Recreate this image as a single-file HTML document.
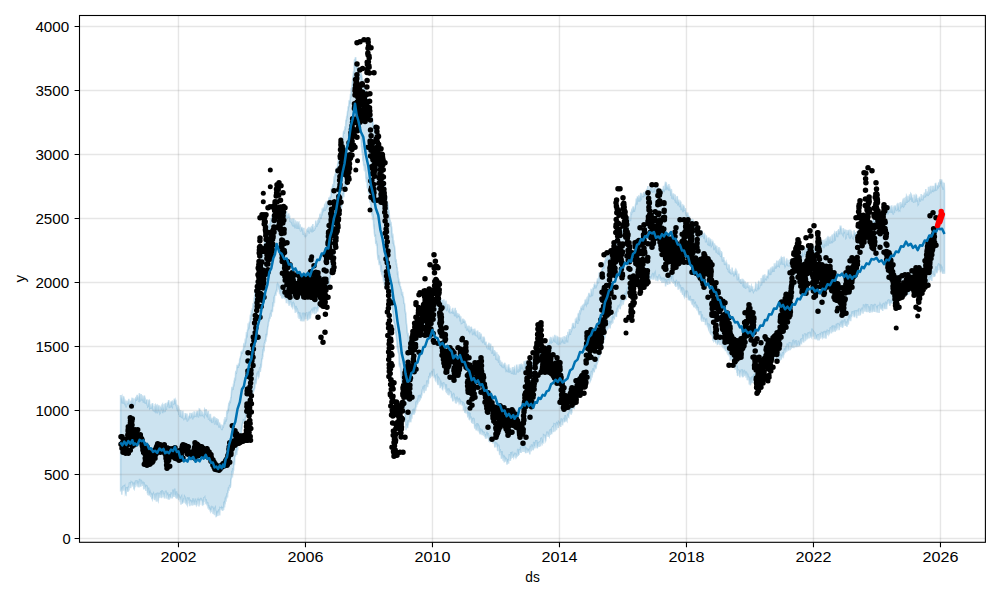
<!DOCTYPE html><html><head><meta charset="utf-8"><style>html,body{margin:0;padding:0;background:#fff;}svg{display:block}text{font-family:"Liberation Sans",sans-serif;fill:#000}</style></head><body>
<svg width="1000" height="600" viewBox="0 0 1000 600">
<rect x="0" y="0" width="1000" height="600" fill="#fff"/>
<polygon points="120.6,395.1 120.9,398.4 121.2,398.7 121.5,396.7 121.8,396.2 122.1,403.5 122.3,400.2 122.6,397.7 122.9,401.5 123.2,403.7 123.5,396.9 123.8,397.1 124.1,398.6 124.4,404.0 124.7,399.2 125.0,404.4 125.3,404.3 125.5,403.3 125.8,400.5 126.1,407.4 126.4,405.8 126.7,403.3 127.0,400.6 127.3,404.4 127.6,402.0 127.9,403.6 128.2,401.3 128.5,404.0 128.8,398.8 129.1,400.9 129.4,406.8 129.7,405.9 130.0,400.7 130.3,405.6 130.6,400.6 130.9,406.2 131.2,404.4 131.5,401.4 131.8,399.9 132.1,397.7 132.4,405.5 132.7,397.9 133.0,404.8 133.3,406.0 133.6,402.3 133.9,398.5 134.2,404.5 134.5,405.3 134.8,402.6 135.1,400.5 135.4,399.0 135.7,398.5 136.0,396.9 136.3,400.8 136.6,398.4 136.9,396.0 137.2,394.9 137.5,399.8 137.8,396.3 138.1,398.0 138.4,396.3 138.7,401.1 139.0,401.3 139.3,393.2 139.6,394.7 139.9,395.7 140.2,401.5 140.5,399.5 140.8,395.4 141.1,394.1 141.4,398.2 141.7,399.5 142.0,400.3 142.3,395.4 142.6,400.6 142.9,399.2 143.1,397.8 143.4,402.6 143.7,396.2 144.0,401.0 144.3,395.5 144.6,396.6 144.9,403.5 145.1,397.5 145.4,402.7 145.7,401.6 146.0,404.0 146.3,400.1 146.6,400.1 146.9,400.0 147.2,405.4 147.5,403.4 147.8,406.8 148.1,406.5 148.4,400.0 148.6,404.1 148.9,400.4 149.2,400.1 149.5,400.7 149.8,408.1 150.1,407.7 150.4,408.4 150.7,404.3 151.0,407.1 151.3,408.8 151.6,405.3 151.9,407.1 152.2,404.2 152.5,403.1 152.8,404.9 153.1,410.7 153.4,407.9 153.7,411.4 154.0,407.3 154.3,405.9 154.6,410.7 154.9,411.2 155.2,404.0 155.5,410.1 155.8,405.0 156.1,405.4 156.4,412.4 156.7,404.9 157.0,406.8 157.3,413.5 157.6,408.3 157.9,405.6 158.2,406.0 158.5,406.7 158.8,411.2 159.1,405.4 159.4,412.7 159.7,407.9 160.0,413.2 160.3,412.7 160.6,407.2 160.9,406.8 161.2,408.8 161.5,405.4 161.8,410.3 162.1,404.8 162.4,404.4 162.7,413.1 163.0,406.8 163.3,409.4 163.6,407.9 163.9,406.5 164.2,404.0 164.5,411.4 164.8,411.5 165.1,411.2 165.4,403.1 165.7,403.7 166.0,407.0 166.3,409.9 166.6,405.6 166.9,406.6 167.2,406.1 167.5,402.3 167.8,404.6 168.1,402.4 168.4,401.8 168.7,400.2 169.0,402.0 169.3,408.3 169.6,403.4 169.9,405.2 170.2,405.1 170.5,407.7 170.8,402.7 171.1,401.9 171.4,402.0 171.7,401.8 172.0,406.5 172.3,406.9 172.6,401.5 172.9,401.8 173.2,403.6 173.5,403.9 173.8,404.0 174.1,400.8 174.4,398.7 174.7,400.7 175.0,399.2 175.3,403.9 175.6,400.0 175.9,400.6 176.2,406.2 176.5,403.7 176.8,408.8 177.1,406.8 177.4,410.8 177.7,405.1 178.0,408.9 178.3,412.2 178.6,406.4 178.9,414.9 179.2,408.5 179.5,414.4 179.8,416.8 180.1,415.7 180.4,411.6 180.7,410.0 181.0,413.9 181.3,417.8 181.6,412.4 181.9,418.0 182.2,411.4 182.5,418.5 182.8,410.7 183.1,413.4 183.4,418.8 183.7,418.0 184.0,419.0 184.3,418.5 184.6,417.8 184.9,417.5 185.2,413.0 185.5,415.5 185.8,413.2 186.1,418.5 186.4,418.3 186.7,414.9 187.0,413.5 187.3,421.5 187.6,420.0 187.9,417.6 188.2,417.5 188.5,420.3 188.8,416.7 189.1,416.1 189.4,415.6 189.7,414.9 190.0,412.8 190.3,418.4 190.6,416.3 190.9,417.7 191.2,413.1 191.5,415.7 191.8,413.6 192.1,413.4 192.4,414.5 192.7,419.5 193.0,415.4 193.3,415.4 193.6,417.2 193.9,413.6 194.2,411.4 194.5,415.9 194.8,415.4 195.1,416.4 195.4,414.3 195.7,416.2 196.0,416.3 196.3,411.6 196.6,413.6 196.9,413.2 197.2,410.8 197.5,412.3 197.8,413.5 198.1,416.6 198.4,416.7 198.7,410.9 199.0,414.4 199.3,408.9 199.6,409.0 199.9,412.9 200.2,416.1 200.5,409.7 200.8,415.1 201.1,416.2 201.4,411.1 201.7,414.5 202.0,416.0 202.3,411.7 202.6,414.7 202.9,415.0 203.2,413.7 203.5,416.0 203.8,416.2 204.1,416.7 204.4,413.1 204.7,409.3 205.0,409.8 205.3,409.8 205.6,413.2 205.9,415.1 206.2,409.0 206.5,415.0 206.8,415.6 207.1,412.6 207.4,414.4 207.7,411.5 208.0,416.9 208.3,411.0 208.6,419.8 208.9,418.5 209.2,417.2 209.5,414.2 209.8,420.3 210.1,420.9 210.4,413.7 210.7,419.6 211.0,420.4 211.3,419.1 211.6,419.8 211.9,417.8 212.2,422.3 212.5,423.0 212.8,417.9 213.1,421.9 213.4,418.8 213.7,416.5 214.0,418.2 214.3,416.6 214.6,423.8 214.9,424.5 215.2,417.2 215.5,421.8 215.8,420.4 216.1,418.1 216.4,420.1 216.7,420.1 217.0,425.1 217.3,418.5 217.6,420.4 217.9,422.9 218.2,419.4 218.5,425.1 218.8,425.3 219.1,427.7 219.4,422.5 219.7,423.5 220.0,426.3 220.3,424.2 220.6,427.4 220.9,424.3 221.2,428.1 221.5,428.9 221.8,428.9 222.1,430.1 222.4,426.0 222.7,425.1 223.0,428.1 223.3,426.9 223.6,424.8 223.9,422.7 224.2,421.5 224.5,418.9 224.8,424.2 225.1,417.0 225.3,421.6 225.6,418.8 225.9,421.6 226.2,418.7 226.5,419.6 226.8,411.1 227.0,413.4 227.3,413.0 227.6,409.7 227.9,410.4 228.2,408.1 228.5,408.7 228.8,402.9 229.0,405.6 229.3,404.4 229.6,401.7 229.9,401.1 230.2,403.1 230.5,400.7 230.8,397.4 231.1,397.2 231.4,393.2 231.7,390.1 232.0,386.7 232.3,387.5 232.6,388.9 232.9,389.9 233.2,387.9 233.5,383.6 233.8,386.5 234.1,380.5 234.4,382.6 234.7,377.6 235.0,379.4 235.3,380.5 235.6,373.2 235.9,370.9 236.2,373.8 236.5,371.9 236.8,369.2 237.1,364.9 237.4,367.3 237.7,366.5 238.0,365.1 238.3,367.9 238.6,364.2 238.9,364.3 239.2,364.5 239.5,361.9 239.8,358.3 240.1,359.4 240.4,357.2 240.7,356.0 241.0,354.6 241.2,351.4 241.5,352.6 241.8,351.9 242.1,353.8 242.4,351.7 242.7,351.6 243.0,350.2 243.3,350.0 243.6,347.4 243.8,344.4 244.1,343.0 244.4,346.3 244.7,347.1 245.0,343.4 245.3,338.6 245.6,343.4 245.9,338.9 246.2,337.3 246.5,332.1 246.8,334.8 247.1,335.4 247.4,331.1 247.7,329.1 247.9,330.5 248.2,323.4 248.5,326.4 248.8,329.1 249.1,325.5 249.4,321.6 249.7,322.9 250.0,320.8 250.3,315.9 250.6,314.8 250.9,319.7 251.2,312.9 251.4,310.0 251.7,315.5 252.0,311.5 252.3,308.8 252.6,308.8 252.8,309.5 253.1,303.0 253.4,305.9 253.7,305.0 254.0,304.0 254.3,297.2 254.6,298.3 254.9,293.0 255.2,293.9 255.5,288.5 255.8,292.0 256.1,290.7 256.4,283.9 256.6,281.0 256.9,285.7 257.2,281.5 257.5,280.9 257.8,271.7 258.1,277.7 258.4,273.5 258.7,269.0 259.0,268.3 259.3,269.8 259.6,268.6 259.9,261.8 260.2,264.3 260.5,258.7 260.8,264.5 261.1,258.3 261.4,261.0 261.7,257.9 262.0,255.3 262.3,250.8 262.6,251.7 262.9,246.7 263.1,245.3 263.4,249.0 263.7,244.4 264.0,246.5 264.3,240.5 264.6,243.4 264.9,242.0 265.2,236.9 265.5,233.8 265.8,235.1 266.1,234.6 266.4,229.7 266.7,229.2 267.0,226.7 267.3,230.9 267.6,232.9 267.9,226.2 268.2,223.9 268.5,229.3 268.8,229.6 269.1,230.3 269.4,226.4 269.7,223.3 270.0,227.0 270.3,219.8 270.6,224.3 270.9,218.1 271.1,220.1 271.4,220.1 271.7,218.2 272.0,215.5 272.3,215.2 272.6,219.6 272.9,215.4 273.2,215.6 273.5,211.3 273.8,214.9 274.1,210.5 274.4,212.0 274.7,213.9 275.0,213.8 275.3,204.4 275.6,211.1 275.9,211.6 276.2,206.8 276.5,207.5 276.8,209.3 277.0,212.4 277.3,207.9 277.6,212.3 277.9,211.4 278.2,206.0 278.5,213.1 278.8,205.1 279.1,206.5 279.4,211.3 279.7,206.0 280.0,209.1 280.2,207.0 280.5,210.2 280.8,213.7 281.1,214.4 281.4,206.7 281.7,207.1 282.0,214.2 282.3,207.2 282.6,209.3 282.9,208.0 283.1,207.9 283.4,207.4 283.7,213.0 284.0,214.1 284.3,213.8 284.6,215.4 284.9,214.1 285.2,212.0 285.5,214.6 285.8,218.0 286.1,215.5 286.4,212.3 286.6,211.0 286.9,219.2 287.2,216.5 287.5,214.7 287.8,217.3 288.1,217.2 288.4,217.2 288.7,213.4 289.0,216.3 289.3,217.1 289.6,215.5 289.9,221.9 290.1,218.1 290.4,220.6 290.7,221.4 291.0,222.0 291.3,222.1 291.6,222.7 291.9,218.5 292.2,225.3 292.5,218.2 292.8,225.4 293.1,225.2 293.4,225.5 293.6,218.6 293.9,219.2 294.2,226.0 294.5,223.2 294.8,222.6 295.1,228.4 295.4,220.2 295.7,224.8 296.0,224.2 296.3,221.6 296.6,224.2 296.9,227.2 297.1,229.0 297.4,221.4 297.7,226.1 298.0,222.3 298.3,228.9 298.6,222.7 298.9,222.4 299.2,225.7 299.5,229.1 299.8,225.6 300.1,224.2 300.4,230.4 300.6,230.8 300.9,231.5 301.2,226.9 301.5,228.2 301.8,226.9 302.1,230.0 302.4,228.3 302.7,228.6 303.0,232.9 303.3,234.8 303.6,231.7 303.9,227.7 304.1,232.9 304.4,231.4 304.7,236.5 305.0,234.4 305.3,235.7 305.6,234.8 305.9,233.1 306.2,236.2 306.5,235.4 306.8,230.3 307.1,228.9 307.4,230.7 307.6,231.8 307.9,227.8 308.2,229.9 308.5,231.7 308.8,226.7 309.1,233.5 309.4,231.8 309.7,228.6 310.0,228.3 310.3,228.5 310.6,228.1 310.9,231.7 311.1,229.3 311.4,229.3 311.7,225.7 312.0,232.4 312.3,226.9 312.6,226.8 312.9,224.0 313.2,231.7 313.5,226.7 313.8,230.2 314.1,229.9 314.4,229.9 314.6,228.1 314.9,228.7 315.2,228.3 315.5,226.8 315.8,220.5 316.1,223.6 316.4,223.7 316.7,227.0 317.0,224.8 317.3,223.6 317.6,223.6 317.9,219.7 318.1,224.5 318.4,221.3 318.7,218.6 319.0,218.7 319.3,222.8 319.6,218.3 319.9,214.5 320.2,213.8 320.5,218.1 320.8,216.4 321.1,218.9 321.4,211.9 321.6,213.4 321.9,215.6 322.2,209.0 322.5,208.9 322.8,212.3 323.1,209.3 323.4,207.3 323.7,208.2 324.0,211.0 324.3,209.6 324.6,205.0 324.9,204.5 325.1,211.0 325.4,208.6 325.7,203.8 326.0,209.5 326.3,201.3 326.6,203.8 326.9,207.3 327.2,205.2 327.5,200.6 327.8,205.2 328.0,201.7 328.3,203.2 328.6,202.6 328.9,197.6 329.2,199.0 329.5,197.1 329.8,199.9 330.1,197.8 330.3,196.4 330.6,196.4 330.9,197.4 331.2,190.1 331.5,188.2 331.8,191.8 332.1,190.8 332.4,187.3 332.7,185.9 333.0,184.0 333.2,187.2 333.5,185.3 333.8,182.3 334.1,176.2 334.4,182.4 334.7,177.7 335.0,174.1 335.3,173.9 335.6,176.1 335.9,168.6 336.2,168.3 336.5,168.5 336.7,172.3 337.0,169.5 337.3,170.0 337.6,164.6 337.9,163.3 338.2,161.5 338.5,159.7 338.8,158.3 339.1,159.1 339.4,158.7 339.7,152.2 340.0,152.6 340.2,148.1 340.5,146.4 340.8,146.7 341.1,145.8 341.4,143.9 341.7,146.2 342.0,137.3 342.3,140.1 342.6,141.8 342.9,138.0 343.2,135.0 343.5,131.8 343.8,130.6 344.1,134.0 344.4,132.1 344.7,128.7 345.0,129.3 345.3,128.1 345.6,125.9 345.9,120.3 346.1,119.6 346.4,121.1 346.7,115.9 347.0,117.8 347.3,114.0 347.6,111.2 347.9,110.8 348.2,106.3 348.5,107.0 348.8,106.0 349.1,100.9 349.4,100.7 349.7,100.0 350.0,103.7 350.3,98.9 350.6,93.8 350.9,97.8 351.2,88.7 351.5,88.5 351.8,88.1 352.1,85.2 352.4,80.5 352.6,81.1 352.9,76.1 353.2,75.8 353.5,71.4 353.8,73.4 354.1,68.8 354.4,60.9 354.7,59.0 355.0,64.4 355.3,58.4 355.6,57.2 355.9,60.0 356.2,62.9 356.5,68.0 356.8,63.8 357.0,67.6 357.3,69.5 357.6,63.7 357.9,69.4 358.2,73.7 358.5,70.6 358.8,71.3 359.1,70.4 359.4,76.6 359.7,77.6 360.0,70.5 360.2,75.1 360.5,74.5 360.8,77.3 361.1,72.9 361.4,74.7 361.7,75.4 362.0,77.7 362.3,81.7 362.6,83.5 362.9,84.0 363.2,84.2 363.5,80.1 363.8,84.0 364.1,87.7 364.4,85.5 364.7,88.7 365.0,93.4 365.3,87.5 365.6,95.4 365.9,89.9 366.2,93.6 366.5,99.6 366.8,94.5 367.1,98.5 367.4,98.7 367.7,104.0 368.0,106.0 368.3,100.9 368.6,104.0 368.9,108.8 369.2,106.8 369.5,105.0 369.8,111.0 370.1,108.4 370.4,110.9 370.7,107.8 371.0,117.9 371.3,116.1 371.6,119.9 371.9,121.6 372.2,116.7 372.5,120.6 372.8,121.2 373.1,125.6 373.4,127.9 373.7,123.9 374.0,125.9 374.3,131.3 374.6,130.2 374.9,129.3 375.2,131.5 375.5,136.4 375.8,138.3 376.1,143.2 376.4,140.9 376.7,143.2 377.0,140.6 377.3,144.6 377.6,144.9 377.9,150.2 378.2,147.9 378.5,148.9 378.8,151.8 379.1,154.3 379.4,154.6 379.7,158.6 380.0,156.4 380.3,164.6 380.6,164.8 380.9,165.3 381.2,163.0 381.5,167.3 381.8,172.5 382.1,174.0 382.4,177.5 382.7,180.1 383.0,176.8 383.3,180.3 383.6,180.7 383.9,180.7 384.2,182.6 384.5,185.5 384.8,185.7 385.1,191.5 385.4,194.7 385.6,195.2 385.9,198.1 386.2,195.7 386.5,197.2 386.8,202.3 387.1,206.9 387.4,204.5 387.7,202.5 388.0,204.4 388.3,208.7 388.6,213.2 388.9,210.2 389.2,213.2 389.5,219.1 389.8,223.6 390.1,219.5 390.4,223.6 390.7,224.6 391.0,221.9 391.3,226.5 391.6,226.7 391.9,229.7 392.2,236.3 392.4,237.5 392.7,233.7 393.0,236.0 393.3,243.9 393.6,240.3 393.9,244.2 394.2,245.8 394.4,245.8 394.7,247.6 395.0,250.6 395.3,254.9 395.6,261.6 395.9,260.9 396.2,259.3 396.4,265.2 396.7,263.4 397.0,267.5 397.3,267.6 397.6,275.0 397.9,271.4 398.2,277.2 398.4,277.5 398.7,281.0 399.0,280.6 399.3,284.7 399.6,281.7 399.9,285.4 400.2,286.1 400.5,286.6 400.8,288.2 401.1,289.2 401.4,289.3 401.7,295.2 402.0,294.2 402.3,294.8 402.6,291.8 402.9,297.4 403.2,296.0 403.5,297.9 403.8,301.4 404.1,304.0 404.4,303.0 404.7,304.8 405.0,309.7 405.3,311.7 405.6,313.6 405.8,313.5 406.1,318.4 406.4,323.5 406.7,325.0 407.0,327.5 407.3,332.7 407.6,334.0 407.9,336.1 408.1,332.7 408.4,337.5 408.7,343.3 409.0,340.9 409.3,346.9 409.6,339.2 409.9,345.1 410.2,338.3 410.5,343.1 410.8,342.4 411.1,337.0 411.4,341.1 411.7,333.7 412.0,339.1 412.3,334.1 412.6,333.8 412.9,330.1 413.1,333.7 413.4,329.9 413.7,332.7 414.0,333.1 414.3,330.6 414.6,324.5 414.9,332.2 415.2,331.2 415.5,327.9 415.8,324.7 416.1,325.4 416.4,327.5 416.7,322.8 417.0,325.0 417.3,322.8 417.6,320.6 417.9,324.5 418.2,319.2 418.5,320.4 418.8,314.8 419.1,318.0 419.4,313.5 419.7,319.0 420.0,312.1 420.3,312.0 420.6,312.1 420.9,311.9 421.1,314.8 421.4,313.1 421.7,311.9 422.0,317.9 422.3,316.9 422.6,314.3 422.9,315.3 423.2,315.1 423.5,309.6 423.8,314.4 424.1,308.9 424.4,311.5 424.7,309.3 425.0,307.2 425.3,312.5 425.6,313.6 425.9,307.9 426.2,312.8 426.5,307.7 426.8,310.2 427.1,313.0 427.4,310.7 427.7,304.1 428.0,307.3 428.3,306.6 428.6,305.6 428.9,310.2 429.2,306.6 429.5,308.8 429.8,308.1 430.1,306.9 430.4,302.6 430.7,307.9 431.0,309.7 431.3,303.1 431.6,307.1 431.9,305.5 432.2,303.9 432.5,306.9 432.8,309.0 433.1,300.2 433.4,307.7 433.7,302.8 434.0,306.6 434.3,300.3 434.6,304.9 434.9,299.1 435.2,300.9 435.5,306.3 435.8,303.2 436.1,304.0 436.4,300.8 436.7,300.6 437.0,300.9 437.3,303.7 437.6,303.4 437.9,298.8 438.2,301.2 438.5,302.4 438.8,302.8 439.1,306.2 439.4,305.5 439.7,299.5 440.0,301.6 440.3,299.3 440.6,298.6 440.9,299.1 441.2,300.1 441.5,305.4 441.8,304.6 442.1,305.8 442.4,301.2 442.7,300.1 443.0,307.5 443.3,306.3 443.6,307.5 443.9,299.3 444.2,302.8 444.5,305.1 444.8,306.3 445.1,308.1 445.4,304.9 445.7,303.8 446.0,300.5 446.3,308.0 446.6,309.8 446.9,309.4 447.2,307.4 447.5,304.8 447.8,304.1 448.1,309.1 448.4,310.8 448.7,311.3 449.0,304.6 449.3,308.7 449.6,308.4 449.9,308.0 450.2,311.7 450.5,313.3 450.8,311.7 451.1,311.8 451.4,312.0 451.7,311.9 452.0,311.1 452.2,308.7 452.5,313.6 452.8,307.8 453.1,312.6 453.4,310.4 453.7,312.0 454.0,312.9 454.3,311.5 454.6,316.1 454.9,309.6 455.2,307.8 455.5,316.5 455.8,310.9 456.1,310.9 456.4,312.4 456.7,314.4 457.0,318.2 457.3,316.1 457.6,313.0 457.9,315.4 458.2,315.0 458.5,315.9 458.7,315.6 459.0,313.8 459.3,316.3 459.6,316.7 459.9,315.5 460.2,321.5 460.5,317.8 460.8,316.3 461.1,320.5 461.4,323.4 461.7,323.3 462.0,322.2 462.3,323.5 462.6,320.1 462.9,318.6 463.2,319.9 463.5,321.1 463.8,320.8 464.1,322.9 464.4,320.4 464.7,320.7 465.0,322.3 465.3,322.2 465.6,328.2 465.9,326.3 466.2,323.7 466.5,326.2 466.8,330.7 467.1,328.4 467.4,328.6 467.6,327.5 467.9,326.1 468.2,330.3 468.5,325.6 468.8,332.2 469.1,325.8 469.4,332.2 469.7,329.0 470.0,331.8 470.3,331.1 470.6,327.0 470.9,330.8 471.2,326.6 471.5,328.2 471.8,329.5 472.1,328.7 472.4,332.1 472.7,335.1 473.0,329.6 473.3,334.1 473.6,328.8 473.9,333.3 474.2,330.3 474.5,332.3 474.8,328.5 475.1,335.5 475.4,330.2 475.6,332.7 475.9,331.4 476.2,336.3 476.5,334.5 476.8,334.9 477.1,336.4 477.4,332.0 477.7,330.5 478.0,337.6 478.3,333.1 478.6,337.8 478.9,339.3 479.2,336.6 479.5,332.1 479.8,339.1 480.1,337.3 480.4,334.1 480.6,334.1 480.9,337.1 481.2,333.9 481.5,341.4 481.8,340.0 482.1,341.4 482.4,337.9 482.7,343.2 483.0,336.5 483.3,342.2 483.6,338.5 483.9,336.6 484.2,338.1 484.5,339.2 484.8,344.7 485.1,341.6 485.4,342.8 485.7,344.3 486.0,341.5 486.3,345.1 486.6,345.7 486.9,348.2 487.2,344.6 487.5,348.1 487.8,349.4 488.1,347.8 488.4,345.0 488.7,344.0 489.0,342.7 489.3,349.6 489.6,343.6 489.9,347.7 490.2,347.1 490.5,343.7 490.8,345.5 491.1,351.3 491.4,349.0 491.7,352.8 492.0,352.9 492.3,346.0 492.6,351.7 492.9,346.5 493.2,350.3 493.5,350.9 493.8,356.0 494.1,353.2 494.4,350.0 494.7,353.3 495.0,353.9 495.3,351.4 495.6,353.3 495.9,358.4 496.2,359.7 496.5,358.3 496.8,352.4 497.1,360.4 497.4,356.8 497.7,360.6 498.0,355.1 498.3,355.3 498.6,362.6 498.9,357.5 499.2,355.7 499.5,360.2 499.8,365.0 500.1,364.0 500.4,360.3 500.7,366.0 501.0,364.6 501.3,365.3 501.6,363.9 501.9,361.9 502.2,366.8 502.5,363.2 502.8,367.7 503.1,364.6 503.4,368.2 503.7,364.7 504.0,364.6 504.3,366.3 504.6,364.0 504.9,362.7 505.2,366.9 505.5,369.4 505.8,364.5 506.1,370.0 506.4,369.5 506.7,369.6 507.0,366.6 507.3,372.1 507.6,370.5 507.9,368.8 508.2,364.8 508.5,369.2 508.8,364.4 509.1,372.6 509.4,367.7 509.7,368.2 510.0,370.1 510.3,371.1 510.6,370.8 510.9,370.1 511.2,371.7 511.5,373.8 511.8,370.4 512.1,371.1 512.4,374.1 512.7,367.1 513.0,368.7 513.3,370.0 513.6,368.8 513.9,374.8 514.2,367.8 514.5,367.3 514.8,369.0 515.1,370.5 515.4,373.1 515.7,374.5 516.0,373.0 516.3,370.6 516.6,365.2 516.9,365.2 517.2,370.1 517.5,371.6 517.8,366.5 518.1,372.7 518.4,368.8 518.7,368.9 519.0,369.2 519.3,364.2 519.6,364.9 519.9,371.7 520.2,365.6 520.5,363.9 520.8,365.5 521.1,369.4 521.4,365.1 521.7,364.5 522.0,364.9 522.3,366.5 522.6,368.6 522.9,364.4 523.2,369.3 523.5,370.0 523.8,368.3 524.1,361.3 524.4,363.1 524.7,368.3 525.0,367.4 525.3,360.9 525.6,363.7 525.9,363.1 526.2,366.6 526.5,360.2 526.8,362.9 527.1,366.8 527.4,368.2 527.6,360.7 527.9,365.7 528.2,366.6 528.5,368.6 528.8,364.7 529.1,369.8 529.4,363.0 529.7,362.4 530.0,362.7 530.3,366.4 530.6,361.9 530.9,362.8 531.2,361.8 531.5,360.1 531.8,367.9 532.1,361.9 532.4,367.2 532.6,364.6 532.9,359.7 533.2,365.8 533.5,357.1 533.8,365.5 534.1,356.6 534.4,358.3 534.7,360.7 535.0,355.4 535.3,361.9 535.6,355.5 535.9,361.8 536.2,354.5 536.5,358.6 536.8,355.5 537.1,355.9 537.4,357.4 537.6,356.1 537.9,356.0 538.2,358.1 538.5,353.7 538.8,353.2 539.1,357.5 539.4,353.7 539.7,359.1 540.0,354.3 540.3,354.4 540.6,350.0 540.9,349.6 541.2,350.0 541.5,354.3 541.8,354.2 542.1,356.3 542.4,351.2 542.7,353.1 543.0,349.3 543.3,346.4 543.6,348.9 543.9,350.9 544.2,351.3 544.5,352.1 544.8,350.5 545.1,347.6 545.4,347.0 545.7,346.2 546.0,345.5 546.3,347.0 546.6,345.7 546.9,347.9 547.2,343.9 547.5,343.8 547.8,346.7 548.1,345.0 548.4,343.3 548.7,343.3 549.0,345.2 549.3,343.1 549.6,339.7 549.9,339.8 550.2,342.1 550.5,336.8 550.8,340.2 551.1,343.8 551.4,337.5 551.7,339.1 552.0,341.1 552.3,343.0 552.6,340.8 552.9,340.1 553.2,337.8 553.5,338.3 553.8,340.2 554.1,337.7 554.4,341.7 554.7,334.8 555.0,341.7 555.3,341.8 555.6,338.1 555.9,335.6 556.2,338.7 556.5,341.1 556.8,343.1 557.1,343.9 557.4,338.1 557.7,337.0 558.0,337.3 558.3,345.1 558.6,341.9 558.9,337.1 559.2,342.1 559.5,344.4 559.8,341.2 560.1,337.8 560.4,344.4 560.7,342.0 561.0,337.3 561.3,342.6 561.6,340.3 561.9,340.9 562.2,339.0 562.5,338.4 562.8,339.5 563.1,340.5 563.4,339.8 563.7,343.4 564.0,336.2 564.3,337.3 564.6,343.8 564.9,340.7 565.2,340.6 565.5,340.5 565.8,336.8 566.1,338.0 566.4,336.0 566.7,335.2 567.0,342.5 567.3,339.7 567.6,340.2 567.9,331.7 568.2,337.4 568.5,333.2 568.8,334.3 569.1,335.3 569.4,329.0 569.7,331.5 570.0,332.6 570.3,335.0 570.6,331.3 570.9,329.1 571.2,331.2 571.5,330.5 571.8,327.4 572.1,329.2 572.4,326.2 572.7,323.3 573.0,325.4 573.3,322.9 573.6,326.0 573.9,325.5 574.2,328.3 574.5,326.7 574.8,326.2 575.1,327.8 575.4,320.8 575.7,321.2 576.0,319.5 576.3,317.8 576.6,321.1 576.9,320.6 577.2,316.7 577.5,323.3 577.8,323.3 578.1,314.6 578.4,313.5 578.7,313.5 579.0,319.0 579.3,319.4 579.6,311.6 579.9,310.3 580.2,314.4 580.5,311.8 580.8,308.3 581.1,307.5 581.4,308.6 581.6,307.8 581.9,308.0 582.2,309.7 582.5,306.4 582.8,305.6 583.1,304.8 583.4,310.3 583.7,303.9 584.0,306.3 584.3,304.8 584.6,303.3 584.9,303.5 585.2,299.5 585.5,300.5 585.8,304.2 586.1,304.8 586.4,299.4 586.6,298.6 586.9,304.6 587.2,296.9 587.5,302.6 587.8,302.8 588.1,295.7 588.4,301.2 588.7,294.5 589.0,292.9 589.3,294.5 589.6,294.5 589.9,296.2 590.2,294.4 590.5,297.1 590.8,295.5 591.1,290.2 591.4,290.5 591.7,295.0 592.0,288.9 592.3,296.0 592.6,294.3 592.9,288.5 593.2,288.6 593.5,287.8 593.8,288.8 594.0,286.7 594.3,284.1 594.6,285.5 594.9,284.3 595.2,285.1 595.5,285.3 595.8,288.4 596.1,285.8 596.4,284.6 596.7,286.2 597.0,281.1 597.3,280.8 597.6,278.4 597.9,282.9 598.2,282.6 598.5,282.2 598.8,278.7 599.1,273.6 599.4,272.5 599.7,278.3 600.0,278.4 600.3,274.6 600.6,277.4 600.9,276.9 601.2,274.6 601.5,270.5 601.8,270.6 602.1,268.9 602.4,268.6 602.7,268.5 603.0,263.7 603.2,264.0 603.5,263.6 603.8,266.4 604.1,268.4 604.4,266.2 604.7,260.4 605.0,262.5 605.3,263.3 605.6,258.2 605.9,257.0 606.2,261.1 606.5,257.1 606.8,260.1 607.1,255.2 607.4,260.8 607.7,255.3 608.0,255.8 608.3,256.5 608.6,259.1 608.9,259.0 609.2,257.9 609.5,256.1 609.8,250.1 610.1,250.8 610.4,253.5 610.7,257.1 611.0,254.4 611.3,249.1 611.6,250.1 611.9,255.1 612.2,250.5 612.5,253.2 612.8,252.6 613.1,251.3 613.4,249.2 613.7,248.9 614.0,245.3 614.3,242.5 614.6,249.2 614.9,240.1 615.2,241.4 615.5,243.7 615.8,246.0 616.1,238.3 616.4,237.8 616.7,242.4 617.0,237.0 617.3,236.9 617.6,235.8 617.9,232.3 618.2,239.7 618.5,236.9 618.8,230.2 619.1,230.4 619.4,230.3 619.7,231.9 620.0,236.1 620.3,228.9 620.6,229.3 620.9,229.6 621.2,231.0 621.5,234.1 621.8,230.4 622.1,233.2 622.4,229.6 622.7,228.1 623.0,231.6 623.3,228.6 623.6,227.1 623.9,227.0 624.2,225.1 624.5,225.2 624.8,221.5 625.1,222.1 625.4,226.7 625.7,220.5 626.0,220.8 626.3,219.9 626.6,221.3 626.9,218.1 627.2,220.5 627.5,222.3 627.8,222.5 628.1,223.8 628.4,216.4 628.7,221.0 629.0,216.5 629.3,217.4 629.6,219.0 629.9,220.9 630.2,218.8 630.5,221.1 630.8,211.8 631.1,213.8 631.4,214.6 631.7,210.0 632.0,209.4 632.3,211.5 632.6,212.5 632.9,207.9 633.2,206.5 633.5,208.0 633.8,211.0 634.1,208.7 634.4,211.8 634.7,207.5 635.0,209.4 635.3,205.8 635.6,204.2 635.9,203.0 636.2,199.2 636.5,198.5 636.8,203.3 637.1,204.5 637.4,196.3 637.7,197.1 638.0,197.8 638.3,197.4 638.6,201.8 638.9,196.3 639.2,196.5 639.5,197.9 639.8,201.8 640.1,195.6 640.4,198.4 640.7,192.8 641.0,196.0 641.3,200.2 641.6,193.6 641.9,194.6 642.2,197.0 642.5,196.0 642.8,195.8 643.1,195.9 643.4,196.2 643.7,192.8 644.0,192.8 644.3,192.9 644.6,193.7 644.9,193.8 645.2,196.3 645.5,191.7 645.8,191.8 646.1,195.0 646.4,195.9 646.7,189.0 647.0,193.1 647.3,188.5 647.6,192.7 647.9,186.1 648.2,190.0 648.5,190.4 648.8,191.3 649.1,193.1 649.4,191.8 649.7,189.5 650.0,188.8 650.3,184.5 650.6,189.5 650.9,189.6 651.2,191.4 651.5,186.3 651.8,190.2 652.1,185.5 652.4,191.6 652.7,192.6 653.0,189.2 653.3,191.5 653.6,191.3 653.9,188.1 654.2,186.2 654.5,192.2 654.8,188.6 655.1,186.9 655.4,189.4 655.7,193.0 656.0,194.2 656.3,190.8 656.6,194.6 656.9,187.6 657.2,190.6 657.5,186.4 657.8,188.6 658.1,194.5 658.4,187.3 658.7,192.8 659.0,191.7 659.3,196.1 659.6,196.2 659.9,188.4 660.2,189.7 660.5,196.3 660.8,190.3 661.1,188.8 661.4,195.3 661.7,192.4 662.0,189.3 662.3,191.1 662.6,189.6 662.9,189.5 663.2,189.9 663.5,185.9 663.8,189.5 664.1,192.1 664.4,188.4 664.7,189.7 665.0,184.8 665.3,183.3 665.6,181.7 665.9,190.2 666.2,182.3 666.5,184.6 666.8,187.0 667.1,187.8 667.4,186.8 667.7,185.4 668.0,189.0 668.3,186.2 668.6,190.4 668.9,184.0 669.2,190.7 669.5,185.8 669.8,189.1 670.1,190.3 670.4,188.7 670.7,191.7 671.0,196.0 671.3,189.2 671.6,191.2 671.9,198.7 672.2,194.4 672.5,194.3 672.8,199.3 673.1,198.4 673.4,193.3 673.7,197.5 674.0,194.1 674.3,199.8 674.6,198.2 674.9,200.7 675.2,194.5 675.5,202.6 675.8,196.7 676.1,202.6 676.4,199.3 676.7,203.7 677.0,196.9 677.3,196.8 677.6,200.9 677.9,205.4 678.2,201.6 678.5,202.3 678.8,199.6 679.1,203.3 679.4,202.6 679.7,207.1 680.0,206.1 680.3,204.2 680.6,201.8 680.9,202.2 681.2,210.1 681.5,207.4 681.8,204.4 682.1,210.1 682.4,205.2 682.7,207.9 683.0,212.1 683.3,205.7 683.6,206.1 683.9,206.1 684.2,207.5 684.5,209.9 684.8,209.9 685.1,210.0 685.4,208.0 685.7,212.7 686.0,212.7 686.3,215.8 686.6,212.2 686.9,215.1 687.2,213.1 687.5,217.4 687.8,212.6 688.1,215.8 688.4,215.8 688.7,216.3 689.0,217.4 689.3,217.8 689.6,216.2 689.9,221.2 690.2,222.8 690.5,219.7 690.8,220.9 691.1,222.1 691.4,218.9 691.7,221.9 692.0,221.2 692.3,221.8 692.6,221.5 692.9,223.2 693.2,220.8 693.5,221.5 693.8,221.6 694.1,225.7 694.4,223.0 694.7,228.3 695.0,229.9 695.3,229.0 695.6,225.6 695.9,231.6 696.1,226.7 696.4,227.3 696.7,229.8 697.0,230.8 697.3,229.0 697.6,232.8 697.9,233.7 698.2,229.0 698.5,228.8 698.8,230.6 699.1,233.7 699.4,233.7 699.7,229.6 700.0,231.8 700.3,236.6 700.6,237.3 700.9,234.3 701.2,236.1 701.5,236.8 701.8,231.5 702.1,230.3 702.4,235.5 702.7,233.8 703.0,237.0 703.3,233.6 703.6,235.1 703.9,238.8 704.2,232.7 704.5,235.8 704.8,233.9 705.1,237.6 705.4,239.7 705.7,242.3 706.0,240.5 706.3,235.4 706.6,238.3 706.9,239.6 707.2,240.8 707.5,241.7 707.8,244.4 708.1,244.4 708.4,238.1 708.7,238.0 709.0,245.6 709.3,238.6 709.6,246.1 709.9,238.8 710.2,243.2 710.5,239.4 710.8,239.6 711.1,241.7 711.4,246.0 711.7,245.5 712.0,242.2 712.3,241.0 712.6,243.3 712.9,242.0 713.2,243.0 713.5,245.7 713.8,246.0 714.1,250.3 714.4,243.2 714.7,247.6 715.0,248.3 715.3,244.9 715.6,247.2 715.9,245.5 716.2,252.6 716.5,248.0 716.8,245.7 717.1,249.7 717.4,250.4 717.7,253.9 718.0,252.6 718.3,248.2 718.6,254.8 718.9,247.0 719.2,253.5 719.5,247.9 719.8,255.2 720.1,249.9 720.4,255.8 720.7,256.3 721.0,256.4 721.3,251.0 721.6,254.2 721.9,252.2 722.2,258.4 722.5,261.6 722.8,258.1 723.1,260.1 723.4,261.0 723.7,257.1 724.0,259.9 724.3,260.5 724.6,264.9 724.9,262.6 725.2,262.9 725.5,265.2 725.8,262.7 726.1,262.0 726.4,264.0 726.7,262.5 727.0,268.7 727.3,267.1 727.6,268.9 727.9,268.7 728.2,264.3 728.5,271.4 728.8,271.7 729.1,264.6 729.4,268.7 729.7,272.1 730.0,269.0 730.3,273.2 730.6,271.9 730.9,271.9 731.2,274.3 731.5,273.5 731.8,272.0 732.1,267.5 732.4,271.5 732.7,274.0 733.0,272.8 733.3,273.7 733.6,271.8 733.9,276.5 734.2,271.4 734.5,275.2 734.8,273.6 735.1,271.2 735.4,270.2 735.7,271.4 736.0,273.0 736.3,274.8 736.6,271.0 736.9,271.6 737.2,278.4 737.5,280.3 737.8,275.6 738.1,276.3 738.4,277.8 738.7,273.6 739.0,278.0 739.3,279.6 739.6,282.4 739.9,280.2 740.2,279.7 740.5,279.0 740.8,284.0 741.1,281.0 741.4,281.1 741.7,283.9 742.0,281.7 742.3,278.7 742.6,283.8 742.9,286.5 743.2,282.4 743.5,280.2 743.8,280.5 744.1,288.0 744.4,281.0 744.7,286.1 745.0,281.2 745.3,285.2 745.6,289.0 745.9,283.1 746.2,283.9 746.5,286.8 746.8,286.7 747.1,286.7 747.4,285.4 747.7,282.4 748.0,287.6 748.3,284.9 748.6,288.1 748.9,286.7 749.2,285.3 749.5,292.1 749.8,286.2 750.1,292.2 750.4,288.0 750.7,288.7 751.0,286.4 751.3,285.8 751.6,290.7 751.9,288.6 752.2,289.9 752.5,286.4 752.8,289.5 753.1,291.0 753.4,292.0 753.7,291.3 754.0,289.2 754.3,291.2 754.6,290.0 754.9,288.6 755.2,289.6 755.5,286.3 755.8,283.7 756.1,284.1 756.4,291.2 756.7,290.1 757.0,289.2 757.3,283.8 757.6,288.6 757.9,287.9 758.2,285.3 758.5,282.8 758.8,280.7 759.1,288.4 759.4,288.0 759.7,286.4 760.0,282.4 760.3,284.6 760.6,285.9 760.9,282.2 761.2,278.1 761.5,285.4 761.8,281.1 762.1,282.9 762.4,281.2 762.7,275.9 763.0,279.1 763.3,274.8 763.6,276.7 763.9,282.7 764.2,280.0 764.5,278.6 764.8,274.3 765.1,279.2 765.4,278.2 765.7,278.3 766.0,278.5 766.3,280.4 766.6,275.7 766.9,276.9 767.2,275.9 767.5,276.1 767.8,276.6 768.1,271.9 768.4,270.3 768.7,270.5 769.0,269.5 769.3,273.8 769.6,271.2 769.9,275.2 770.2,269.2 770.5,268.8 770.8,274.9 771.1,267.6 771.4,269.7 771.7,272.4 772.0,270.9 772.3,267.9 772.6,266.4 772.9,270.1 773.2,266.8 773.5,271.9 773.8,266.2 774.1,271.9 774.4,263.4 774.7,268.3 775.0,265.0 775.3,266.4 775.6,265.6 775.9,268.6 776.2,262.7 776.5,267.5 776.8,260.6 777.1,265.6 777.4,266.9 777.7,263.0 778.0,266.4 778.3,261.6 778.6,261.3 778.9,265.9 779.2,266.3 779.5,264.1 779.8,258.7 780.1,264.7 780.4,259.2 780.7,263.3 781.0,258.1 781.3,257.3 781.6,257.8 781.9,261.9 782.2,264.6 782.5,260.7 782.8,257.1 783.1,262.4 783.4,264.4 783.7,263.5 784.0,256.6 784.3,259.6 784.6,263.9 784.9,263.3 785.2,266.1 785.5,265.4 785.8,264.7 786.1,263.9 786.4,261.3 786.7,258.4 787.0,265.1 787.3,262.5 787.6,266.3 787.9,259.7 788.2,266.3 788.5,264.5 788.8,266.7 789.1,265.0 789.4,262.6 789.7,263.3 790.0,259.6 790.3,260.4 790.6,263.0 790.9,259.0 791.2,260.2 791.5,262.4 791.8,261.6 792.1,263.9 792.4,259.5 792.6,260.3 792.9,258.8 793.2,261.6 793.5,260.2 793.8,262.9 794.1,255.4 794.4,255.1 794.7,256.4 795.0,259.1 795.3,259.2 795.6,255.1 795.9,255.5 796.2,258.3 796.5,255.1 796.8,260.0 797.1,253.3 797.4,259.2 797.6,253.3 797.9,258.1 798.2,258.5 798.5,259.7 798.8,259.1 799.1,250.9 799.4,256.3 799.7,258.3 800.0,256.8 800.3,253.8 800.6,256.3 800.9,251.9 801.2,256.4 801.5,252.6 801.8,257.5 802.1,248.9 802.4,253.7 802.7,249.5 803.0,255.0 803.3,256.7 803.6,252.2 803.9,255.2 804.2,249.6 804.5,247.6 804.8,254.4 805.1,250.7 805.4,247.7 805.7,253.0 806.0,255.0 806.3,247.6 806.6,252.4 806.9,250.0 807.2,247.3 807.5,247.6 807.8,247.4 808.1,249.8 808.4,249.9 808.7,251.9 809.0,252.7 809.3,254.7 809.6,254.7 809.9,248.5 810.2,252.5 810.5,254.6 810.8,248.9 811.1,251.9 811.4,255.3 811.7,252.0 812.0,252.5 812.3,248.9 812.6,255.0 812.9,253.4 813.2,248.8 813.5,248.5 813.8,245.8 814.1,250.0 814.4,253.5 814.7,252.6 815.0,246.8 815.3,247.5 815.6,246.7 815.9,247.5 816.2,246.8 816.5,246.3 816.8,249.6 817.1,252.6 817.4,251.9 817.7,249.6 818.0,246.6 818.3,251.8 818.6,245.3 818.9,243.5 819.1,244.9 819.4,249.8 819.7,248.8 820.0,245.1 820.3,244.0 820.6,247.6 820.9,246.2 821.2,248.5 821.5,245.2 821.8,241.7 822.1,241.4 822.4,242.7 822.7,245.1 823.0,246.6 823.3,245.0 823.6,239.9 823.9,248.2 824.2,243.6 824.5,244.1 824.8,240.8 825.1,241.1 825.4,240.6 825.7,243.9 826.0,246.5 826.3,240.5 826.6,241.0 826.9,240.3 827.2,237.8 827.5,237.4 827.8,244.2 828.1,245.7 828.4,237.1 828.7,237.3 829.0,240.4 829.3,238.9 829.6,238.2 829.9,243.6 830.2,237.4 830.5,237.2 830.8,243.4 831.1,240.7 831.4,241.1 831.7,240.7 832.0,234.8 832.3,243.1 832.6,234.4 832.9,236.0 833.1,238.1 833.4,241.1 833.7,242.0 834.0,233.3 834.3,234.3 834.6,233.0 834.9,233.9 835.2,240.6 835.5,232.8 835.8,236.6 836.1,233.1 836.4,231.1 836.7,233.1 837.0,232.5 837.3,234.6 837.6,237.1 837.9,233.6 838.2,233.1 838.5,230.4 838.8,229.1 839.1,231.4 839.4,230.3 839.7,234.5 840.0,228.0 840.3,226.3 840.6,226.5 840.9,228.9 841.2,228.1 841.5,229.8 841.8,234.3 842.1,233.1 842.4,232.1 842.7,234.5 843.0,235.1 843.3,228.1 843.6,234.0 843.9,229.2 844.1,232.0 844.4,232.1 844.7,231.2 845.0,229.4 845.3,230.9 845.6,235.7 845.9,238.1 846.2,237.7 846.5,229.8 846.8,234.7 847.1,231.2 847.4,234.2 847.7,234.3 848.0,230.9 848.3,230.2 848.6,233.8 848.9,229.9 849.2,237.0 849.5,237.4 849.8,229.6 850.1,236.6 850.4,237.0 850.7,229.8 851.0,234.7 851.3,233.8 851.6,231.1 851.9,236.9 852.2,234.7 852.5,237.0 852.8,238.1 853.1,238.5 853.4,235.7 853.7,237.5 854.0,230.2 854.3,232.5 854.6,233.6 854.9,233.7 855.2,232.2 855.5,236.1 855.8,233.8 856.1,236.0 856.4,232.1 856.7,236.5 857.0,231.0 857.3,236.7 857.6,232.7 857.9,231.0 858.2,233.2 858.5,228.6 858.8,233.9 859.1,233.2 859.4,235.1 859.7,228.6 860.0,231.7 860.3,232.9 860.6,227.8 860.9,233.8 861.2,234.7 861.5,231.9 861.8,232.9 862.1,234.1 862.4,229.4 862.7,229.6 863.0,232.7 863.3,230.4 863.6,226.5 863.9,229.0 864.2,230.3 864.5,230.7 864.8,224.0 865.1,224.0 865.4,228.4 865.7,228.3 866.0,228.2 866.3,225.7 866.6,224.5 866.9,229.3 867.2,222.7 867.5,222.7 867.8,220.0 868.1,220.3 868.4,224.8 868.7,224.9 869.0,220.6 869.3,224.9 869.6,219.5 869.9,221.0 870.2,223.1 870.5,224.1 870.8,220.9 871.1,223.8 871.4,220.6 871.7,222.2 872.0,223.7 872.3,221.2 872.6,221.2 872.9,224.5 873.2,216.5 873.5,216.4 873.8,216.6 874.1,219.1 874.4,221.2 874.7,221.9 875.0,222.4 875.3,216.5 875.6,224.2 875.9,218.5 876.2,225.0 876.5,219.2 876.8,223.5 877.1,222.1 877.4,215.7 877.7,219.8 878.0,218.4 878.3,223.4 878.6,216.2 878.9,217.3 879.2,214.9 879.5,212.9 879.8,217.3 880.1,217.6 880.4,213.1 880.7,218.8 881.0,212.9 881.3,219.0 881.6,216.3 881.9,218.7 882.2,213.7 882.5,217.0 882.8,214.8 883.1,215.6 883.4,212.6 883.7,213.3 884.0,210.9 884.3,211.3 884.6,216.4 884.9,208.5 885.2,215.0 885.5,214.0 885.8,208.5 886.1,210.7 886.4,214.1 886.7,210.9 887.0,210.7 887.3,210.4 887.6,207.2 887.9,214.4 888.2,212.0 888.5,207.6 888.8,208.0 889.1,211.1 889.4,212.5 889.7,209.5 890.0,207.1 890.3,207.8 890.6,209.6 890.9,212.8 891.2,211.2 891.5,207.0 891.8,205.3 892.1,211.2 892.4,207.7 892.6,213.3 892.9,207.0 893.2,214.5 893.5,212.8 893.8,207.9 894.1,205.7 894.4,212.9 894.7,206.4 895.0,206.6 895.3,208.5 895.6,206.5 895.9,205.6 896.2,209.5 896.5,210.2 896.8,211.1 897.1,204.3 897.4,204.0 897.6,207.6 897.9,209.8 898.2,204.7 898.5,208.0 898.8,203.4 899.1,210.2 899.4,209.8 899.7,210.2 900.0,205.1 900.3,202.1 900.6,208.5 900.9,204.8 901.2,203.7 901.5,204.2 901.8,206.4 902.1,206.2 902.4,203.3 902.7,201.4 903.0,200.0 903.3,198.8 903.6,206.6 903.9,206.3 904.2,197.8 904.5,202.2 904.8,205.3 905.1,201.4 905.4,204.6 905.7,196.9 906.0,201.8 906.3,202.6 906.6,195.8 906.9,196.4 907.2,202.9 907.5,196.2 907.8,199.5 908.1,201.9 908.4,199.9 908.7,200.3 909.0,195.8 909.3,200.8 909.6,194.4 909.9,196.8 910.2,197.7 910.5,199.6 910.8,193.7 911.1,194.1 911.4,196.7 911.7,194.8 912.0,201.6 912.3,197.4 912.6,198.8 912.9,197.3 913.2,201.2 913.5,201.9 913.8,201.8 914.1,194.5 914.4,199.4 914.6,201.0 914.9,202.4 915.2,199.4 915.5,198.8 915.8,196.3 916.1,194.9 916.4,195.2 916.7,197.7 917.0,201.8 917.3,199.0 917.6,200.4 917.9,198.0 918.2,204.4 918.5,203.9 918.8,198.0 919.1,199.1 919.4,196.5 919.7,199.0 920.0,197.6 920.3,201.6 920.6,197.4 920.9,200.4 921.2,194.1 921.5,199.8 921.8,198.7 922.0,195.2 922.3,199.1 922.6,199.6 922.9,199.6 923.2,197.3 923.5,194.6 923.8,195.6 924.1,196.9 924.4,192.6 924.7,197.5 925.0,196.3 925.2,195.3 925.5,195.6 925.8,189.0 926.1,195.7 926.4,192.2 926.7,194.1 927.0,193.6 927.3,191.3 927.6,194.0 927.9,194.9 928.2,195.9 928.5,186.9 928.8,194.8 929.1,193.4 929.4,191.6 929.6,192.8 929.9,188.9 930.2,189.2 930.5,185.7 930.8,193.4 931.1,192.2 931.4,189.4 931.7,190.1 932.0,191.9 932.3,185.8 932.6,189.2 932.9,190.4 933.1,189.0 933.4,192.3 933.7,185.7 934.0,189.3 934.3,190.1 934.6,186.4 934.9,191.1 935.1,186.2 935.4,183.6 935.7,183.5 936.0,185.2 936.3,190.4 936.6,189.6 936.9,189.2 937.1,186.9 937.4,185.2 937.7,186.1 938.0,185.5 938.3,188.4 938.6,183.0 938.9,182.7 939.1,185.4 939.4,185.7 939.7,184.8 940.0,179.3 940.3,183.8 940.6,180.8 940.9,181.2 941.2,181.3 941.5,179.4 941.8,180.8 942.1,186.1 942.4,187.6 942.7,181.8 943.0,189.7 943.3,185.8 943.6,189.0 943.9,182.7 944.2,183.4 944.5,190.4 944.5,273.8 944.2,271.7 943.9,269.8 943.6,273.8 943.3,269.8 943.0,272.6 942.7,273.7 942.4,271.4 942.1,266.6 941.8,270.1 941.5,271.3 941.2,270.0 940.9,264.6 940.6,272.3 940.3,270.6 940.0,264.8 939.7,269.5 939.4,263.7 939.1,270.0 938.9,264.4 938.6,264.2 938.3,266.2 938.0,266.0 937.7,271.1 937.4,269.6 937.1,272.7 936.9,271.6 936.6,273.5 936.3,271.5 936.0,266.3 935.7,272.2 935.4,268.8 935.1,275.1 934.8,276.3 934.5,274.4 934.2,276.9 933.9,275.3 933.6,274.1 933.3,277.3 933.0,273.1 932.7,270.9 932.4,275.6 932.1,274.6 931.8,281.0 931.5,275.9 931.2,276.3 930.9,277.7 930.6,277.1 930.3,278.2 930.0,279.8 929.7,276.0 929.4,280.5 929.1,280.0 928.8,277.4 928.5,279.9 928.2,283.2 927.9,281.8 927.6,283.3 927.4,281.6 927.1,286.0 926.8,283.7 926.5,281.3 926.2,279.6 925.9,286.0 925.6,279.3 925.3,279.5 925.0,283.4 924.7,285.6 924.4,282.7 924.1,282.0 923.8,284.2 923.5,282.1 923.2,280.2 922.9,282.0 922.6,283.3 922.4,288.4 922.1,281.6 921.8,287.4 921.5,283.7 921.2,279.5 920.9,282.0 920.6,287.9 920.3,287.8 920.0,281.7 919.7,280.6 919.4,280.9 919.1,282.7 918.8,283.5 918.5,280.6 918.2,280.6 917.9,283.8 917.6,280.2 917.3,284.2 917.0,282.1 916.7,285.6 916.4,287.3 916.1,283.6 915.8,289.8 915.5,285.8 915.2,282.2 914.9,286.1 914.6,283.1 914.3,283.0 914.0,283.6 913.7,285.8 913.4,291.9 913.1,286.0 912.8,287.7 912.5,287.1 912.2,284.6 911.9,288.2 911.6,289.2 911.3,285.3 911.0,288.7 910.7,285.5 910.4,288.5 910.1,289.9 909.8,291.8 909.5,291.1 909.2,288.1 908.9,294.8 908.6,287.8 908.3,290.9 908.0,294.2 907.7,292.2 907.4,294.8 907.1,292.3 906.8,292.5 906.5,295.1 906.2,295.6 905.9,292.7 905.6,290.4 905.3,288.9 905.0,295.9 904.7,290.8 904.4,290.4 904.1,293.5 903.8,289.9 903.5,294.8 903.2,294.6 902.9,290.9 902.6,291.5 902.3,298.5 902.0,294.6 901.7,295.2 901.4,293.9 901.1,296.3 900.8,297.0 900.5,294.2 900.2,295.4 899.9,297.0 899.6,300.6 899.3,296.5 899.0,299.7 898.7,300.2 898.4,297.8 898.1,298.9 897.8,299.0 897.5,301.5 897.2,299.4 896.9,299.1 896.6,293.5 896.3,301.7 896.0,294.3 895.7,296.0 895.4,293.1 895.1,296.4 894.8,298.3 894.5,296.3 894.2,295.6 893.9,298.2 893.6,298.2 893.3,302.4 893.0,294.3 892.7,302.6 892.4,300.8 892.1,303.0 891.8,302.9 891.5,301.3 891.2,303.4 891.0,299.9 890.7,303.8 890.4,302.5 890.1,304.7 889.8,305.9 889.5,302.7 889.2,303.6 888.9,299.4 888.6,303.0 888.3,299.7 888.0,302.4 887.8,300.0 887.5,303.6 887.2,304.3 886.9,303.5 886.6,309.1 886.3,302.6 886.0,308.8 885.7,301.5 885.4,304.2 885.1,309.3 884.8,308.4 884.5,303.8 884.2,308.5 883.9,307.8 883.6,303.6 883.3,303.7 883.0,305.7 882.7,310.9 882.4,307.6 882.1,307.9 881.8,304.5 881.5,309.4 881.2,308.4 880.9,307.9 880.6,308.9 880.3,305.2 880.0,304.3 879.7,305.6 879.4,306.7 879.1,313.0 878.8,305.2 878.5,306.5 878.2,304.9 877.9,307.8 877.6,310.2 877.4,312.7 877.1,307.9 876.8,308.5 876.5,306.1 876.2,312.3 875.9,307.5 875.6,306.0 875.3,304.5 875.0,306.0 874.7,303.9 874.4,311.9 874.1,310.8 873.8,308.7 873.5,311.3 873.2,306.1 872.9,304.7 872.6,311.2 872.3,311.5 872.0,309.3 871.7,311.0 871.4,304.1 871.1,305.5 870.8,311.8 870.5,310.9 870.2,309.7 869.9,313.0 869.6,310.8 869.3,310.9 869.0,306.4 868.7,308.0 868.4,312.2 868.1,308.3 867.8,306.4 867.5,304.1 867.2,309.5 866.9,312.2 866.6,310.0 866.3,304.4 866.0,310.1 865.7,303.7 865.4,311.6 865.1,308.7 864.8,307.7 864.5,305.5 864.2,311.8 863.9,308.6 863.6,304.4 863.3,308.8 863.0,313.7 862.7,308.1 862.4,311.8 862.1,308.7 861.8,307.8 861.5,312.3 861.2,309.8 860.9,311.7 860.6,311.1 860.3,314.7 860.0,314.8 859.7,308.5 859.4,309.2 859.1,309.1 858.8,312.0 858.5,311.5 858.2,315.7 857.9,312.5 857.6,309.8 857.3,311.8 857.0,312.3 856.7,318.1 856.4,311.6 856.1,311.2 855.8,310.3 855.5,315.5 855.2,310.0 854.9,315.3 854.6,316.5 854.3,317.2 854.0,312.5 853.7,310.8 853.4,315.1 853.1,314.6 852.8,313.7 852.5,314.3 852.2,312.1 851.9,312.2 851.6,317.5 851.3,316.4 851.0,317.3 850.7,321.1 850.4,316.2 850.1,314.6 849.8,319.8 849.5,317.9 849.2,320.7 848.9,315.4 848.6,321.9 848.3,324.6 848.0,318.9 847.7,324.3 847.4,321.3 847.1,325.8 846.8,326.6 846.5,321.6 846.2,324.3 845.9,321.5 845.6,323.6 845.3,325.8 845.0,325.0 844.7,319.0 844.4,324.0 844.1,321.2 843.8,323.7 843.5,320.6 843.2,324.1 842.9,327.2 842.6,324.7 842.4,327.9 842.1,320.2 841.8,327.0 841.5,322.2 841.2,324.9 840.9,326.8 840.6,321.5 840.3,324.7 840.0,324.9 839.7,326.4 839.4,325.8 839.1,330.1 838.8,325.3 838.5,325.0 838.2,323.5 837.9,324.8 837.6,323.0 837.3,328.8 837.0,328.0 836.7,330.5 836.4,323.9 836.1,328.9 835.8,327.4 835.5,327.4 835.2,331.8 834.9,329.5 834.6,331.2 834.3,325.5 834.0,330.6 833.7,325.5 833.4,327.3 833.1,330.9 832.9,332.0 832.6,330.4 832.3,328.6 832.0,326.5 831.7,326.8 831.4,333.5 831.1,329.1 830.8,330.8 830.5,327.2 830.2,328.5 829.9,330.7 829.6,332.0 829.3,333.4 829.0,334.0 828.7,330.0 828.4,334.3 828.1,330.6 827.8,335.1 827.5,331.5 827.2,329.6 826.9,334.0 826.6,331.6 826.3,333.4 826.0,338.7 825.7,331.0 825.4,338.5 825.1,334.6 824.8,330.8 824.5,334.1 824.2,332.8 823.9,332.5 823.6,338.2 823.3,331.7 823.0,337.0 822.7,337.7 822.4,336.8 822.1,333.6 821.8,332.6 821.5,332.5 821.2,334.8 820.9,335.3 820.6,338.6 820.3,334.7 820.0,334.0 819.7,334.1 819.4,334.8 819.1,340.4 818.8,337.3 818.5,334.7 818.2,334.7 817.9,340.4 817.6,334.2 817.3,335.1 817.0,337.6 816.7,339.5 816.4,337.3 816.1,338.1 815.8,335.0 815.5,339.4 815.2,333.7 814.9,333.9 814.6,339.2 814.3,333.6 814.0,332.0 813.7,331.6 813.4,336.7 813.1,330.6 812.8,336.6 812.5,329.6 812.2,331.2 811.9,328.6 811.6,337.3 811.3,336.8 811.0,335.8 810.7,336.4 810.4,336.7 810.1,332.7 809.8,331.8 809.5,334.3 809.2,333.6 808.9,338.4 808.6,332.2 808.3,334.7 808.0,332.7 807.7,335.5 807.4,338.1 807.1,337.8 806.8,333.8 806.5,339.3 806.2,334.0 805.9,340.3 805.6,333.6 805.3,341.1 805.0,334.7 804.7,333.5 804.4,335.1 804.1,337.5 803.8,340.9 803.5,342.5 803.2,335.6 802.9,335.4 802.6,341.6 802.3,339.1 802.0,338.9 801.7,338.0 801.4,343.6 801.1,343.5 800.8,338.9 800.5,343.0 800.2,343.6 799.9,344.4 799.6,346.3 799.3,345.0 799.0,345.9 798.7,342.4 798.4,340.7 798.1,346.7 797.8,344.3 797.5,344.5 797.2,346.7 796.9,345.0 796.6,347.1 796.3,345.5 796.0,340.0 795.7,344.6 795.4,342.6 795.1,347.1 794.8,341.4 794.5,344.9 794.2,344.5 793.9,348.3 793.6,339.5 793.3,347.0 793.0,340.0 792.7,345.2 792.4,348.0 792.1,345.0 791.8,346.8 791.5,347.6 791.2,347.2 790.9,342.4 790.6,343.1 790.3,350.2 790.0,342.6 789.7,344.0 789.4,342.1 789.1,348.8 788.8,349.2 788.5,350.6 788.2,346.9 787.9,344.5 787.6,350.3 787.3,343.6 787.0,348.1 786.7,351.6 786.4,347.5 786.1,346.0 785.8,351.6 785.5,351.9 785.2,348.0 784.9,351.7 784.6,350.1 784.3,349.8 784.0,354.7 783.7,352.3 783.4,356.1 783.1,355.5 782.8,352.0 782.5,355.2 782.2,356.7 781.9,356.5 781.6,355.8 781.3,358.8 781.0,359.1 780.7,353.5 780.4,359.4 780.1,354.4 779.8,360.3 779.5,353.9 779.2,359.9 779.0,360.9 778.7,354.0 778.4,359.4 778.1,357.4 777.8,356.5 777.5,355.3 777.2,357.7 776.9,355.0 776.6,357.0 776.3,358.5 776.0,352.4 775.7,357.2 775.4,353.8 775.1,357.0 774.8,359.8 774.5,357.4 774.2,355.4 773.9,354.9 773.6,359.3 773.3,355.3 773.0,361.7 772.7,358.2 772.4,354.9 772.1,359.0 771.8,361.1 771.5,359.7 771.2,357.2 770.9,356.6 770.6,354.6 770.3,356.4 770.0,357.0 769.8,360.8 769.5,355.1 769.2,362.7 768.9,357.5 768.6,355.3 768.3,363.9 768.0,361.1 767.7,360.4 767.4,363.6 767.1,365.5 766.8,359.5 766.5,364.8 766.2,364.1 765.9,363.6 765.6,367.1 765.3,367.4 765.0,368.6 764.7,366.0 764.4,363.8 764.1,369.8 763.8,366.9 763.5,368.7 763.2,372.3 762.9,367.1 762.6,372.7 762.3,370.7 762.0,369.8 761.8,368.5 761.5,369.6 761.2,369.1 760.9,373.2 760.6,372.4 760.3,367.0 760.0,369.4 759.7,374.0 759.4,372.1 759.1,366.4 758.8,367.8 758.5,368.6 758.2,373.7 757.9,369.1 757.6,368.2 757.3,368.9 757.0,370.0 756.7,375.1 756.4,373.3 756.1,376.1 755.8,375.6 755.5,374.4 755.2,374.3 755.0,377.8 754.7,374.4 754.4,378.7 754.1,374.0 753.8,378.6 753.5,379.0 753.2,379.9 752.9,382.9 752.6,377.8 752.3,376.0 752.0,378.9 751.7,382.4 751.4,383.2 751.1,377.4 750.8,379.5 750.5,384.5 750.2,385.3 749.9,379.5 749.6,382.9 749.3,384.4 749.0,376.7 748.8,378.1 748.5,376.3 748.2,380.5 747.9,375.6 747.6,373.6 747.3,380.2 747.0,376.8 746.7,373.9 746.4,371.8 746.1,377.8 745.8,371.2 745.5,376.2 745.2,373.8 744.9,376.2 744.6,373.3 744.3,369.8 744.0,375.3 743.7,371.1 743.4,373.7 743.1,377.3 742.8,376.0 742.5,377.3 742.2,369.4 742.0,376.3 741.7,372.4 741.4,369.4 741.1,370.6 740.8,373.2 740.5,371.0 740.2,373.9 739.9,377.5 739.6,374.3 739.3,373.8 739.0,369.7 738.7,370.6 738.4,371.1 738.1,369.7 737.8,376.0 737.5,375.1 737.2,366.1 736.9,372.9 736.6,365.1 736.3,367.1 736.0,364.4 735.7,368.2 735.4,366.0 735.1,369.7 734.8,360.4 734.5,360.4 734.2,362.3 733.9,358.9 733.6,364.5 733.3,358.5 733.0,359.6 732.7,364.4 732.4,356.5 732.1,357.0 731.8,358.4 731.5,357.1 731.2,360.2 730.9,354.2 730.6,359.1 730.3,360.6 730.0,355.1 729.7,352.9 729.4,356.7 729.1,350.4 728.8,355.1 728.5,351.5 728.2,355.1 727.9,351.8 727.6,349.7 727.3,353.5 727.0,350.9 726.7,347.1 726.4,351.0 726.1,345.7 725.8,349.7 725.5,351.2 725.2,344.4 724.9,344.6 724.6,348.8 724.3,348.8 724.0,347.9 723.7,342.1 723.4,343.8 723.1,348.1 722.8,340.5 722.5,344.6 722.2,345.1 721.9,342.2 721.6,339.6 721.3,342.1 721.0,345.2 720.7,340.4 720.4,340.8 720.1,338.0 719.8,345.1 719.5,341.7 719.2,337.8 718.9,343.4 718.6,342.6 718.3,341.5 718.0,343.0 717.7,344.2 717.4,344.3 717.1,339.1 716.8,338.7 716.5,338.2 716.2,335.7 715.9,343.4 715.6,341.2 715.3,342.0 715.0,339.1 714.7,336.3 714.4,340.2 714.1,340.0 713.8,340.5 713.5,334.1 713.2,340.4 712.9,340.1 712.6,332.9 712.3,333.0 712.0,332.9 711.7,333.6 711.4,331.3 711.1,332.9 710.8,334.6 710.5,332.9 710.2,327.5 709.9,325.7 709.6,329.6 709.4,323.8 709.1,330.7 708.8,330.1 708.5,328.4 708.2,323.2 707.9,324.6 707.6,327.3 707.3,324.4 707.0,324.3 706.7,322.1 706.4,318.3 706.1,322.0 705.8,321.4 705.5,325.1 705.2,320.2 704.9,320.0 704.6,319.8 704.3,318.5 704.0,317.5 703.7,321.9 703.4,318.4 703.1,320.6 702.8,318.1 702.5,319.4 702.2,314.2 701.9,321.6 701.6,317.0 701.3,320.3 701.0,318.2 700.7,311.1 700.4,313.8 700.1,315.2 699.8,313.9 699.5,311.4 699.2,315.0 698.9,314.0 698.6,312.4 698.3,311.1 698.0,306.7 697.7,308.1 697.4,308.0 697.1,310.4 696.8,304.8 696.5,308.6 696.2,308.1 695.9,305.8 695.6,306.3 695.3,302.9 695.0,303.2 694.7,304.2 694.4,303.8 694.1,307.4 693.8,306.2 693.5,299.2 693.2,303.0 692.9,305.5 692.6,299.1 692.3,304.1 692.0,304.0 691.7,300.0 691.4,300.0 691.1,300.9 690.8,299.9 690.5,301.0 690.2,295.8 689.9,300.3 689.6,299.4 689.3,299.6 689.0,300.5 688.7,298.6 688.4,300.3 688.1,295.3 687.8,294.8 687.5,292.0 687.2,291.6 686.9,293.9 686.6,297.8 686.3,295.9 686.0,291.6 685.7,290.9 685.4,295.8 685.1,293.2 684.8,296.2 684.5,297.1 684.2,296.2 683.9,295.8 683.6,288.8 683.3,292.1 683.0,287.6 682.7,294.9 682.4,293.5 682.1,287.1 681.8,291.3 681.5,290.0 681.2,292.6 680.9,287.7 680.6,291.5 680.3,284.7 680.0,289.3 679.7,284.5 679.4,287.9 679.1,286.5 678.8,281.6 678.5,284.9 678.2,289.7 677.9,284.9 677.6,286.6 677.3,285.1 677.0,283.8 676.7,281.2 676.4,280.8 676.1,282.3 675.8,286.9 675.5,284.5 675.2,285.9 674.9,282.6 674.6,283.0 674.3,281.5 674.0,283.8 673.7,280.8 673.4,283.0 673.1,279.6 672.8,283.2 672.5,275.2 672.2,276.5 671.9,281.9 671.6,280.2 671.3,279.1 671.0,278.8 670.7,275.3 670.4,278.7 670.1,281.0 669.8,284.2 669.5,281.1 669.2,276.5 668.9,281.3 668.6,280.3 668.3,279.6 668.0,283.3 667.7,284.9 667.4,279.1 667.1,280.2 666.8,282.7 666.5,281.5 666.2,284.1 665.9,282.2 665.6,286.5 665.3,279.8 665.0,279.9 664.7,281.9 664.4,281.5 664.1,277.7 663.8,278.9 663.5,282.9 663.2,278.1 662.9,282.0 662.6,278.8 662.3,277.6 662.0,282.9 661.7,279.2 661.4,280.2 661.1,278.0 660.8,280.8 660.5,277.9 660.2,278.4 659.9,279.4 659.6,277.5 659.3,274.4 659.0,276.2 658.7,276.9 658.4,279.7 658.1,276.6 657.8,281.2 657.5,279.7 657.2,277.6 656.9,276.4 656.6,277.6 656.3,277.8 656.0,280.6 655.7,277.8 655.4,274.6 655.1,272.6 654.8,273.4 654.5,278.5 654.2,276.1 653.9,279.7 653.6,273.6 653.3,279.8 653.0,276.3 652.7,272.9 652.4,278.8 652.1,274.2 651.8,278.6 651.5,278.5 651.2,276.3 650.9,277.4 650.6,278.4 650.3,278.5 650.0,280.3 649.7,278.2 649.4,276.4 649.1,278.8 648.8,271.5 648.5,275.6 648.2,275.0 647.9,270.8 647.6,271.7 647.3,270.5 647.0,276.5 646.7,275.4 646.4,277.0 646.1,277.2 645.8,274.1 645.5,271.7 645.2,274.2 644.9,277.5 644.6,274.9 644.3,270.5 644.0,273.1 643.7,276.3 643.4,274.7 643.1,275.9 642.8,269.6 642.5,271.6 642.2,272.0 641.9,274.0 641.6,272.1 641.3,278.8 641.0,274.2 640.7,278.2 640.4,276.0 640.1,272.9 639.8,280.2 639.5,276.4 639.2,277.0 638.9,273.9 638.6,280.1 638.3,276.9 638.0,277.2 637.7,276.7 637.4,280.5 637.1,279.0 636.8,281.3 636.5,277.5 636.2,281.0 635.9,283.2 635.6,279.7 635.3,282.2 635.0,282.5 634.7,281.6 634.4,281.6 634.1,277.8 633.8,279.3 633.5,285.7 633.2,280.6 632.9,286.4 632.6,279.0 632.3,282.7 632.0,287.4 631.7,280.9 631.4,286.5 631.1,286.2 630.8,286.9 630.5,283.0 630.2,288.2 629.9,287.2 629.6,290.5 629.3,284.8 629.0,288.1 628.7,289.2 628.4,286.3 628.1,289.4 627.8,287.4 627.5,289.4 627.2,291.3 626.9,297.4 626.6,290.4 626.3,300.0 626.0,296.9 625.7,293.0 625.4,294.2 625.1,296.1 624.8,295.5 624.5,300.6 624.2,298.3 623.9,301.3 623.6,299.3 623.3,304.8 623.0,298.8 622.7,304.4 622.4,298.2 622.1,299.3 621.8,302.4 621.5,306.3 621.2,299.6 620.9,300.4 620.6,302.9 620.3,308.1 620.0,309.3 619.7,304.2 619.4,307.6 619.1,305.5 618.8,307.3 618.5,307.8 618.2,307.3 617.9,312.1 617.6,310.0 617.3,307.7 617.0,311.8 616.7,313.4 616.4,316.9 616.1,316.0 615.8,311.7 615.5,314.4 615.2,316.4 614.9,314.9 614.6,313.1 614.3,319.5 614.0,318.7 613.7,318.3 613.4,317.8 613.1,317.4 612.8,323.2 612.5,316.7 612.2,321.7 611.9,323.8 611.6,321.6 611.3,323.1 611.0,322.6 610.7,325.2 610.4,321.5 610.1,328.5 609.8,324.8 609.5,322.3 609.2,326.8 608.9,320.9 608.6,323.9 608.3,326.0 608.0,328.4 607.7,328.8 607.4,323.3 607.1,325.9 606.8,324.9 606.5,326.4 606.2,332.6 605.9,329.2 605.6,329.3 605.3,330.6 605.0,333.1 604.7,338.4 604.4,333.9 604.1,337.4 603.9,335.0 603.6,342.9 603.3,340.5 603.0,339.8 602.7,346.7 602.4,344.1 602.1,345.3 601.8,343.0 601.5,345.5 601.2,346.5 600.9,353.7 600.6,347.8 600.3,352.1 600.0,356.5 599.7,355.8 599.4,353.7 599.1,357.9 598.8,355.8 598.5,359.0 598.2,360.3 597.9,359.7 597.6,360.7 597.3,361.7 597.0,364.6 596.7,361.6 596.4,365.6 596.1,368.6 595.8,366.6 595.5,368.6 595.2,368.6 594.9,367.3 594.6,364.7 594.3,371.4 594.0,372.2 593.7,369.5 593.4,371.2 593.1,371.0 592.8,368.3 592.5,373.9 592.2,375.3 591.9,374.5 591.6,371.6 591.3,371.8 591.0,380.1 590.7,374.8 590.4,380.7 590.1,381.4 589.8,378.5 589.5,377.7 589.2,373.7 588.9,376.9 588.6,375.8 588.3,379.0 588.0,379.2 587.7,378.2 587.4,383.9 587.1,379.0 586.8,380.2 586.5,382.5 586.2,378.2 585.9,385.8 585.6,383.6 585.3,383.6 585.0,386.2 584.7,381.4 584.4,382.6 584.1,383.7 583.8,387.1 583.5,383.3 583.2,388.3 582.9,385.6 582.6,387.8 582.3,384.5 582.0,385.7 581.7,390.1 581.4,392.4 581.1,392.0 580.8,390.1 580.5,390.3 580.2,389.4 579.9,394.5 579.6,389.7 579.3,391.9 579.0,390.6 578.7,391.5 578.4,394.5 578.1,396.2 577.8,398.8 577.5,395.0 577.2,395.5 576.9,401.6 576.6,395.4 576.3,403.1 576.0,400.6 575.7,402.3 575.4,403.9 575.1,404.1 574.8,404.4 574.5,402.7 574.2,408.3 573.9,408.1 573.6,407.4 573.3,406.3 573.0,406.5 572.7,409.0 572.4,404.6 572.1,406.8 571.8,413.3 571.5,410.3 571.2,414.6 570.9,413.4 570.6,412.0 570.3,407.8 570.0,413.2 569.7,410.6 569.4,414.3 569.1,412.1 568.8,416.7 568.5,416.2 568.2,417.8 567.9,415.9 567.6,415.3 567.3,417.1 567.0,420.9 566.7,420.4 566.4,417.8 566.1,419.7 565.8,420.2 565.5,421.4 565.2,415.1 564.9,421.4 564.6,421.8 564.3,421.8 564.0,418.9 563.7,417.8 563.4,419.4 563.1,421.7 562.8,422.6 562.5,425.3 562.2,419.2 561.9,422.5 561.6,421.7 561.3,418.4 561.0,422.4 560.7,426.9 560.4,421.7 560.1,425.8 559.8,424.7 559.5,423.6 559.2,423.8 558.9,422.4 558.6,422.0 558.3,427.9 558.0,427.2 557.7,423.7 557.4,425.6 557.1,425.6 556.8,422.0 556.5,430.1 556.2,423.6 555.9,424.1 555.6,429.5 555.3,425.6 555.0,431.5 554.7,424.7 554.4,424.1 554.1,423.9 553.8,429.4 553.5,432.2 553.2,426.1 552.9,427.1 552.6,426.9 552.3,427.3 552.0,428.5 551.7,434.3 551.4,433.5 551.1,432.2 550.8,428.8 550.5,431.1 550.2,435.0 549.9,429.5 549.6,431.5 549.3,436.2 549.0,435.6 548.7,435.1 548.4,432.7 548.1,436.8 547.8,434.6 547.5,431.5 547.2,434.6 546.9,431.5 546.6,434.9 546.3,435.2 546.0,437.8 545.7,440.8 545.4,441.3 545.1,435.3 544.8,436.0 544.5,434.7 544.2,437.8 543.9,435.4 543.6,435.1 543.3,440.6 543.0,443.7 542.7,442.4 542.4,443.3 542.1,442.1 541.8,444.4 541.5,439.3 541.2,438.2 540.9,438.4 540.6,446.4 540.3,441.3 540.0,441.6 539.7,442.7 539.4,441.9 539.1,446.9 538.8,445.6 538.5,441.9 538.2,443.3 537.9,446.7 537.6,445.6 537.3,448.4 537.0,447.0 536.7,440.0 536.4,442.1 536.1,447.3 535.8,440.0 535.5,447.5 535.2,442.1 534.9,448.5 534.6,446.4 534.3,445.9 534.0,445.9 533.7,441.8 533.4,449.1 533.1,450.3 532.8,444.7 532.5,450.3 532.2,447.0 531.9,447.0 531.6,444.4 531.3,450.1 531.0,451.2 530.7,448.2 530.4,445.9 530.1,449.9 529.8,454.4 529.5,449.2 529.2,449.3 528.9,449.9 528.6,451.0 528.3,451.4 528.0,450.7 527.7,451.1 527.4,448.3 527.1,452.7 526.8,450.6 526.5,449.8 526.2,447.5 525.9,452.4 525.6,453.2 525.3,447.2 525.0,450.3 524.7,445.0 524.4,446.9 524.1,451.9 523.8,446.7 523.5,451.5 523.2,444.2 522.9,451.9 522.6,445.3 522.3,449.3 522.0,445.1 521.7,443.9 521.4,446.3 521.1,452.9 520.8,451.4 520.5,447.4 520.2,453.0 519.9,451.1 519.6,449.7 519.3,449.9 519.0,454.9 518.7,453.8 518.4,454.5 518.1,455.9 517.8,448.8 517.5,452.2 517.2,456.7 516.9,454.2 516.6,456.5 516.3,457.1 516.0,453.9 515.7,458.3 515.4,453.5 515.1,453.4 514.8,456.0 514.5,454.1 514.2,455.0 513.9,456.5 513.6,457.5 513.3,456.5 513.0,455.4 512.7,458.0 512.4,451.6 512.1,452.8 511.8,456.5 511.5,453.1 511.2,458.7 510.9,452.1 510.6,458.2 510.3,460.8 510.0,457.8 509.7,455.2 509.4,454.0 509.1,459.5 508.8,459.7 508.5,463.7 508.2,459.0 507.9,461.6 507.6,462.0 507.3,462.5 507.0,464.6 506.7,460.4 506.4,458.9 506.1,458.1 505.8,461.6 505.5,457.7 505.2,461.6 504.9,457.3 504.6,456.9 504.3,462.4 504.0,458.6 503.7,454.8 503.4,460.8 503.1,457.7 502.8,458.2 502.5,456.5 502.2,454.9 501.9,451.0 501.6,458.6 501.3,458.0 501.0,453.2 500.7,453.0 500.4,452.0 500.1,449.1 499.8,455.0 499.5,453.5 499.2,448.0 498.9,447.0 498.6,444.7 498.3,446.9 498.0,444.8 497.7,451.1 497.4,447.9 497.1,446.4 496.8,442.8 496.5,444.7 496.2,445.6 495.9,442.3 495.6,447.1 495.3,442.0 495.0,447.5 494.7,446.2 494.4,440.2 494.1,438.4 493.8,443.2 493.5,438.2 493.2,442.6 492.9,442.7 492.6,439.6 492.3,438.8 492.0,441.2 491.7,437.1 491.4,441.1 491.1,442.0 490.8,440.1 490.5,435.2 490.2,441.0 489.9,441.3 489.6,439.9 489.3,441.8 489.0,440.7 488.7,439.3 488.4,435.0 488.1,433.2 487.8,435.6 487.5,436.5 487.2,437.4 486.9,431.7 486.6,438.7 486.4,436.4 486.1,434.0 485.8,437.3 485.5,437.6 485.2,435.9 484.9,435.3 484.6,435.6 484.3,432.7 484.0,432.8 483.7,435.8 483.4,431.2 483.1,434.0 482.8,432.3 482.5,431.7 482.2,435.2 481.9,429.2 481.6,432.3 481.3,430.1 481.0,434.3 480.7,431.7 480.4,428.2 480.1,434.4 479.8,432.8 479.5,432.4 479.2,428.2 478.9,425.9 478.6,425.4 478.3,431.3 478.0,430.1 477.7,425.5 477.4,430.8 477.1,423.1 476.8,425.1 476.5,429.2 476.2,430.3 475.9,428.8 475.6,426.2 475.4,426.4 475.1,424.5 474.8,428.8 474.5,425.4 474.2,420.1 473.9,418.8 473.6,418.6 473.3,424.0 473.0,418.1 472.7,423.5 472.4,419.1 472.1,422.7 471.8,422.5 471.5,421.7 471.2,416.6 470.9,418.5 470.6,417.8 470.3,419.1 470.0,412.9 469.7,419.1 469.4,419.4 469.1,418.9 468.8,411.8 468.5,416.5 468.2,416.2 467.9,417.5 467.6,414.2 467.3,413.4 467.0,412.7 466.7,408.2 466.5,407.7 466.2,406.6 465.9,413.4 465.6,407.2 465.3,411.7 465.0,412.8 464.7,411.1 464.4,406.1 464.1,404.1 463.8,403.0 463.5,410.4 463.2,401.7 462.9,404.2 462.6,405.1 462.3,405.8 462.0,401.3 461.7,402.5 461.4,402.5 461.1,401.0 460.8,402.8 460.5,404.5 460.2,401.8 460.0,399.9 459.7,399.4 459.4,402.1 459.1,403.0 458.8,401.5 458.5,398.3 458.2,402.5 457.9,398.7 457.6,402.1 457.3,400.8 457.0,396.5 456.7,401.0 456.4,398.8 456.1,403.7 455.8,400.1 455.5,402.9 455.2,397.2 454.9,399.2 454.6,399.4 454.3,397.6 454.0,393.8 453.7,395.6 453.4,392.9 453.1,401.3 452.8,400.7 452.5,398.8 452.2,394.2 451.9,397.2 451.6,396.2 451.3,398.2 451.0,391.4 450.7,392.9 450.4,392.1 450.1,391.6 449.9,394.0 449.6,390.2 449.3,391.1 449.0,395.5 448.7,389.2 448.4,389.4 448.1,394.9 447.8,392.8 447.5,388.6 447.2,391.4 446.9,390.4 446.6,393.3 446.3,384.3 446.0,392.0 445.7,385.0 445.4,389.2 445.1,388.8 444.8,384.5 444.5,384.5 444.2,384.2 443.9,384.4 443.6,382.0 443.3,386.5 443.0,387.8 442.7,389.3 442.4,388.9 442.1,382.8 441.8,384.2 441.5,386.2 441.2,386.1 440.9,385.9 440.7,380.6 440.4,387.5 440.1,387.5 439.8,384.2 439.5,378.7 439.2,380.5 438.9,378.1 438.6,377.7 438.3,385.0 438.0,383.5 437.7,383.7 437.4,382.1 437.1,376.9 436.8,374.6 436.5,374.9 436.2,378.7 435.9,378.4 435.6,380.5 435.4,380.2 435.1,375.4 434.8,377.4 434.5,375.9 434.2,378.3 433.9,372.3 433.6,368.7 433.3,373.2 433.0,376.2 432.7,375.4 432.4,372.1 432.1,375.9 431.8,370.8 431.5,375.6 431.2,372.9 430.9,377.0 430.6,372.6 430.3,378.1 430.0,376.0 429.7,375.3 429.4,377.8 429.1,377.7 428.8,376.1 428.5,384.3 428.2,383.2 427.9,381.9 427.6,387.3 427.4,382.6 427.1,380.3 426.8,382.2 426.5,385.3 426.2,387.5 425.9,390.8 425.6,385.3 425.3,386.1 425.0,385.4 424.7,391.1 424.4,384.9 424.1,393.1 423.8,388.9 423.5,391.2 423.2,386.3 422.9,388.8 422.6,389.3 422.4,389.5 422.1,392.2 421.8,395.6 421.5,393.8 421.2,397.6 420.9,397.8 420.6,397.4 420.3,397.4 420.0,400.4 419.7,394.9 419.4,397.8 419.1,401.7 418.8,399.4 418.5,395.4 418.2,402.8 417.9,398.5 417.6,403.3 417.4,404.6 417.1,403.3 416.8,400.6 416.5,407.4 416.2,401.5 415.9,403.0 415.6,410.3 415.3,407.5 415.0,411.7 414.7,413.1 414.4,409.0 414.1,414.6 413.8,413.1 413.5,414.5 413.2,409.8 412.9,410.0 412.6,415.0 412.4,414.1 412.1,415.1 411.8,418.8 411.5,412.7 411.2,416.7 410.9,421.3 410.6,422.3 410.3,414.7 410.0,416.0 409.7,418.7 409.4,421.5 409.1,421.5 408.9,422.5 408.6,420.4 408.3,425.5 408.0,420.4 407.7,428.2 407.4,426.8 407.1,428.1 406.9,425.4 406.6,425.4 406.3,425.0 406.0,430.2 405.7,424.5 405.4,419.0 405.1,416.2 404.8,413.3 404.5,410.4 404.2,406.3 403.9,404.7 403.6,402.3 403.3,403.0 403.0,392.8 402.7,391.4 402.4,394.1 402.1,389.7 401.8,384.2 401.5,377.4 401.2,378.1 400.9,373.8 400.6,369.0 400.3,366.3 400.0,363.4 399.7,367.2 399.4,366.0 399.1,364.1 398.9,354.6 398.6,353.3 398.3,352.2 398.0,352.0 397.7,347.2 397.4,349.4 397.1,345.7 396.9,342.0 396.6,339.4 396.3,336.2 396.0,332.9 395.7,333.4 395.4,331.7 395.1,327.5 394.9,327.6 394.6,323.6 394.3,323.3 394.0,322.5 393.7,319.4 393.4,317.4 393.1,310.7 392.9,313.3 392.6,312.0 392.3,303.0 392.0,308.1 391.7,303.6 391.4,300.0 391.1,298.4 390.8,302.2 390.5,298.1 390.2,296.7 390.0,298.5 389.7,291.8 389.4,296.5 389.1,298.4 388.8,290.7 388.5,291.4 388.2,293.5 387.9,295.2 387.6,289.3 387.3,293.1 387.0,290.8 386.7,287.9 386.5,287.4 386.2,284.4 385.9,282.7 385.6,284.1 385.3,282.3 385.0,286.3 384.7,283.4 384.4,285.5 384.1,276.8 383.8,279.6 383.5,281.6 383.2,277.6 383.0,274.0 382.7,271.6 382.4,276.6 382.1,271.0 381.8,274.8 381.5,272.9 381.2,265.4 380.9,271.9 380.6,267.7 380.3,261.5 380.0,262.5 379.7,263.0 379.5,263.6 379.2,265.2 378.9,261.8 378.6,255.2 378.3,259.6 378.0,259.3 377.7,256.1 377.4,253.3 377.1,245.6 376.9,243.5 376.6,246.2 376.3,240.8 376.0,243.5 375.7,243.3 375.4,235.7 375.1,235.9 374.9,236.8 374.6,234.8 374.3,232.2 374.0,226.3 373.7,226.7 373.4,218.6 373.1,216.7 372.9,214.0 372.6,220.1 372.3,211.3 372.0,215.7 371.7,212.0 371.4,211.6 371.1,208.3 370.9,206.4 370.6,201.2 370.3,198.8 370.0,202.7 369.7,197.0 369.4,192.7 369.1,192.5 368.8,193.2 368.5,192.7 368.2,186.8 367.9,187.7 367.6,184.1 367.3,188.5 367.0,178.9 366.7,179.4 366.4,182.2 366.1,177.9 365.9,178.6 365.6,170.1 365.3,171.9 365.0,167.1 364.7,164.4 364.4,170.6 364.1,164.2 363.8,166.2 363.5,163.7 363.2,156.1 362.9,161.3 362.6,151.9 362.3,153.2 362.0,152.2 361.7,146.0 361.4,147.4 361.1,135.8 360.8,139.4 360.5,131.6 360.2,126.0 359.9,122.3 359.6,123.7 359.3,113.7 359.0,109.2 358.7,115.5 358.4,110.9 358.1,110.2 357.9,116.0 357.6,114.3 357.3,116.3 357.0,117.0 356.7,114.9 356.4,110.3 356.1,110.0 355.9,111.5 355.6,112.4 355.3,111.7 355.0,109.4 354.7,115.2 354.4,118.6 354.1,123.8 353.8,120.9 353.5,126.7 353.2,126.1 353.0,133.2 352.7,136.7 352.4,134.2 352.1,136.3 351.8,146.1 351.5,147.5 351.2,144.7 350.9,150.3 350.6,152.3 350.3,153.0 350.0,157.3 349.8,162.3 349.5,163.5 349.2,168.6 348.9,166.5 348.6,168.0 348.3,174.7 348.0,173.9 347.7,178.2 347.4,179.9 347.1,183.2 346.9,185.2 346.6,185.6 346.3,183.0 346.0,182.8 345.7,181.4 345.4,188.5 345.2,187.7 344.9,184.7 344.6,185.7 344.3,187.5 344.0,191.8 343.8,197.2 343.5,193.7 343.2,196.6 342.9,193.0 342.6,197.2 342.3,203.7 342.0,199.7 341.7,206.7 341.4,207.5 341.1,207.3 340.9,214.5 340.6,209.0 340.3,214.0 340.0,212.3 339.7,217.5 339.4,221.9 339.1,223.9 338.8,227.9 338.5,228.9 338.2,229.6 337.9,229.4 337.6,232.9 337.4,237.9 337.1,235.3 336.8,240.9 336.5,244.5 336.2,242.0 335.9,243.0 335.6,246.8 335.3,248.5 335.0,245.3 334.7,248.7 334.4,254.2 334.1,251.7 333.9,256.1 333.6,258.2 333.3,258.3 333.0,257.7 332.7,264.3 332.4,265.7 332.1,262.7 331.8,265.7 331.5,267.1 331.2,264.4 330.9,273.6 330.6,272.6 330.4,275.2 330.1,278.3 329.8,276.6 329.5,277.7 329.2,282.6 328.9,286.3 328.6,282.7 328.3,284.2 328.0,285.2 327.7,287.0 327.4,286.0 327.1,290.3 326.8,286.8 326.5,290.8 326.2,287.4 325.9,292.1 325.6,291.8 325.3,292.3 325.0,296.8 324.7,296.2 324.4,292.0 324.1,290.2 323.8,296.2 323.5,298.7 323.2,300.5 322.9,299.4 322.6,295.4 322.3,296.6 322.0,298.7 321.7,299.7 321.4,300.2 321.1,299.1 320.8,302.6 320.5,303.8 320.2,307.4 320.0,305.6 319.7,300.0 319.4,303.5 319.1,302.0 318.8,306.8 318.5,303.4 318.2,308.2 317.9,310.0 317.6,311.7 317.3,307.5 317.0,307.8 316.8,308.8 316.5,309.6 316.2,313.5 315.9,308.3 315.6,309.4 315.3,309.3 315.0,306.9 314.7,314.2 314.4,309.8 314.1,311.1 313.8,311.3 313.5,307.3 313.2,313.0 313.0,310.0 312.7,312.4 312.4,311.9 312.1,308.7 311.8,310.6 311.5,311.3 311.2,310.1 310.9,315.2 310.6,311.0 310.3,318.4 310.0,314.1 309.8,318.8 309.5,318.0 309.2,313.4 308.9,311.7 308.6,319.7 308.3,314.5 308.0,318.2 307.7,319.4 307.4,320.6 307.1,317.2 306.8,312.2 306.5,313.3 306.2,318.9 306.0,315.6 305.7,315.8 305.4,317.4 305.1,316.9 304.8,312.7 304.5,319.9 304.2,318.6 303.9,321.3 303.6,318.4 303.3,312.5 303.0,320.1 302.8,315.7 302.5,312.9 302.2,321.5 301.9,317.4 301.6,320.9 301.3,320.2 301.0,318.7 300.7,321.1 300.4,315.5 300.1,318.9 299.8,312.4 299.5,316.5 299.2,318.9 298.9,313.2 298.6,312.8 298.4,317.6 298.1,312.9 297.8,314.1 297.5,310.4 297.2,308.4 296.9,310.6 296.6,312.2 296.3,306.5 296.0,310.2 295.7,305.7 295.4,312.8 295.1,309.7 294.8,309.1 294.5,308.0 294.2,305.7 294.0,303.8 293.7,303.3 293.4,306.2 293.1,301.8 292.8,303.3 292.5,307.6 292.2,307.1 291.9,305.7 291.6,307.2 291.3,304.6 291.0,304.2 290.7,300.2 290.4,303.6 290.1,302.3 289.9,304.7 289.6,298.5 289.3,303.7 289.0,305.8 288.7,297.8 288.4,303.9 288.1,301.0 287.8,297.9 287.5,297.5 287.2,298.7 286.9,299.2 286.6,298.2 286.4,303.2 286.1,298.1 285.8,297.5 285.5,299.3 285.2,294.7 284.9,299.2 284.6,293.5 284.3,294.6 284.0,294.4 283.7,296.7 283.4,297.9 283.1,296.5 282.9,298.7 282.6,296.7 282.3,291.8 282.0,297.8 281.7,297.7 281.4,291.3 281.1,289.5 280.8,295.9 280.5,294.4 280.2,291.2 279.9,292.1 279.6,294.1 279.4,290.7 279.1,285.5 278.8,287.9 278.5,289.5 278.2,284.9 277.9,284.3 277.6,287.9 277.3,283.9 277.0,292.3 276.7,289.7 276.4,290.9 276.2,291.2 275.9,295.7 275.6,292.7 275.3,294.4 275.0,295.5 274.7,295.7 274.4,303.1 274.1,296.6 273.8,300.5 273.5,306.6 273.2,302.2 272.9,304.4 272.6,309.0 272.4,312.1 272.1,311.3 271.8,312.1 271.5,309.8 271.2,316.7 270.9,315.5 270.6,312.8 270.3,315.1 270.0,318.5 269.7,318.6 269.4,317.7 269.1,321.7 268.8,320.6 268.5,322.7 268.2,326.1 267.9,326.4 267.6,328.8 267.4,330.1 267.1,334.6 266.8,335.2 266.5,337.4 266.2,333.7 265.9,341.7 265.6,339.7 265.3,340.0 265.0,343.0 264.7,342.8 264.4,343.3 264.1,351.3 263.8,347.2 263.5,352.7 263.2,349.1 262.9,355.6 262.6,355.4 262.4,359.5 262.1,358.4 261.8,360.0 261.5,363.0 261.2,367.7 260.9,363.7 260.6,369.1 260.3,371.9 260.0,367.1 259.7,368.5 259.4,370.7 259.1,375.4 258.9,376.8 258.6,377.3 258.3,371.1 258.0,375.0 257.7,376.6 257.4,372.6 257.1,374.2 256.8,373.5 256.5,379.3 256.2,382.2 256.0,383.4 255.7,384.2 255.4,378.9 255.1,384.0 254.8,387.3 254.5,388.9 254.2,389.1 253.9,390.5 253.6,391.2 253.3,388.9 253.0,390.2 252.7,394.5 252.4,391.0 252.1,397.8 251.8,399.3 251.5,400.4 251.2,397.2 250.9,405.1 250.6,404.1 250.3,400.8 250.0,403.5 249.7,405.1 249.4,408.1 249.1,408.8 248.8,406.0 248.5,407.1 248.2,408.0 247.9,407.6 247.6,409.2 247.3,408.6 247.0,413.3 246.7,416.0 246.4,410.6 246.1,412.1 245.8,419.9 245.5,417.2 245.2,420.1 244.9,422.8 244.6,423.4 244.3,422.3 244.0,421.1 243.7,420.6 243.4,420.2 243.1,422.6 242.8,422.7 242.5,423.8 242.2,425.1 241.9,429.5 241.6,427.5 241.3,435.4 241.0,434.8 240.7,434.6 240.4,438.5 240.1,440.5 239.8,435.3 239.5,435.3 239.2,440.5 238.9,438.5 238.6,443.6 238.3,444.2 238.0,443.3 237.7,450.5 237.4,444.2 237.1,450.9 236.8,455.0 236.5,448.4 236.2,454.9 236.0,451.7 235.7,453.5 235.4,456.6 235.1,455.9 234.8,456.5 234.5,465.1 234.2,462.2 233.9,461.6 233.6,470.7 233.3,470.0 233.0,473.9 232.7,468.1 232.4,477.5 232.1,471.1 231.8,472.0 231.5,477.9 231.2,478.4 231.0,479.9 230.7,484.5 230.4,486.9 230.1,488.0 229.8,485.0 229.5,486.6 229.2,487.7 228.9,490.9 228.6,487.2 228.3,491.0 228.1,490.7 227.8,491.0 227.5,497.5 227.2,493.1 226.9,496.1 226.6,498.6 226.3,495.9 226.0,501.6 225.7,499.9 225.4,497.5 225.1,504.5 224.8,502.5 224.5,507.4 224.2,502.2 223.9,502.6 223.6,510.0 223.3,507.6 223.0,508.4 222.7,510.9 222.4,507.7 222.1,507.8 221.8,508.8 221.5,508.1 221.2,509.8 220.9,508.5 220.6,508.3 220.3,508.0 220.0,507.8 219.7,515.5 219.4,510.3 219.1,509.0 218.8,513.7 218.5,510.7 218.2,511.9 217.9,516.0 217.6,510.8 217.3,513.7 217.0,512.9 216.7,515.5 216.4,516.3 216.1,516.4 215.8,511.0 215.5,510.7 215.2,507.5 214.9,508.1 214.6,515.3 214.3,508.1 214.0,514.1 213.7,510.1 213.4,508.7 213.1,513.9 212.8,506.6 212.5,508.3 212.2,507.7 211.9,510.2 211.6,509.5 211.3,506.2 211.0,512.1 210.7,509.8 210.4,511.1 210.1,510.2 209.8,508.8 209.5,508.3 209.2,509.8 208.9,507.1 208.6,505.0 208.3,508.4 208.0,507.5 207.7,502.3 207.4,506.2 207.1,501.9 206.8,503.6 206.5,504.8 206.2,499.2 205.9,503.9 205.6,499.6 205.3,499.4 205.0,501.8 204.7,497.6 204.4,498.2 204.1,497.1 203.8,499.3 203.5,504.9 203.2,502.4 202.9,500.7 202.6,505.1 202.3,504.9 202.0,499.6 201.7,501.0 201.4,498.6 201.1,501.2 200.8,497.9 200.5,500.1 200.2,500.6 199.9,500.9 199.6,504.9 199.3,498.7 199.0,506.5 198.7,500.3 198.4,499.9 198.1,501.9 197.8,499.8 197.5,500.5 197.2,503.4 196.9,504.9 196.6,505.3 196.3,502.4 196.0,501.2 195.7,503.3 195.4,498.5 195.1,505.2 194.8,501.1 194.5,503.5 194.2,504.7 193.9,503.4 193.6,500.3 193.3,504.9 193.0,498.2 192.7,505.8 192.4,502.4 192.1,502.0 191.8,503.5 191.5,500.4 191.2,505.5 190.9,501.6 190.6,501.0 190.3,502.3 190.0,500.7 189.7,506.1 189.4,502.3 189.1,497.3 188.8,499.8 188.5,501.3 188.2,500.5 187.9,498.5 187.6,498.3 187.3,504.8 187.0,504.2 186.7,502.9 186.4,500.3 186.1,503.6 185.8,503.2 185.5,497.9 185.2,503.1 184.9,497.0 184.6,496.5 184.3,500.8 184.0,498.7 183.7,499.3 183.4,502.4 183.1,500.7 182.8,503.1 182.5,502.2 182.2,503.8 181.9,500.6 181.6,496.2 181.3,496.7 181.0,504.7 180.7,497.4 180.4,499.4 180.1,499.9 179.8,496.7 179.5,498.0 179.2,499.2 178.9,494.5 178.6,500.1 178.3,494.2 178.0,497.4 177.7,498.5 177.4,493.2 177.1,497.9 176.8,498.0 176.5,491.2 176.2,497.8 175.9,497.6 175.6,494.6 175.3,495.3 175.0,496.8 174.7,488.6 174.4,496.0 174.1,494.6 173.8,496.9 173.5,495.5 173.2,493.4 172.9,489.5 172.6,495.3 172.3,498.5 172.0,495.8 171.7,493.6 171.4,495.7 171.1,492.3 170.8,498.1 170.5,497.4 170.2,496.7 169.9,497.6 169.6,494.0 169.3,499.8 169.0,495.6 168.7,497.7 168.4,499.7 168.1,497.6 167.8,494.8 167.5,495.4 167.2,495.5 166.9,492.4 166.6,498.6 166.3,495.8 166.0,490.6 165.7,494.1 165.4,491.3 165.1,495.0 164.8,496.7 164.5,498.5 164.2,493.0 163.9,495.6 163.6,493.3 163.3,497.1 163.0,491.3 162.7,495.5 162.4,493.8 162.1,490.1 161.8,496.2 161.5,498.1 161.2,494.6 160.9,491.0 160.6,494.9 160.3,494.4 160.0,496.8 159.7,497.0 159.4,493.3 159.1,494.2 158.8,492.9 158.5,497.8 158.2,501.1 157.9,500.5 157.6,493.4 157.3,493.4 157.0,496.6 156.7,494.1 156.4,501.6 156.1,495.7 155.8,493.2 155.5,499.6 155.2,497.3 154.9,500.2 154.6,497.9 154.3,495.5 154.0,493.9 153.7,495.9 153.4,493.4 153.1,493.9 152.8,498.6 152.5,499.4 152.2,498.1 151.9,499.3 151.6,494.9 151.3,495.2 151.0,492.7 150.7,497.1 150.4,493.6 150.1,492.3 149.8,493.2 149.5,494.9 149.2,495.0 148.9,493.6 148.6,487.5 148.3,493.1 148.0,495.2 147.7,492.0 147.4,493.5 147.1,486.2 146.8,486.2 146.5,485.9 146.2,488.0 145.9,490.8 145.6,487.8 145.3,486.8 145.0,488.1 144.7,484.2 144.4,488.9 144.1,482.3 143.8,489.5 143.5,484.4 143.2,483.5 143.0,481.5 142.7,486.0 142.4,482.4 142.1,484.7 141.8,483.8 141.5,483.9 141.3,479.8 141.0,485.5 140.7,486.8 140.4,481.8 140.1,479.8 139.8,484.9 139.6,478.9 139.3,482.0 139.0,487.5 138.7,481.3 138.4,484.3 138.1,487.3 137.8,483.8 137.5,482.5 137.2,486.5 136.9,480.3 136.6,481.2 136.3,484.4 136.0,483.5 135.7,480.3 135.4,485.2 135.1,484.7 134.8,484.1 134.5,486.8 134.2,489.1 133.9,488.7 133.6,482.5 133.3,486.5 133.0,483.6 132.7,485.0 132.4,485.4 132.1,482.7 131.8,482.9 131.5,482.6 131.2,482.1 130.9,483.6 130.6,488.2 130.3,483.0 130.0,486.0 129.7,483.0 129.4,483.1 129.1,488.2 128.8,487.6 128.5,486.4 128.2,490.7 127.9,491.8 127.6,490.4 127.3,490.2 127.0,487.2 126.7,489.0 126.4,487.2 126.1,494.1 125.8,493.6 125.5,494.1 125.3,489.9 125.0,491.1 124.7,486.3 124.4,486.9 124.1,485.9 123.8,486.1 123.5,486.9 123.2,490.7 122.9,485.9 122.6,489.6 122.3,491.4 122.1,488.3 121.8,494.7 121.5,487.4 121.2,490.8 120.9,489.7 120.6,491.5" fill="rgb(0,114,178)" fill-opacity="0.2" stroke="rgb(0,114,178)" stroke-opacity="0.2" stroke-width="1.6" stroke-linejoin="miter"/>
<path d="M178.47 15.5V542.3" stroke="rgb(128,128,128)" stroke-opacity="0.2" stroke-width="1.39" fill="none"/>
<path d="M305.47 15.5V542.3" stroke="rgb(128,128,128)" stroke-opacity="0.2" stroke-width="1.39" fill="none"/>
<path d="M432.47 15.5V542.3" stroke="rgb(128,128,128)" stroke-opacity="0.2" stroke-width="1.39" fill="none"/>
<path d="M559.47 15.5V542.3" stroke="rgb(128,128,128)" stroke-opacity="0.2" stroke-width="1.39" fill="none"/>
<path d="M686.47 15.5V542.3" stroke="rgb(128,128,128)" stroke-opacity="0.2" stroke-width="1.39" fill="none"/>
<path d="M813.47 15.5V542.3" stroke="rgb(128,128,128)" stroke-opacity="0.2" stroke-width="1.39" fill="none"/>
<path d="M940.47 15.5V542.3" stroke="rgb(128,128,128)" stroke-opacity="0.2" stroke-width="1.39" fill="none"/>
<path d="M79.5 538.45H985.4" stroke="rgb(128,128,128)" stroke-opacity="0.2" stroke-width="1.39" fill="none"/>
<path d="M79.5 474.45H985.4" stroke="rgb(128,128,128)" stroke-opacity="0.2" stroke-width="1.39" fill="none"/>
<path d="M79.5 410.45H985.4" stroke="rgb(128,128,128)" stroke-opacity="0.2" stroke-width="1.39" fill="none"/>
<path d="M79.5 346.45H985.4" stroke="rgb(128,128,128)" stroke-opacity="0.2" stroke-width="1.39" fill="none"/>
<path d="M79.5 282.45H985.4" stroke="rgb(128,128,128)" stroke-opacity="0.2" stroke-width="1.39" fill="none"/>
<path d="M79.5 218.45H985.4" stroke="rgb(128,128,128)" stroke-opacity="0.2" stroke-width="1.39" fill="none"/>
<path d="M79.5 154.45H985.4" stroke="rgb(128,128,128)" stroke-opacity="0.2" stroke-width="1.39" fill="none"/>
<path d="M79.5 90.45H985.4" stroke="rgb(128,128,128)" stroke-opacity="0.2" stroke-width="1.39" fill="none"/>
<path d="M79.5 26.45H985.4" stroke="rgb(128,128,128)" stroke-opacity="0.2" stroke-width="1.39" fill="none"/>
<path d="M122.4 443.1h0M122.5 444.5h0M122.6 444.4h0M122.8 444.2h0M122.9 442.7h0M123.0 442.6h0M123.1 445.0h0M123.2 445.9h0M123.4 448.1h0M123.5 448.7h0M123.6 449.7h0M123.8 450.1h0M123.9 446.9h0M124.0 448.7h0M124.1 449.9h0M124.2 451.0h0M124.4 447.7h0M124.5 444.4h0M124.6 442.7h0M124.8 441.9h0M124.9 442.6h0M125.0 442.6h0M125.1 443.8h0M125.2 442.6h0M125.4 443.3h0M125.5 444.2h0M125.6 443.0h0M125.8 446.4h0M125.9 447.1h0M126.0 449.1h0M126.1 447.5h0M126.2 445.6h0M126.4 444.4h0M126.5 443.8h0M126.6 445.0h0M126.8 445.2h0M126.9 443.6h0M127.0 440.6h0M127.1 438.7h0M127.2 442.0h0M127.4 439.1h0M127.5 439.5h0M127.6 440.5h0M127.8 435.0h0M127.9 434.8h0M128.0 439.2h0M128.1 431.1h0M128.2 429.5h0M128.4 428.7h0M128.5 426.7h0M128.6 428.4h0M128.8 427.7h0M128.9 427.2h0M129.0 430.3h0M129.1 432.9h0M129.2 436.7h0M129.4 442.7h0M129.5 444.0h0M129.6 444.1h0M129.8 437.8h0M129.9 440.3h0M130.0 437.0h0M130.1 434.4h0M130.2 427.9h0M130.4 423.0h0M130.5 420.4h0M130.6 426.4h0M130.8 419.2h0M130.9 423.8h0M131.0 424.8h0M131.1 431.3h0M131.2 433.8h0M131.4 425.2h0M131.5 422.7h0M131.6 424.2h0M131.8 420.9h0M131.9 421.1h0M132.0 425.1h0M132.1 429.6h0M132.2 430.2h0M132.4 431.3h0M132.5 433.2h0M132.6 439.6h0M132.8 442.2h0M132.9 444.3h0M133.0 445.0h0M133.1 439.6h0M133.2 444.3h0M133.4 443.2h0M133.5 445.2h0M133.6 439.1h0M133.8 437.4h0M133.9 440.1h0M134.0 435.1h0M134.1 434.8h0M134.2 437.8h0M134.4 434.5h0M134.5 438.8h0M134.6 440.4h0M134.8 440.2h0M134.9 441.2h0M135.0 442.8h0M135.1 443.0h0M135.2 442.6h0M135.4 441.1h0M135.5 440.2h0M135.6 442.3h0M135.8 442.3h0M135.9 440.4h0M136.0 442.2h0M136.1 440.9h0M136.2 439.9h0M136.4 437.1h0M136.5 436.8h0M136.6 436.4h0M136.8 435.7h0M136.9 438.5h0M137.0 436.4h0M137.1 438.8h0M137.2 436.2h0M137.4 434.6h0M137.5 435.8h0M137.6 437.9h0M137.8 439.6h0M137.9 440.4h0M138.0 440.7h0M138.1 440.5h0M138.2 439.6h0M138.4 439.3h0M138.5 439.9h0M138.6 439.3h0M138.8 439.3h0M138.9 438.9h0M139.0 439.5h0M139.1 435.7h0M139.2 436.4h0M139.4 435.6h0M139.5 434.9h0M139.6 434.9h0M139.8 436.8h0M139.9 436.2h0M140.0 437.0h0M140.1 436.2h0M140.2 438.2h0M140.4 436.2h0M140.5 437.1h0M140.6 438.3h0M140.8 439.2h0M140.9 438.7h0M141.0 440.5h0M141.1 440.8h0M141.2 440.2h0M141.4 438.5h0M141.5 439.7h0M141.6 439.0h0M141.8 439.2h0M141.9 439.8h0M142.0 440.1h0M142.1 443.9h0M142.2 443.3h0M142.4 445.9h0M142.5 444.3h0M142.6 444.9h0M142.8 447.5h0M142.9 449.9h0M143.0 450.1h0M143.1 447.5h0M143.2 447.5h0M143.4 447.5h0M143.5 449.5h0M143.6 452.6h0M143.8 447.1h0M143.9 450.5h0M144.0 447.5h0M144.1 450.0h0M144.2 446.5h0M144.4 447.3h0M144.5 450.9h0M144.6 450.5h0M144.8 451.1h0M144.9 453.5h0M145.0 454.0h0M145.1 453.8h0M145.2 458.3h0M145.4 461.4h0M145.5 460.6h0M145.6 461.0h0M145.8 457.8h0M145.9 460.5h0M146.0 459.8h0M146.1 460.2h0M146.2 462.3h0M146.4 463.0h0M146.5 464.8h0M146.6 460.6h0M146.8 456.5h0M146.9 458.3h0M147.0 455.7h0M147.1 453.0h0M147.2 449.2h0M147.4 452.6h0M147.5 454.7h0M147.6 458.5h0M147.8 456.3h0M147.9 456.4h0M148.0 453.8h0M148.1 455.7h0M148.2 459.5h0M148.4 457.6h0M148.5 461.1h0M148.6 463.4h0M148.8 463.1h0M148.9 459.2h0M149.0 462.1h0M149.1 462.0h0M149.2 460.9h0M149.4 461.9h0M149.5 462.8h0M149.6 462.6h0M149.8 460.7h0M149.9 462.9h0M150.0 462.2h0M150.1 462.8h0M150.2 462.4h0M150.4 460.8h0M150.5 462.8h0M150.6 463.0h0M150.8 463.2h0M150.9 460.7h0M151.0 460.1h0M151.1 455.5h0M151.2 454.7h0M151.4 454.6h0M151.5 456.2h0M151.6 456.8h0M151.8 455.5h0M151.9 455.4h0M152.0 457.0h0M152.1 457.2h0M152.2 459.8h0M152.4 459.5h0M152.5 461.4h0M152.6 459.3h0M152.8 460.8h0M152.9 459.3h0M153.0 460.9h0M153.1 457.0h0M153.2 454.7h0M153.4 452.5h0M153.5 454.5h0M153.6 451.9h0M153.8 451.7h0M153.9 451.1h0M154.0 450.9h0M154.1 451.9h0M154.2 452.2h0M154.4 455.6h0M154.5 455.5h0M154.6 456.4h0M154.8 458.3h0M154.9 457.7h0M155.0 455.0h0M155.1 453.5h0M155.2 455.3h0M155.4 451.7h0M155.5 450.1h0M155.6 451.7h0M155.8 453.0h0M155.9 452.6h0M156.0 453.8h0M156.1 453.8h0M156.2 451.1h0M156.4 447.6h0M156.5 446.9h0M156.6 448.4h0M156.8 446.9h0M156.9 446.5h0M157.0 446.1h0M157.1 447.4h0M157.2 446.8h0M157.4 444.9h0M157.5 445.2h0M157.6 447.7h0M157.8 448.2h0M157.9 447.0h0M158.0 444.5h0M158.1 446.0h0M158.2 445.6h0M158.4 446.8h0M158.5 445.1h0M158.6 445.8h0M158.8 445.0h0M158.9 446.7h0M159.0 448.3h0M159.1 449.8h0M159.2 450.6h0M159.4 448.3h0M159.5 449.8h0M159.6 450.8h0M159.8 446.7h0M159.9 448.6h0M160.0 451.4h0M160.1 450.9h0M160.2 450.1h0M160.4 450.4h0M160.5 446.9h0M160.6 447.8h0M160.8 451.4h0M160.9 449.6h0M161.0 450.9h0M161.1 449.0h0M161.2 448.8h0M161.4 449.8h0M161.5 451.6h0M161.6 449.8h0M161.8 449.6h0M161.9 450.1h0M162.0 451.1h0M162.1 451.0h0M162.2 450.5h0M162.4 448.5h0M162.5 447.7h0M162.6 449.5h0M162.8 449.6h0M162.9 447.9h0M163.0 446.2h0M163.1 450.2h0M163.2 449.1h0M163.4 450.4h0M163.5 445.2h0M163.6 446.4h0M163.8 447.3h0M163.9 450.3h0M164.0 449.7h0M164.1 449.5h0M164.2 450.0h0M164.4 446.4h0M164.5 449.0h0M164.6 450.1h0M164.8 449.2h0M164.9 452.3h0M165.0 453.4h0M165.1 451.1h0M165.2 450.2h0M165.4 451.3h0M165.5 452.2h0M165.6 451.9h0M165.8 450.4h0M165.9 455.4h0M166.0 458.2h0M166.1 455.9h0M166.2 453.1h0M166.4 457.9h0M166.5 461.0h0M166.6 465.0h0M166.8 465.4h0M166.9 463.3h0M167.0 464.6h0M167.1 458.0h0M167.2 455.7h0M167.4 455.5h0M167.5 457.0h0M167.6 454.8h0M167.8 454.4h0M167.9 455.7h0M168.0 456.8h0M168.1 458.6h0M168.2 459.2h0M168.4 458.3h0M168.5 460.5h0M168.6 460.6h0M168.8 458.3h0M168.9 456.5h0M169.0 456.5h0M169.1 456.2h0M169.2 456.6h0M169.4 456.5h0M169.5 457.0h0M169.6 456.6h0M169.8 453.2h0M169.9 454.0h0M170.0 456.3h0M170.1 457.0h0M170.2 456.3h0M170.4 456.9h0M170.5 454.6h0M170.6 450.6h0M170.8 450.4h0M170.9 449.3h0M171.0 450.4h0M171.1 449.5h0M171.2 453.5h0M171.4 451.2h0M171.5 454.0h0M171.6 453.0h0M171.8 450.0h0M171.9 449.4h0M172.0 450.1h0M172.1 450.8h0M172.2 450.9h0M172.4 453.8h0M172.5 453.8h0M172.6 453.9h0M172.8 454.7h0M172.9 452.1h0M173.0 454.1h0M173.1 454.7h0M173.2 452.6h0M173.4 452.4h0M173.5 453.9h0M173.6 453.4h0M173.8 455.6h0M173.9 456.3h0M174.0 455.3h0M174.1 455.0h0M174.2 454.1h0M174.4 456.7h0M174.5 456.3h0M174.6 456.6h0M174.8 453.9h0M174.9 453.3h0M175.0 455.1h0M175.1 457.2h0M175.2 457.3h0M175.4 455.1h0M175.5 455.5h0M175.6 456.3h0M175.8 458.6h0M175.9 457.2h0M176.0 457.3h0M176.1 458.5h0M176.2 458.0h0M176.4 458.6h0M176.5 458.8h0M176.6 458.4h0M176.8 458.4h0M176.9 456.4h0M177.0 455.2h0M177.1 455.3h0M177.2 452.5h0M177.4 451.7h0M177.5 452.7h0M177.6 451.4h0M177.8 452.6h0M177.9 453.9h0M178.0 453.9h0M178.1 453.5h0M178.2 451.3h0M178.4 455.0h0M178.5 456.1h0M178.6 458.4h0M178.8 456.7h0M178.9 456.5h0M179.0 452.9h0M179.1 454.3h0M179.2 456.1h0M179.4 452.1h0M179.5 451.9h0M179.6 453.0h0M179.8 451.5h0M179.9 452.7h0M180.0 450.4h0M180.1 450.5h0M180.2 451.5h0M180.4 451.5h0M180.5 451.8h0M180.6 452.9h0M180.8 454.2h0M180.9 457.1h0M181.0 459.2h0M181.1 456.5h0M181.2 455.3h0M181.4 453.1h0M181.5 450.8h0M181.6 450.5h0M181.8 450.3h0M181.9 451.2h0M182.0 447.9h0M182.1 447.3h0M182.2 447.1h0M182.4 446.6h0M182.5 445.8h0M182.6 445.6h0M182.8 446.5h0M182.9 447.7h0M183.0 448.3h0M183.1 448.1h0M183.2 446.8h0M183.4 446.4h0M183.5 449.0h0M183.6 447.0h0M183.8 447.0h0M183.9 446.2h0M184.0 446.5h0M184.1 446.8h0M184.2 446.4h0M184.4 445.9h0M184.5 445.4h0M184.6 446.3h0M184.8 447.5h0M184.9 447.4h0M185.0 445.7h0M185.1 445.7h0M185.2 445.6h0M185.4 447.1h0M185.5 447.6h0M185.6 446.1h0M185.8 448.2h0M185.9 447.4h0M186.0 445.9h0M186.1 448.2h0M186.2 448.0h0M186.4 447.0h0M186.5 447.1h0M186.6 448.2h0M186.8 447.3h0M186.9 451.9h0M187.0 451.3h0M187.1 453.5h0M187.2 453.7h0M187.4 454.0h0M187.5 449.2h0M187.6 447.7h0M187.8 448.2h0M187.9 449.4h0M188.0 454.0h0M188.1 454.1h0M188.2 451.9h0M188.4 453.4h0M188.5 453.4h0M188.6 454.4h0M188.8 454.1h0M188.9 454.0h0M189.0 451.9h0M189.1 454.3h0M189.2 452.2h0M189.4 452.7h0M189.5 453.0h0M189.6 452.5h0M189.8 452.6h0M189.9 454.9h0M190.0 454.9h0M190.1 453.3h0M190.2 453.8h0M190.4 455.0h0M190.5 454.7h0M190.6 453.2h0M190.8 454.8h0M190.9 453.5h0M191.0 453.5h0M191.1 454.0h0M191.2 453.2h0M191.4 456.0h0M191.5 454.6h0M191.6 456.0h0M191.8 455.0h0M191.9 453.6h0M192.0 455.0h0M192.1 455.4h0M192.2 455.3h0M192.4 454.0h0M192.5 455.6h0M192.6 455.5h0M192.8 456.1h0M192.9 454.8h0M193.0 457.1h0M193.1 456.0h0M193.2 453.8h0M193.4 453.8h0M193.5 455.4h0M193.6 454.1h0M193.8 454.0h0M193.9 450.3h0M194.0 454.1h0M194.1 457.1h0M194.2 454.4h0M194.4 451.1h0M194.5 447.4h0M194.6 450.1h0M194.8 449.1h0M194.9 448.9h0M195.0 448.2h0M195.1 447.9h0M195.2 445.4h0M195.4 445.5h0M195.5 443.8h0M195.6 443.7h0M195.8 444.3h0M195.9 445.4h0M196.0 444.9h0M196.1 443.9h0M196.2 444.2h0M196.4 443.9h0M196.5 447.1h0M196.6 448.7h0M196.8 448.5h0M196.9 447.5h0M197.0 446.1h0M197.1 444.2h0M197.2 444.6h0M197.4 445.2h0M197.5 446.3h0M197.6 447.4h0M197.8 451.6h0M197.9 450.2h0M198.0 450.2h0M198.1 455.8h0M198.2 452.1h0M198.4 451.0h0M198.5 451.4h0M198.6 451.7h0M198.8 452.5h0M198.9 452.0h0M199.0 452.8h0M199.1 452.9h0M199.2 454.4h0M199.4 450.6h0M199.5 448.8h0M199.6 448.8h0M199.8 446.8h0M199.9 446.6h0M200.0 447.9h0M200.1 446.6h0M200.2 447.9h0M200.4 449.4h0M200.5 450.0h0M200.6 451.0h0M200.8 450.8h0M200.9 448.0h0M201.0 447.9h0M201.1 448.8h0M201.2 447.7h0M201.4 447.5h0M201.5 449.0h0M201.6 447.3h0M201.8 448.6h0M201.9 452.4h0M202.0 451.3h0M202.1 451.6h0M202.2 451.4h0M202.4 454.5h0M202.5 453.9h0M202.6 453.4h0M202.8 452.1h0M202.9 452.1h0M203.0 452.1h0M203.1 448.6h0M203.2 451.6h0M203.4 453.4h0M203.5 450.0h0M203.6 451.5h0M203.8 451.3h0M203.9 452.2h0M204.0 453.0h0M204.1 450.1h0M204.2 449.7h0M204.4 452.7h0M204.5 451.6h0M204.6 449.6h0M204.8 448.9h0M204.9 449.4h0M205.0 450.1h0M205.1 453.6h0M205.2 454.5h0M205.4 455.0h0M205.5 451.8h0M205.6 450.8h0M205.8 449.5h0M205.9 450.6h0M206.0 451.8h0M206.1 449.8h0M206.2 449.4h0M206.4 450.1h0M206.5 450.6h0M206.6 449.2h0M206.8 448.8h0M206.9 449.6h0M207.0 450.6h0M207.1 450.5h0M207.2 450.5h0M207.4 450.0h0M207.5 452.3h0M207.6 455.2h0M207.8 454.7h0M207.9 456.5h0M208.0 455.2h0M208.1 455.5h0M208.2 457.2h0M208.4 455.6h0M208.5 455.0h0M208.6 455.0h0M208.8 455.6h0M208.9 452.7h0M209.0 453.0h0M209.1 452.1h0M209.2 453.0h0M209.4 453.7h0M209.5 455.1h0M209.6 455.3h0M209.8 456.0h0M209.9 455.1h0M210.0 457.1h0M210.1 456.7h0M210.2 455.6h0M210.4 456.8h0M210.5 454.2h0M210.6 455.4h0M210.8 455.5h0M210.9 457.4h0M211.0 457.2h0M211.1 458.1h0M211.2 457.0h0M211.4 457.9h0M211.5 461.5h0M211.6 460.4h0M211.8 460.1h0M211.9 459.1h0M212.0 459.4h0M212.1 460.0h0M212.2 462.3h0M212.4 460.1h0M212.5 460.1h0M212.6 461.6h0M212.8 463.4h0M212.9 464.9h0M213.0 460.0h0M213.1 460.7h0M213.2 461.5h0M213.4 463.6h0M213.5 464.6h0M213.6 464.8h0M213.8 462.6h0M213.9 462.1h0M214.0 467.0h0M214.1 466.1h0M214.2 465.7h0M214.4 467.8h0M214.5 464.2h0M214.6 464.4h0M214.8 464.2h0M214.9 463.5h0M215.0 465.4h0M215.1 464.2h0M215.2 465.5h0M215.4 465.7h0M215.5 465.9h0M215.6 465.6h0M215.8 467.5h0M215.9 468.5h0M216.0 468.3h0M216.1 469.4h0M216.2 469.1h0M216.4 466.9h0M216.5 469.4h0M216.6 468.9h0M216.8 467.1h0M216.9 469.3h0M217.0 469.5h0M217.1 466.4h0M217.2 469.7h0M217.4 469.3h0M217.5 468.6h0M217.6 469.1h0M217.8 468.8h0M217.9 466.0h0M218.0 468.0h0M218.1 468.1h0M218.2 467.6h0M218.4 468.4h0M218.5 468.6h0M218.6 470.0h0M218.8 469.3h0M218.9 469.3h0M219.0 468.4h0M219.1 467.4h0M219.2 468.7h0M219.4 468.5h0M219.5 467.7h0M219.6 467.3h0M219.8 468.6h0M219.9 467.9h0M220.0 469.2h0M220.1 466.0h0M220.2 466.0h0M220.4 468.3h0M220.5 466.8h0M220.6 467.1h0M220.8 466.9h0M220.9 467.0h0M221.0 467.4h0M221.1 466.1h0M221.2 465.5h0M221.4 465.7h0M221.5 466.6h0M221.6 465.2h0M221.8 466.0h0M221.9 467.1h0M222.0 466.4h0M222.1 466.9h0M222.2 464.9h0M222.4 466.4h0M222.5 465.1h0M222.6 464.5h0M222.8 464.6h0M222.9 464.0h0M223.0 465.6h0M223.1 465.7h0M223.2 464.8h0M223.4 465.8h0M223.5 463.4h0M223.6 463.3h0M223.8 464.0h0M223.9 465.7h0M224.0 465.9h0M224.1 463.2h0M224.2 463.8h0M224.4 463.7h0M224.5 464.1h0M224.6 463.9h0M224.8 464.7h0M224.9 465.0h0M225.0 465.2h0M225.1 464.6h0M225.2 462.4h0M225.4 462.5h0M225.5 464.5h0M225.6 462.2h0M225.8 460.6h0M225.9 460.4h0M226.0 463.5h0M226.1 462.9h0M226.2 461.9h0M226.4 462.8h0M226.5 461.3h0M226.6 459.4h0M226.8 459.6h0M226.9 459.4h0M227.0 459.5h0M227.1 459.1h0M227.2 460.2h0M227.4 462.1h0M227.5 464.3h0M227.6 462.3h0M227.8 461.1h0M227.9 455.6h0M228.0 459.0h0M228.1 457.1h0M228.2 456.6h0M228.4 457.2h0M228.5 454.0h0M228.6 454.5h0M228.8 454.0h0M228.9 449.3h0M229.0 449.6h0M229.1 452.2h0M229.2 446.9h0M229.4 448.6h0M229.5 448.7h0M229.6 449.7h0M229.8 450.4h0M229.9 453.5h0M230.0 452.1h0M230.1 454.0h0M230.2 452.0h0M230.4 453.5h0M230.5 450.2h0M230.6 449.1h0M230.8 453.8h0M230.9 454.4h0M231.0 453.2h0M231.1 448.8h0M231.2 445.5h0M231.4 445.4h0M231.5 447.7h0M231.6 448.4h0M231.8 449.3h0M231.9 448.4h0M232.0 447.5h0M232.1 445.5h0M232.2 442.9h0M232.4 445.6h0M232.5 445.8h0M232.6 445.0h0M232.8 443.2h0M232.9 442.5h0M233.0 444.4h0M233.1 445.5h0M233.2 442.0h0M233.4 443.3h0M233.5 443.8h0M233.6 441.1h0M233.8 443.2h0M233.9 442.5h0M234.0 441.7h0M234.1 443.8h0M234.2 445.0h0M234.4 443.4h0M234.5 444.5h0M234.6 442.5h0M234.8 443.3h0M234.9 442.2h0M235.0 444.9h0M235.1 443.5h0M235.2 445.0h0M235.4 440.5h0M235.5 435.3h0M235.6 434.5h0M235.8 435.6h0M235.9 435.4h0M236.0 434.1h0M236.1 438.5h0M236.2 438.7h0M236.4 435.5h0M236.5 437.2h0M236.6 433.8h0M236.8 436.2h0M236.9 435.1h0M237.0 435.4h0M237.1 438.0h0M237.2 438.2h0M237.4 435.5h0M237.5 435.6h0M237.6 438.0h0M237.8 439.5h0M237.9 437.9h0M238.0 439.7h0M238.1 440.8h0M238.2 442.1h0M238.4 437.6h0M238.5 437.1h0M238.6 438.9h0M238.8 440.4h0M238.9 442.2h0M239.0 437.4h0M239.1 437.7h0M239.2 438.6h0M239.4 442.4h0M239.5 440.5h0M239.6 439.8h0M239.8 439.8h0M239.9 441.6h0M240.0 440.7h0M240.1 442.5h0M240.2 440.8h0M240.4 441.4h0M240.5 440.3h0M240.6 440.5h0M240.8 439.1h0M240.9 435.9h0M241.0 438.1h0M241.1 438.6h0M241.2 437.5h0M241.4 437.9h0M241.5 439.8h0M241.6 437.8h0M241.8 437.6h0M241.9 438.6h0M242.0 439.6h0M242.1 438.9h0M242.2 436.8h0M242.4 439.3h0M242.5 439.9h0M242.6 439.9h0M242.8 439.3h0M242.9 439.8h0M243.0 438.9h0M243.1 436.8h0M243.2 436.0h0M243.4 436.4h0M243.5 436.0h0M243.6 437.5h0M243.8 438.7h0M243.9 436.0h0M244.0 437.3h0M244.1 435.5h0M244.2 436.2h0M244.4 438.9h0M244.5 439.3h0M244.6 437.8h0M244.8 437.8h0M244.9 438.1h0M245.0 435.6h0M245.1 435.7h0M245.2 436.0h0M245.4 435.0h0M245.5 435.1h0M245.6 436.6h0M245.8 438.1h0M245.9 439.8h0M246.0 439.5h0M246.1 436.4h0M246.2 433.8h0M246.4 430.4h0M246.5 426.6h0M246.6 423.2h0M246.8 411.2h0M246.9 406.6h0M247.0 403.9h0M247.1 393.8h0M247.2 391.0h0M247.4 393.2h0M247.5 389.0h0M247.6 408.9h0M247.8 376.2h0M247.9 371.1h0M248.0 361.0h0M248.1 373.6h0M248.2 408.3h0M248.4 375.1h0M248.5 376.5h0M257.9 293.8h0M258.0 289.2h0M258.1 292.2h0M258.2 268.0h0M258.4 274.5h0M258.5 276.1h0M258.6 274.0h0M258.8 264.8h0M258.9 269.9h0M259.0 261.6h0M259.1 262.0h0M259.2 253.1h0M259.4 250.1h0M259.5 247.3h0M259.6 247.7h0M259.8 256.0h0M259.9 240.8h0M260.0 237.9h0M260.1 246.4h0M260.2 247.9h0M260.4 265.4h0M260.5 293.4h0M260.6 279.8h0M260.8 252.0h0M260.9 263.4h0M261.0 284.0h0M261.1 296.1h0M261.2 306.5h0M261.4 297.6h0M261.5 287.4h0M261.6 298.5h0M261.8 286.0h0M261.9 261.9h0M262.0 248.4h0M262.1 280.2h0M262.2 295.1h0M262.4 286.2h0M262.5 276.9h0M262.6 279.7h0M262.8 270.1h0M262.9 286.6h0M263.0 285.5h0M263.1 271.7h0M263.2 288.1h0M263.4 280.7h0M263.5 283.3h0M263.6 283.1h0M263.8 279.1h0M263.9 283.0h0M264.0 274.4h0M264.1 251.2h0M264.2 224.1h0M264.4 221.0h0M264.5 218.0h0M264.6 217.0h0M264.8 216.9h0M264.9 222.2h0M265.0 222.8h0M265.1 215.7h0M265.2 221.8h0M265.4 229.7h0M265.5 227.3h0M265.6 231.2h0M265.8 235.4h0M265.9 233.6h0M266.0 231.3h0M266.1 239.5h0M266.2 239.3h0M266.4 245.7h0M266.5 250.7h0M266.6 252.4h0M266.8 264.2h0M266.9 258.6h0M267.0 255.0h0M267.1 247.1h0M267.2 239.4h0M267.4 253.8h0M267.5 270.2h0M267.6 270.1h0M267.8 269.7h0M267.9 264.0h0M268.0 271.5h0M268.1 260.3h0M268.2 247.9h0M268.4 241.5h0M268.5 245.2h0M268.6 257.9h0M268.8 258.4h0M268.9 250.3h0M269.0 246.7h0M269.1 240.6h0M269.2 232.8h0M269.4 245.0h0M269.5 239.4h0M269.6 239.1h0M269.8 256.2h0M269.9 254.9h0M270.0 257.1h0M270.1 252.2h0M270.2 255.3h0M270.4 249.3h0M270.5 254.0h0M270.6 252.5h0M270.8 253.1h0M270.9 256.9h0M271.0 255.3h0M271.1 255.7h0M271.2 248.2h0M271.4 237.4h0M271.5 236.8h0M271.6 238.5h0M271.8 234.2h0M271.9 231.8h0M272.0 237.4h0M272.1 250.8h0M272.2 250.4h0M272.4 250.1h0M272.5 239.4h0M272.6 245.5h0M272.8 245.3h0M272.9 244.3h0M273.0 237.4h0M273.1 236.4h0M273.2 230.1h0M273.4 229.7h0M273.5 231.2h0M273.6 230.6h0M273.8 231.0h0M273.9 226.9h0M274.0 231.6h0M274.1 228.5h0M274.2 220.6h0M274.4 219.3h0M274.5 215.5h0M274.6 210.5h0M274.8 208.3h0M274.9 209.1h0M275.0 203.0h0M275.1 201.8h0M275.2 208.2h0M275.4 211.1h0M275.5 209.7h0M275.6 209.8h0M275.8 208.6h0M275.9 207.8h0M276.0 211.3h0M276.1 210.2h0M276.2 195.9h0M276.4 195.2h0M276.5 189.3h0M276.6 192.7h0M276.8 188.4h0M276.9 188.7h0M277.0 202.1h0M277.1 195.3h0M277.2 188.0h0M277.4 189.9h0M277.5 194.0h0M277.6 186.4h0M277.8 188.6h0M277.9 184.4h0M278.0 195.2h0M278.1 185.6h0M278.2 189.4h0M278.4 184.3h0M278.5 184.6h0M278.6 186.6h0M278.8 195.1h0M278.9 207.4h0M279.0 213.9h0M279.1 215.6h0M279.2 217.6h0M279.4 227.9h0M279.5 222.7h0M279.6 221.2h0M279.8 225.4h0M279.9 228.4h0M280.0 229.5h0M280.1 226.3h0M280.2 216.3h0M280.4 212.6h0M280.5 200.3h0M280.6 211.7h0M280.8 217.2h0M280.9 207.1h0M281.0 220.7h0M281.1 230.7h0M281.2 213.4h0M281.4 233.6h0M281.5 243.5h0M281.6 252.3h0M281.8 240.1h0M281.9 247.6h0M282.0 254.0h0M282.1 257.9h0M282.2 261.5h0M282.4 273.2h0M282.5 255.3h0M282.6 240.4h0M282.8 222.9h0M282.9 216.7h0M283.0 209.6h0M283.1 215.4h0M283.2 219.7h0M283.4 220.8h0M283.5 212.1h0M283.6 206.6h0M283.8 220.2h0M283.9 231.2h0M284.0 233.1h0M284.1 229.5h0M284.2 250.6h0M284.4 243.5h0M284.5 252.6h0M284.6 268.1h0M284.8 265.3h0M284.9 276.5h0M285.0 263.0h0M285.1 276.7h0M285.2 280.3h0M285.4 262.8h0M285.5 271.7h0M285.6 262.9h0M285.8 278.0h0M285.9 272.0h0M286.0 271.5h0M286.1 275.5h0M286.2 273.5h0M286.4 277.1h0M286.5 273.3h0M286.6 280.4h0M286.8 281.6h0M286.9 284.5h0M287.0 264.0h0M287.1 273.5h0M287.2 274.3h0M287.4 261.4h0M287.5 262.6h0M287.6 266.5h0M287.8 274.6h0M287.9 267.5h0M288.0 278.7h0M288.1 278.1h0M288.2 294.5h0M288.4 294.0h0M288.5 293.6h0M288.6 291.9h0M288.8 285.5h0M288.9 292.6h0M289.0 294.7h0M289.1 289.2h0M289.2 294.6h0M289.4 291.9h0M289.5 283.5h0M289.6 280.6h0M289.8 277.6h0M289.9 274.0h0M290.0 277.4h0M290.1 279.0h0M290.2 277.8h0M290.4 278.8h0M290.5 278.1h0M290.6 279.2h0M290.8 282.9h0M290.9 287.5h0M291.0 284.4h0M291.1 277.5h0M291.2 284.1h0M291.4 284.7h0M291.5 289.9h0M291.6 282.5h0M291.8 281.1h0M291.9 281.3h0M292.0 275.0h0M292.1 272.8h0M292.2 276.1h0M292.4 280.9h0M292.5 287.9h0M292.6 284.3h0M292.8 278.3h0M292.9 280.7h0M293.0 284.7h0M293.1 285.6h0M293.2 280.3h0M293.4 283.6h0M293.5 287.0h0M293.6 289.3h0M293.8 287.4h0M293.9 288.8h0M294.0 292.0h0M294.1 289.9h0M294.2 282.7h0M294.4 284.0h0M294.5 286.0h0M294.6 286.2h0M294.8 289.7h0M294.9 287.5h0M295.0 287.3h0M295.1 286.2h0M295.2 288.5h0M295.4 294.5h0M295.5 293.7h0M295.6 293.2h0M295.8 295.6h0M295.9 295.9h0M296.0 296.4h0M296.1 291.7h0M296.2 291.2h0M296.4 290.9h0M296.5 287.3h0M296.6 289.0h0M296.8 293.7h0M296.9 295.6h0M297.0 297.1h0M297.1 296.5h0M297.2 297.0h0M297.4 292.3h0M297.5 295.8h0M297.6 294.5h0M297.8 290.8h0M297.9 288.3h0M298.0 285.6h0M298.1 288.5h0M298.2 292.0h0M298.4 287.6h0M298.5 290.6h0M298.6 293.6h0M298.8 291.7h0M298.9 286.9h0M299.0 284.4h0M299.1 282.4h0M299.2 283.5h0M299.4 282.4h0M299.5 275.9h0M299.6 276.6h0M299.8 279.8h0M299.9 282.8h0M300.0 278.9h0M300.1 276.7h0M300.2 277.9h0M300.4 276.2h0M300.5 280.4h0M300.6 283.1h0M300.8 285.0h0M300.9 286.0h0M301.0 281.2h0M301.1 279.6h0M301.2 277.9h0M301.4 277.9h0M301.5 279.6h0M301.6 277.3h0M301.8 278.0h0M301.9 278.4h0M302.0 281.2h0M302.1 283.1h0M302.2 287.2h0M302.4 287.7h0M302.5 284.8h0M302.6 277.2h0M302.8 277.8h0M302.9 281.5h0M303.0 282.4h0M303.1 285.2h0M303.2 289.7h0M303.4 293.2h0M303.5 291.9h0M303.6 295.0h0M303.8 297.1h0M303.9 292.5h0M304.0 291.4h0M304.1 287.2h0M304.2 286.8h0M304.4 288.6h0M304.5 285.5h0M304.6 279.4h0M304.8 283.3h0M304.9 284.4h0M305.0 288.7h0M305.1 284.6h0M305.2 287.6h0M305.4 293.8h0M305.5 294.5h0M305.6 293.7h0M305.8 294.4h0M305.9 293.7h0M306.0 296.8h0M306.1 294.3h0M306.2 294.4h0M306.4 289.4h0M306.5 291.9h0M306.6 290.0h0M306.8 292.1h0M306.9 292.9h0M307.0 295.5h0M307.1 294.7h0M307.2 292.8h0M307.4 294.0h0M307.5 293.6h0M307.6 291.2h0M307.8 292.8h0M307.9 296.9h0M308.0 292.4h0M308.1 294.5h0M308.2 288.5h0M308.4 282.7h0M308.5 283.7h0M308.6 285.2h0M308.8 296.8h0M308.9 292.6h0M309.0 296.7h0M309.1 294.3h0M309.2 286.0h0M309.4 281.8h0M309.5 282.5h0M309.6 279.8h0M309.8 278.8h0M309.9 281.0h0M310.0 276.7h0M310.1 278.9h0M310.2 275.4h0M310.4 272.3h0M310.5 275.0h0M310.6 271.7h0M310.8 273.1h0M310.9 281.8h0M311.0 281.7h0M311.1 281.1h0M311.2 285.3h0M311.4 283.4h0M311.5 289.4h0M311.6 282.6h0M311.8 286.0h0M311.9 283.4h0M312.0 279.3h0M312.1 288.8h0M312.2 284.4h0M312.4 293.7h0M312.5 297.2h0M312.6 289.7h0M312.8 284.8h0M312.9 291.0h0M313.0 296.1h0M313.1 295.6h0M313.2 295.1h0M313.4 287.2h0M313.5 288.2h0M313.6 286.3h0M313.8 283.4h0M313.9 285.6h0M314.0 287.3h0M314.1 288.6h0M314.2 297.4h0M314.4 296.2h0M314.5 299.0h0M314.6 294.0h0M314.8 289.3h0M314.9 295.1h0M315.0 299.4h0M315.1 292.7h0M315.2 287.3h0M315.4 282.1h0M315.5 272.4h0M315.6 275.3h0M315.8 272.2h0M315.9 275.4h0M316.0 284.2h0M316.1 275.3h0M316.2 273.9h0M316.4 276.8h0M316.5 281.9h0M316.6 277.9h0M316.8 276.7h0M316.9 277.4h0M317.0 281.2h0M317.1 279.5h0M317.2 280.0h0M317.4 276.9h0M317.5 278.1h0M317.6 273.3h0M317.8 274.1h0M317.9 283.3h0M318.0 280.5h0M318.1 294.0h0M318.2 295.1h0M318.4 287.1h0M318.5 289.5h0M318.6 283.4h0M318.8 278.2h0M318.9 277.8h0M319.0 283.7h0M319.1 287.1h0M319.2 287.0h0M319.4 280.8h0M319.5 282.1h0M319.6 292.8h0M319.8 295.3h0M319.9 288.6h0M320.0 285.8h0M320.1 283.9h0M320.2 303.8h0M320.4 295.4h0M320.5 295.4h0M320.6 297.7h0M320.8 297.1h0M320.9 295.4h0M321.0 284.8h0M321.1 289.6h0M321.2 303.7h0M321.4 297.8h0M321.5 305.0h0M321.6 291.5h0M321.8 289.6h0M321.9 292.0h0M322.0 300.8h0M322.1 291.9h0M322.2 297.1h0M322.4 300.6h0M322.5 294.9h0M322.6 299.1h0M322.8 292.1h0M322.9 289.0h0M323.0 289.2h0M323.1 306.3h0M323.2 304.0h0M323.4 293.9h0M323.5 279.7h0M323.6 280.5h0M323.8 286.3h0M323.9 281.1h0M324.0 292.3h0M324.1 279.2h0M324.2 270.0h0M324.4 285.0h0M324.5 287.9h0M324.6 297.0h0M324.8 286.4h0M324.9 294.2h0M325.0 295.9h0M325.1 302.4h0M325.2 301.9h0M325.4 314.3h0M325.5 306.4h0M325.6 295.4h0M325.8 279.3h0M325.9 290.2h0M326.0 282.1h0M326.1 271.1h0M326.2 261.4h0M326.4 256.4h0M326.5 262.4h0M326.6 259.0h0M326.8 253.2h0M326.9 258.0h0M327.0 256.2h0M327.1 255.2h0M327.2 250.3h0M327.4 250.0h0M327.5 250.8h0M327.6 252.3h0M327.8 257.4h0M327.9 251.7h0M328.0 244.0h0M328.1 249.0h0M328.2 241.9h0M328.4 236.6h0M328.5 233.2h0M328.6 232.1h0M328.8 240.3h0M328.9 234.3h0M329.0 242.8h0M329.1 225.5h0M329.2 231.5h0M329.4 243.6h0M329.5 247.1h0M329.6 251.3h0M329.8 251.2h0M329.9 255.7h0M330.0 238.7h0M330.1 250.2h0M330.2 243.0h0M330.4 254.9h0M330.5 255.5h0M330.6 230.3h0M330.8 213.8h0M330.9 227.3h0M331.0 225.1h0M331.1 219.7h0M331.2 222.2h0M331.4 216.5h0M331.5 209.3h0M331.6 210.1h0M331.8 211.3h0M331.9 229.2h0M332.0 229.3h0M332.1 251.4h0M332.2 272.5h0M332.4 258.2h0M332.5 270.3h0M332.6 271.4h0M332.8 272.5h0M332.9 270.3h0M333.0 261.2h0M333.1 259.9h0M333.2 252.0h0M333.4 270.2h0M333.5 263.6h0M333.6 257.9h0M333.8 235.3h0M333.9 234.2h0M334.0 228.9h0M334.1 215.6h0M334.2 201.9h0M334.4 202.0h0M334.5 207.4h0M334.6 205.7h0M334.8 233.0h0M334.9 231.7h0M335.0 229.2h0M335.1 243.6h0M335.2 244.0h0M335.4 244.9h0M335.5 240.1h0M335.6 232.9h0M335.8 247.2h0M335.9 240.6h0M336.0 237.7h0M336.1 233.3h0M336.2 232.6h0M336.4 223.2h0M336.5 231.5h0M336.6 217.3h0M336.8 221.7h0M336.9 231.0h0M337.0 231.4h0M337.1 221.9h0M337.2 230.8h0M337.4 223.5h0M337.5 215.9h0M337.6 203.3h0M337.8 212.4h0M337.9 225.6h0M338.0 219.6h0M338.1 212.1h0M338.2 208.1h0M338.4 219.9h0M338.5 218.8h0M338.6 213.0h0M338.8 196.5h0M338.9 189.6h0M339.0 198.8h0M339.1 213.8h0M339.2 210.4h0M339.4 203.3h0M339.5 197.8h0M339.6 180.2h0M339.8 187.0h0M339.9 176.4h0M340.0 184.7h0M340.1 168.5h0M340.2 156.2h0M340.4 157.7h0M340.5 149.8h0M340.6 155.6h0M340.8 154.6h0M340.9 144.8h0M341.0 149.2h0M341.1 156.6h0M341.2 147.0h0M341.4 162.7h0M341.5 166.8h0M341.6 173.2h0M341.8 157.9h0M341.9 152.0h0M342.0 149.2h0M342.1 157.7h0M342.2 146.7h0M342.4 153.8h0M342.5 155.9h0M342.6 154.1h0M342.8 156.6h0M342.9 152.2h0M343.0 149.5h0M343.1 153.0h0M343.2 163.8h0M343.4 168.2h0M343.5 166.2h0M343.6 158.6h0M343.8 152.6h0M343.9 154.3h0M344.0 155.2h0M344.1 154.9h0M344.2 164.6h0M344.4 166.3h0M344.5 160.2h0M344.6 168.7h0M344.8 173.9h0M344.9 174.4h0M345.0 170.6h0M345.1 160.6h0M345.2 154.9h0M345.4 159.3h0M345.5 154.8h0M345.6 158.2h0M345.8 158.9h0M345.9 159.8h0M346.0 162.6h0M346.1 165.7h0M346.2 172.8h0M346.4 168.0h0M346.5 172.9h0M346.6 167.3h0M346.8 170.6h0M346.9 171.2h0M347.0 172.2h0M347.1 177.0h0M347.2 176.6h0M347.4 182.2h0M347.5 179.5h0M347.6 179.8h0M347.8 176.4h0M347.9 172.0h0M348.0 168.9h0M348.1 167.4h0M348.2 166.9h0M348.4 178.9h0M348.5 179.0h0M348.6 177.5h0M348.8 172.5h0M348.9 168.2h0M349.0 166.2h0M349.1 166.3h0M349.2 159.9h0M349.4 167.7h0M349.5 163.8h0M349.6 168.6h0M349.8 155.6h0M349.9 154.7h0M350.0 155.3h0M350.1 155.4h0M350.2 157.6h0M350.4 158.1h0M350.5 158.1h0M350.6 147.9h0M350.8 143.6h0M350.9 132.8h0M351.0 134.9h0M351.1 135.5h0M351.2 133.8h0M351.4 129.5h0M351.5 131.2h0M351.6 138.8h0M351.8 145.7h0M351.9 144.6h0M352.0 149.4h0M352.1 141.2h0M352.2 131.1h0M352.4 127.9h0M352.5 122.5h0M352.6 118.7h0M352.8 118.8h0M352.9 134.9h0M353.0 130.1h0M353.1 129.5h0M353.2 130.3h0M353.4 129.2h0M353.5 134.3h0M353.6 145.2h0M353.8 135.8h0M353.9 136.1h0M354.0 133.3h0M354.1 135.0h0M354.2 122.7h0M354.4 108.4h0M354.5 103.8h0M354.6 107.1h0M354.8 107.7h0M354.9 107.4h0M355.0 95.0h0M355.1 89.9h0M355.2 88.4h0M355.4 90.4h0M355.5 79.6h0M355.6 84.9h0M355.8 88.9h0M355.9 86.8h0M356.0 90.8h0M356.1 82.0h0M356.2 81.0h0M356.4 79.7h0M356.5 85.0h0M356.6 82.2h0M356.8 78.5h0M356.9 74.8h0M357.0 63.9h0M357.1 95.0h0M357.2 101.9h0M357.4 107.5h0M357.5 130.7h0M357.6 118.6h0M357.8 97.1h0M357.9 106.2h0M358.0 117.1h0M358.1 121.2h0M358.2 123.6h0M358.4 127.3h0M358.5 111.5h0M358.6 99.8h0M358.8 103.0h0M358.9 109.1h0M359.0 95.8h0M359.1 90.5h0M359.2 85.2h0M359.4 85.6h0M359.5 89.4h0M359.6 85.6h0M359.8 70.1h0M359.9 84.9h0M360.0 103.8h0M360.1 102.4h0M360.2 114.6h0M360.4 119.8h0M360.5 115.2h0M360.6 120.8h0M360.8 111.6h0M360.9 118.3h0M361.0 110.8h0M361.1 100.1h0M361.2 116.9h0M361.4 98.2h0M361.5 119.6h0M361.6 96.0h0M361.8 104.6h0M361.9 100.4h0M362.0 93.3h0M362.1 83.7h0M362.2 84.9h0M362.4 84.3h0M362.5 92.0h0M362.6 68.4h0M362.8 95.0h0M362.9 113.3h0M363.0 112.8h0M363.1 113.1h0M363.2 114.7h0M363.4 115.0h0M363.5 112.5h0M363.6 110.9h0M363.8 101.4h0M363.9 103.3h0M364.0 102.9h0M364.1 107.0h0M364.2 97.6h0M364.4 98.6h0M364.5 99.6h0M364.6 107.4h0M364.8 94.9h0M364.9 100.6h0M365.0 113.4h0M365.1 121.5h0M365.2 117.3h0M365.4 111.4h0M365.5 108.8h0M365.6 119.0h0M365.8 118.2h0M365.9 116.5h0M366.0 108.2h0M366.1 113.9h0M366.2 117.3h0M366.4 104.9h0M366.5 94.8h0M366.6 93.9h0M366.8 104.2h0M366.9 87.1h0M367.0 72.4h0M367.1 80.4h0M367.2 62.2h0M367.4 64.4h0M367.5 70.4h0M367.6 69.1h0M367.8 53.5h0M367.9 53.1h0M368.0 48.2h0M368.1 54.9h0M368.2 42.2h0M368.4 61.8h0M368.5 47.9h0M368.6 46.0h0M368.8 47.4h0M368.9 65.8h0M369.0 56.0h0M369.1 67.3h0M369.2 57.8h0M369.4 73.1h0M369.5 107.8h0M369.6 101.2h0M369.8 111.1h0M369.9 93.7h0M370.0 114.7h0M370.1 140.9h0M370.2 142.8h0M370.4 120.1h0M370.5 129.9h0M370.6 155.9h0M370.8 181.0h0M370.9 190.1h0M371.0 150.3h0M371.1 135.7h0M371.2 167.8h0M371.4 141.4h0M371.5 166.7h0M371.6 187.6h0M371.8 191.4h0M371.9 180.2h0M372.0 173.7h0M372.1 148.3h0M372.2 146.7h0M372.4 143.2h0M372.5 142.8h0M372.6 157.7h0M372.8 155.3h0M372.9 159.8h0M373.0 169.0h0M373.1 169.5h0M373.2 192.2h0M373.4 197.7h0M373.5 199.5h0M373.6 196.0h0M373.8 184.5h0M373.9 189.3h0M374.0 192.7h0M374.1 173.6h0M374.2 164.4h0M374.4 163.1h0M374.5 156.3h0M374.6 176.3h0M374.8 157.7h0M374.9 167.0h0M375.0 170.5h0M375.1 152.8h0M375.2 154.7h0M375.4 154.4h0M375.5 163.0h0M375.6 157.6h0M375.8 163.1h0M375.9 141.0h0M376.0 127.3h0M376.1 138.9h0M376.2 153.5h0M376.4 154.5h0M376.5 148.3h0M376.6 162.4h0M376.8 139.3h0M376.9 131.5h0M377.0 139.9h0M377.1 147.3h0M377.2 136.7h0M377.4 142.4h0M377.5 158.1h0M377.6 160.0h0M377.8 151.1h0M377.9 152.0h0M378.0 161.6h0M378.1 135.8h0M378.2 147.3h0M378.4 154.9h0M378.5 136.4h0M378.6 144.2h0M378.8 146.4h0M378.9 157.7h0M379.0 161.8h0M379.1 183.2h0M379.2 177.9h0M379.4 178.3h0M379.5 188.2h0M379.6 182.8h0M379.8 176.9h0M379.9 174.0h0M380.0 173.7h0M380.1 164.7h0M380.2 169.2h0M380.4 174.2h0M380.5 175.1h0M380.6 189.6h0M380.8 187.2h0M380.9 198.2h0M381.0 194.2h0M381.1 200.5h0M381.2 185.4h0M381.4 187.2h0M381.5 186.1h0M381.6 182.6h0M381.8 178.1h0M381.9 175.7h0M382.0 170.5h0M382.1 154.2h0M382.2 156.3h0M382.4 154.7h0M382.5 156.9h0M382.6 159.4h0M382.8 158.7h0M382.9 164.7h0M383.0 163.1h0M383.1 159.9h0M383.2 169.8h0M383.4 176.9h0M383.5 183.6h0M383.6 191.9h0M383.8 189.9h0M383.9 189.3h0M384.0 197.1h0M384.1 193.7h0M384.2 193.1h0M384.4 195.9h0M384.5 198.6h0M384.6 197.1h0M384.8 203.7h0M384.9 202.9h0M385.0 202.8h0M385.1 208.3h0M390.2 373.5h0M390.4 394.9h0M390.5 368.7h0M390.6 339.0h0M390.8 326.7h0M390.9 341.0h0M391.0 379.7h0M391.1 353.6h0M391.2 363.6h0M391.4 346.7h0M391.5 332.8h0M391.6 329.4h0M391.8 347.6h0M391.9 355.1h0M392.0 383.5h0M392.1 365.5h0M392.2 386.4h0M392.4 407.5h0M392.5 411.6h0M392.6 423.1h0M392.8 416.0h0M392.9 400.2h0M393.0 396.3h0M393.1 389.0h0M393.2 435.2h0M393.4 431.1h0M393.5 451.6h0M393.6 452.1h0M393.8 451.5h0M393.9 448.4h0M394.0 442.6h0M394.1 453.0h0M394.2 454.9h0M394.4 439.2h0M394.5 445.9h0M394.6 452.0h0M394.8 455.0h0M394.9 440.5h0M395.0 436.8h0M395.1 442.2h0M395.2 449.9h0M395.4 441.7h0M395.5 453.4h0M395.6 440.3h0M395.8 428.7h0M395.9 433.9h0M396.0 424.5h0M396.1 423.9h0M396.2 410.1h0M396.4 411.0h0M396.5 401.9h0M396.6 405.1h0M396.8 409.1h0M396.9 413.1h0M397.0 411.4h0M397.1 411.9h0M397.2 411.4h0M397.4 412.5h0M397.5 404.8h0M397.6 422.3h0M397.8 422.6h0M397.9 415.6h0M398.0 412.3h0M398.1 415.5h0M398.2 408.8h0M398.4 406.8h0M398.5 408.1h0M398.6 410.5h0M398.8 412.8h0M398.9 411.9h0M399.0 406.1h0M399.1 413.3h0M399.2 419.0h0M399.4 414.5h0M399.5 418.5h0M399.6 421.7h0M399.8 408.9h0M399.9 413.5h0M400.0 413.5h0M400.1 415.4h0M400.2 420.4h0M400.4 425.7h0M400.5 432.7h0M400.6 429.5h0M400.8 427.5h0M400.9 433.0h0M401.0 429.3h0M401.1 437.1h0M401.2 424.1h0M401.4 429.0h0M401.5 427.1h0M401.6 410.4h0M401.8 418.2h0M401.9 420.5h0M402.0 420.2h0M402.1 410.3h0M402.2 405.8h0M402.4 419.0h0M402.5 411.0h0M402.6 402.2h0M402.8 393.7h0M402.9 395.3h0M403.0 393.7h0M403.1 388.9h0M403.2 392.6h0M403.4 386.4h0M403.5 395.6h0M403.6 385.5h0M403.8 403.5h0M403.9 397.3h0M404.0 385.7h0M404.1 392.4h0M404.2 396.9h0M404.4 385.9h0M404.5 392.2h0M404.6 377.6h0M404.8 381.5h0M404.9 391.4h0M405.0 388.0h0M405.1 374.5h0M405.2 378.5h0M405.4 386.4h0M405.5 385.2h0M405.6 370.1h0M405.8 369.7h0M405.9 372.7h0M406.0 379.0h0M406.1 395.5h0M406.2 392.2h0M406.4 386.7h0M406.5 385.4h0M406.6 395.7h0M406.8 386.0h0M406.9 397.1h0M407.0 370.9h0M407.1 377.3h0M407.2 370.2h0M407.4 373.4h0M407.5 378.7h0M407.6 367.1h0M407.8 365.4h0M407.9 366.6h0M408.0 370.9h0M408.1 362.2h0M408.2 352.8h0M408.4 367.5h0M408.5 389.7h0M408.6 387.5h0M408.8 385.0h0M408.9 371.2h0M409.0 379.1h0M409.1 373.8h0M409.2 386.2h0M409.4 393.3h0M409.5 393.0h0M409.6 399.0h0M409.8 388.6h0M409.9 385.3h0M410.0 379.7h0M410.1 367.9h0M410.2 367.5h0M410.4 365.8h0M410.5 378.1h0M410.6 347.7h0M410.8 343.6h0M410.9 349.0h0M411.0 344.4h0M411.1 347.7h0M411.2 350.8h0M411.4 350.6h0M411.5 345.9h0M411.6 349.8h0M411.8 352.6h0M411.9 340.8h0M412.0 338.0h0M412.1 348.6h0M412.2 337.0h0M412.4 337.4h0M412.5 336.9h0M412.6 337.0h0M412.8 334.4h0M412.9 331.5h0M413.0 335.8h0M413.1 338.4h0M413.2 343.8h0M413.4 359.1h0M413.5 369.9h0M413.6 361.4h0M413.8 356.1h0M413.9 346.3h0M414.0 348.2h0M414.1 366.0h0M414.2 371.7h0M414.4 349.8h0M414.5 336.7h0M414.6 323.3h0M414.8 327.3h0M414.9 326.3h0M415.0 328.2h0M415.1 344.6h0M415.2 335.6h0M415.4 326.3h0M415.5 344.6h0M415.6 347.0h0M415.8 338.3h0M415.9 317.2h0M416.0 304.5h0M416.1 325.1h0M416.2 325.2h0M416.4 325.1h0M416.5 334.3h0M416.6 332.4h0M416.8 325.2h0M416.9 317.6h0M417.0 335.2h0M417.1 317.9h0M417.2 319.1h0M417.4 318.8h0M417.5 324.0h0M417.6 319.7h0M417.8 323.8h0M417.9 330.7h0M418.0 328.9h0M418.1 324.2h0M418.2 322.0h0M418.4 312.9h0M418.5 310.6h0M418.6 307.4h0M418.8 308.7h0M418.9 319.8h0M419.0 330.5h0M419.1 325.6h0M419.2 329.3h0M419.4 330.4h0M419.5 334.9h0M419.6 333.9h0M419.8 334.6h0M419.9 330.3h0M420.0 324.1h0M420.1 329.5h0M420.2 332.8h0M420.4 333.6h0M420.5 334.2h0M420.6 334.7h0M420.8 331.5h0M420.9 319.3h0M421.0 323.6h0M421.1 324.8h0M421.2 320.8h0M421.4 313.9h0M421.5 322.7h0M421.6 309.8h0M421.8 322.2h0M421.9 326.6h0M422.0 327.0h0M422.1 321.6h0M422.2 321.3h0M422.4 317.4h0M422.5 318.3h0M422.6 316.6h0M422.8 310.8h0M422.9 318.8h0M423.0 312.6h0M423.1 308.5h0M423.2 312.6h0M423.4 308.3h0M423.5 304.7h0M423.6 307.3h0M423.8 304.2h0M423.9 294.1h0M424.0 293.1h0M424.1 291.1h0M424.2 304.9h0M424.4 295.7h0M424.5 303.5h0M424.6 296.8h0M424.8 293.6h0M424.9 290.7h0M425.0 292.8h0M425.1 300.0h0M425.2 314.9h0M425.4 309.2h0M425.5 320.6h0M425.6 329.1h0M425.8 334.4h0M425.9 327.6h0M426.0 335.1h0M426.1 334.0h0M426.2 333.5h0M426.4 330.9h0M426.5 333.7h0M426.6 326.8h0M426.8 333.5h0M426.9 331.4h0M427.0 330.0h0M427.1 327.1h0M427.2 318.1h0M427.4 331.9h0M427.5 319.0h0M427.6 324.0h0M427.8 329.6h0M427.9 326.8h0M428.0 329.3h0M428.1 324.4h0M428.2 316.4h0M428.4 303.8h0M428.5 311.3h0M428.6 308.7h0M428.8 301.4h0M428.9 306.6h0M429.0 298.6h0M429.1 294.0h0M429.2 289.1h0M429.4 306.0h0M429.5 321.0h0M429.6 319.2h0M429.8 302.5h0M429.9 305.3h0M430.0 305.8h0M430.1 309.5h0M430.2 315.5h0M430.4 312.0h0M430.5 322.1h0M430.6 331.2h0M430.8 333.5h0M430.9 328.9h0M431.0 323.5h0M431.1 331.2h0M431.2 318.7h0M431.4 316.8h0M431.5 308.1h0M431.6 291.9h0M431.8 298.9h0M431.9 298.6h0M432.0 298.9h0M432.1 309.3h0M432.2 291.3h0M432.4 290.5h0M432.5 293.9h0M432.6 304.1h0M432.8 290.7h0M432.9 299.5h0M433.0 302.2h0M433.1 319.2h0M433.2 333.5h0M433.4 340.5h0M433.5 314.8h0M433.6 314.7h0M433.8 309.2h0M433.9 304.7h0M434.0 292.3h0M434.1 292.1h0M434.2 267.9h0M434.4 267.0h0M434.5 272.8h0M434.6 285.7h0M434.8 281.5h0M434.9 299.4h0M435.0 291.3h0M435.1 289.9h0M435.2 266.5h0M435.4 261.2h0M435.5 267.6h0M435.6 285.9h0M435.8 292.5h0M435.9 279.5h0M436.0 286.1h0M436.1 292.1h0M436.2 289.5h0M436.4 290.0h0M436.5 286.6h0M436.6 280.5h0M436.8 267.2h0M436.9 266.4h0M437.0 281.4h0M437.1 298.0h0M437.2 295.0h0M437.4 286.8h0M437.5 284.6h0M437.6 294.9h0M437.8 299.0h0M437.9 292.8h0M438.0 297.0h0M438.1 295.6h0M438.2 301.9h0M438.4 298.4h0M438.5 283.7h0M438.6 285.1h0M438.8 293.7h0M438.9 283.3h0M439.0 283.1h0M439.1 292.6h0M439.2 289.7h0M439.4 284.3h0M439.5 304.4h0M439.6 313.0h0M439.8 323.3h0M439.9 315.5h0M440.0 330.9h0M440.1 317.1h0M440.2 313.4h0M440.4 320.5h0M440.5 332.6h0M440.6 325.7h0M440.8 321.0h0M440.9 323.4h0M441.0 308.9h0M441.1 314.7h0M441.2 319.8h0M441.4 317.3h0M441.5 322.1h0M441.6 328.6h0M441.8 331.6h0M441.9 336.1h0M442.0 347.4h0M442.1 344.7h0M442.2 346.4h0M442.4 343.3h0M442.5 351.0h0M442.6 348.8h0M442.8 352.6h0M442.9 354.1h0M443.0 355.2h0M443.1 352.7h0M443.2 352.7h0M443.4 359.4h0M443.5 357.7h0M443.6 357.1h0M443.8 356.6h0M443.9 363.1h0M444.0 358.8h0M444.1 355.3h0M444.2 357.7h0M444.4 357.4h0M444.5 357.7h0M444.6 365.9h0M444.8 361.7h0M444.9 351.3h0M445.0 340.4h0M445.1 338.0h0M445.2 334.4h0M445.4 335.1h0M445.5 339.3h0M445.6 351.3h0M445.8 353.9h0M445.9 357.5h0M446.0 353.3h0M446.1 357.4h0M446.2 366.4h0M446.4 370.3h0M446.5 358.7h0M446.6 364.5h0M446.8 372.0h0M446.9 369.4h0M447.0 361.0h0M447.1 359.6h0M447.2 363.4h0M447.4 366.1h0M447.5 362.0h0M447.6 357.4h0M447.8 363.1h0M447.9 356.3h0M448.0 364.3h0M448.1 364.8h0M448.2 366.8h0M448.4 360.3h0M448.5 357.7h0M448.6 361.5h0M448.8 354.6h0M448.9 365.1h0M449.0 358.8h0M449.1 353.4h0M449.2 354.0h0M449.4 356.6h0M449.5 360.3h0M449.6 359.0h0M449.8 358.5h0M449.9 357.9h0M450.0 355.8h0M450.1 350.8h0M450.2 355.0h0M450.4 356.2h0M450.5 357.0h0M450.6 354.5h0M450.8 355.7h0M450.9 355.7h0M451.0 355.5h0M451.1 360.3h0M451.2 353.2h0M451.4 354.4h0M451.5 350.1h0M451.6 350.6h0M451.8 357.0h0M451.9 352.6h0M452.0 352.3h0M452.1 350.8h0M452.2 354.8h0M452.4 350.9h0M452.5 357.6h0M452.6 359.8h0M452.8 358.5h0M452.9 357.3h0M453.0 361.8h0M453.1 358.3h0M453.2 357.0h0M453.4 357.7h0M453.5 359.4h0M453.6 357.5h0M453.8 361.8h0M453.9 370.8h0M454.0 369.3h0M454.1 376.5h0M454.2 368.0h0M454.4 373.4h0M454.5 371.9h0M454.6 372.3h0M454.8 370.8h0M454.9 368.1h0M455.0 362.9h0M455.1 361.2h0M455.2 366.2h0M455.4 370.5h0M455.5 369.0h0M455.6 366.7h0M455.8 363.8h0M455.9 358.9h0M456.0 365.9h0M456.1 368.4h0M456.2 368.7h0M456.4 366.6h0M456.5 362.4h0M456.6 367.4h0M456.8 370.4h0M456.9 366.4h0M457.0 370.2h0M457.1 365.6h0M457.2 368.0h0M457.4 364.1h0M457.5 362.3h0M457.6 364.1h0M457.8 365.6h0M457.9 369.5h0M458.0 366.0h0M458.1 371.9h0M458.2 372.0h0M458.4 371.7h0M458.5 373.1h0M458.6 369.8h0M458.8 368.9h0M458.9 363.6h0M459.0 363.6h0M459.1 364.0h0M459.2 368.7h0M459.4 369.7h0M459.5 368.4h0M459.6 366.7h0M459.8 365.6h0M459.9 364.0h0M460.0 364.5h0M460.1 357.2h0M460.2 359.7h0M460.4 353.8h0M460.5 351.7h0M460.6 351.4h0M460.8 349.3h0M460.9 354.7h0M461.0 354.0h0M461.1 359.0h0M461.2 362.7h0M461.4 360.7h0M461.5 361.7h0M461.6 361.3h0M461.8 359.9h0M461.9 359.8h0M462.0 357.7h0M462.1 358.0h0M462.2 357.0h0M462.4 357.4h0M462.5 360.8h0M462.6 360.6h0M462.8 361.2h0M462.9 361.9h0M463.0 362.1h0M463.1 361.3h0M463.2 357.9h0M463.4 361.7h0M463.5 358.7h0M463.6 361.9h0M463.8 358.8h0M463.9 364.1h0M464.0 360.7h0M464.1 363.7h0M464.2 361.2h0M464.4 358.1h0M464.5 363.3h0M464.6 360.6h0M464.8 354.6h0M464.9 357.2h0M465.0 359.8h0M465.1 359.2h0M465.2 350.6h0M465.4 350.5h0M465.5 349.6h0M465.6 348.4h0M465.8 347.5h0M465.9 344.0h0M466.0 343.4h0M466.1 351.0h0M466.2 357.8h0M466.4 357.5h0M466.5 355.7h0M466.6 358.3h0M466.8 363.9h0M466.9 368.1h0M467.0 363.9h0M467.1 365.7h0M467.2 367.4h0M467.4 375.4h0M467.5 382.4h0M467.6 386.1h0M467.8 381.9h0M467.9 380.8h0M468.0 390.2h0M468.1 388.9h0M468.2 392.2h0M468.4 391.4h0M468.5 387.0h0M468.6 383.8h0M468.8 374.0h0M468.9 376.0h0M469.0 376.7h0M469.1 374.9h0M469.2 378.3h0M469.4 365.3h0M469.5 365.4h0M469.6 366.3h0M469.8 364.9h0M469.9 370.0h0M470.0 380.9h0M470.1 378.5h0M470.2 373.2h0M470.4 369.8h0M470.5 370.7h0M470.6 374.4h0M470.8 369.6h0M470.9 375.7h0M471.0 370.1h0M471.1 375.0h0M471.2 377.7h0M471.4 380.6h0M471.5 392.9h0M471.6 391.7h0M471.8 391.1h0M471.9 393.9h0M472.0 398.9h0M472.1 391.4h0M472.2 392.6h0M472.4 388.3h0M472.5 391.4h0M472.6 398.4h0M472.8 398.4h0M472.9 397.6h0M473.0 398.3h0M473.1 382.5h0M473.2 386.3h0M473.4 388.9h0M473.5 389.5h0M473.6 387.2h0M473.8 383.2h0M473.9 382.0h0M474.0 387.9h0M474.1 387.1h0M474.2 393.7h0M474.4 380.4h0M474.5 377.8h0M474.6 378.9h0M474.8 378.6h0M474.9 370.1h0M475.0 366.5h0M475.1 372.4h0M475.2 365.9h0M475.4 364.5h0M475.5 366.4h0M475.6 363.6h0M475.8 366.3h0M475.9 368.8h0M476.0 366.0h0M476.1 372.2h0M476.2 369.4h0M476.4 366.7h0M476.5 373.6h0M476.6 373.0h0M476.8 367.7h0M476.9 364.9h0M477.0 363.7h0M477.1 366.0h0M477.2 364.5h0M477.4 367.6h0M477.5 368.7h0M477.6 363.4h0M477.8 373.4h0M477.9 369.6h0M478.0 369.8h0M478.1 369.9h0M478.2 372.7h0M478.4 371.5h0M478.5 373.2h0M478.6 381.2h0M478.8 381.6h0M478.9 377.3h0M479.0 378.7h0M479.1 375.4h0M479.2 373.9h0M479.4 374.7h0M479.5 376.1h0M479.6 374.9h0M479.8 378.6h0M479.9 377.7h0M480.0 371.9h0M480.1 375.9h0M480.2 374.2h0M480.4 379.8h0M480.5 376.7h0M480.6 379.5h0M480.8 381.0h0M480.9 367.8h0M481.0 360.4h0M481.1 361.9h0M481.2 369.2h0M481.4 361.0h0M481.5 365.8h0M481.6 371.4h0M481.8 374.2h0M481.9 377.7h0M482.0 376.3h0M482.1 376.8h0M482.2 378.4h0M482.4 380.7h0M482.5 384.0h0M482.6 383.9h0M482.8 381.9h0M482.9 380.5h0M483.0 382.6h0M483.1 377.5h0M483.2 375.3h0M483.4 376.5h0M483.5 377.6h0M483.6 377.5h0M483.8 386.6h0M483.9 386.3h0M484.0 386.2h0M484.1 388.9h0M484.2 384.3h0M484.4 384.2h0M484.5 386.0h0M484.6 387.7h0M484.8 391.1h0M484.9 394.0h0M485.0 392.4h0M485.1 394.5h0M485.2 394.3h0M485.4 393.0h0M485.5 397.5h0M485.6 396.5h0M485.8 394.7h0M485.9 394.1h0M486.0 392.2h0M486.1 396.0h0M486.2 397.8h0M486.4 403.3h0M486.5 405.3h0M486.6 403.7h0M486.8 408.3h0M486.9 406.4h0M487.0 405.1h0M487.1 405.1h0M487.2 405.9h0M487.4 411.7h0M487.5 409.6h0M487.6 411.9h0M487.8 412.3h0M487.9 406.9h0M488.0 402.0h0M488.1 401.3h0M488.2 403.6h0M488.4 405.6h0M488.5 408.3h0M488.6 408.9h0M488.8 407.0h0M488.9 409.5h0M489.0 404.8h0M489.1 398.3h0M489.2 397.0h0M489.4 402.3h0M489.5 400.0h0M489.6 397.1h0M489.8 399.7h0M489.9 399.8h0M490.0 399.5h0M490.1 398.5h0M490.2 406.7h0M490.4 407.8h0M490.5 403.6h0M490.6 406.0h0M490.8 407.5h0M490.9 403.7h0M491.0 405.3h0M491.1 408.2h0M491.2 406.7h0M491.4 407.5h0M491.5 408.4h0M491.6 402.8h0M491.8 404.3h0M491.9 405.4h0M492.0 404.9h0M492.1 408.8h0M492.2 408.6h0M492.4 408.7h0M492.5 406.5h0M492.6 409.3h0M492.8 409.9h0M492.9 415.7h0M493.0 418.0h0M493.1 415.0h0M493.2 413.9h0M493.4 418.5h0M493.5 416.7h0M493.6 418.6h0M493.8 421.2h0M493.9 420.4h0M494.0 409.3h0M494.1 410.0h0M494.2 411.0h0M494.4 411.7h0M494.5 408.2h0M494.6 413.9h0M494.8 413.3h0M494.9 410.5h0M495.0 407.3h0M495.1 409.0h0M495.2 409.5h0M495.4 408.8h0M495.5 417.7h0M495.6 423.5h0M495.8 428.1h0M495.9 434.0h0M496.0 436.6h0M496.1 429.3h0M496.2 434.1h0M496.4 433.5h0M496.5 435.4h0M496.6 427.2h0M496.8 432.0h0M496.9 432.8h0M497.0 430.6h0M497.1 431.0h0M497.2 433.8h0M497.4 433.3h0M497.5 429.7h0M497.6 429.8h0M497.8 432.2h0M497.9 432.3h0M498.0 426.7h0M498.1 422.8h0M498.2 429.1h0M498.4 429.9h0M498.5 427.6h0M498.6 429.9h0M498.8 425.0h0M498.9 426.7h0M499.0 424.5h0M499.1 424.4h0M499.2 417.8h0M499.4 417.0h0M499.5 419.8h0M499.6 412.6h0M499.8 413.0h0M499.9 415.4h0M500.0 419.4h0M500.1 416.5h0M500.2 414.4h0M500.4 408.7h0M500.5 406.4h0M500.6 407.9h0M500.8 414.0h0M500.9 410.6h0M501.0 414.5h0M501.1 415.7h0M501.2 414.2h0M501.4 420.3h0M501.5 413.3h0M501.6 413.1h0M501.8 413.6h0M501.9 419.2h0M502.0 423.9h0M502.1 419.5h0M502.2 419.8h0M502.4 422.2h0M502.5 422.7h0M502.6 423.9h0M502.8 422.9h0M502.9 422.4h0M503.0 421.4h0M503.1 418.5h0M503.2 422.9h0M503.4 421.8h0M503.5 417.1h0M503.6 417.7h0M503.8 417.6h0M503.9 417.9h0M504.0 421.7h0M504.1 421.7h0M504.2 421.4h0M504.4 419.9h0M504.5 420.1h0M504.6 419.3h0M504.8 420.1h0M504.9 422.2h0M505.0 423.5h0M505.1 421.6h0M505.2 425.9h0M505.4 425.1h0M505.5 426.8h0M505.6 426.1h0M505.8 427.2h0M505.9 427.3h0M506.0 425.9h0M506.1 429.1h0M506.2 425.8h0M506.4 424.6h0M506.5 424.8h0M506.6 422.8h0M506.8 426.1h0M506.9 428.9h0M507.0 427.7h0M507.1 429.8h0M507.2 426.9h0M507.4 431.2h0M507.5 427.7h0M507.6 427.6h0M507.8 430.1h0M507.9 430.2h0M508.0 431.9h0M508.1 434.3h0M508.2 434.7h0M508.4 430.8h0M508.5 433.2h0M508.6 432.8h0M508.8 433.2h0M508.9 431.1h0M509.0 426.2h0M509.1 421.8h0M509.2 420.5h0M509.4 416.7h0M509.5 413.5h0M509.6 417.4h0M509.8 413.4h0M509.9 410.8h0M510.0 412.6h0M510.1 416.2h0M510.2 420.7h0M510.4 418.0h0M510.5 420.2h0M510.6 418.5h0M510.8 419.5h0M510.9 419.8h0M511.0 419.7h0M511.1 413.5h0M511.2 411.3h0M511.4 411.1h0M511.5 415.8h0M511.6 413.9h0M511.8 415.6h0M511.9 416.1h0M512.0 417.6h0M512.1 420.8h0M512.2 416.0h0M512.4 416.9h0M512.5 416.3h0M512.6 415.4h0M512.8 412.8h0M512.9 411.2h0M513.0 413.8h0M513.1 411.7h0M513.2 418.8h0M513.4 423.5h0M513.5 423.6h0M513.6 425.6h0M513.8 423.0h0M513.9 415.7h0M514.0 413.4h0M514.1 413.8h0M514.2 417.3h0M514.4 417.2h0M514.5 414.9h0M514.6 414.3h0M514.8 414.4h0M514.9 415.5h0M515.0 414.9h0M515.1 414.1h0M515.2 415.2h0M515.4 414.5h0M515.5 415.6h0M515.6 416.1h0M515.8 418.8h0M515.9 418.4h0M516.0 422.7h0M516.1 419.9h0M516.2 420.8h0M516.4 418.9h0M516.5 419.0h0M516.6 419.5h0M516.8 421.0h0M516.9 423.6h0M517.0 422.8h0M517.1 420.8h0M517.2 420.8h0M517.4 421.7h0M517.5 420.7h0M517.6 422.8h0M517.8 426.4h0M517.9 424.0h0M518.0 425.1h0M518.1 427.4h0M518.2 424.0h0M518.4 424.8h0M518.5 424.7h0M518.6 424.3h0M518.8 427.2h0M518.9 428.0h0M519.0 427.4h0M519.1 428.6h0M519.2 430.2h0M519.4 432.1h0M519.5 433.6h0M519.6 434.7h0M519.8 432.8h0M519.9 432.3h0M520.0 432.9h0M520.1 427.6h0M520.2 431.8h0M520.4 431.0h0M520.5 429.0h0M520.6 427.9h0M520.8 428.5h0M520.9 428.5h0M521.0 427.4h0M521.1 426.6h0M521.2 426.5h0M521.4 426.0h0M521.5 425.8h0M521.6 425.8h0M521.8 427.4h0M521.9 427.0h0M522.0 427.4h0M522.1 428.4h0M522.2 431.7h0M522.4 433.4h0M522.5 434.0h0M522.6 433.6h0M522.8 431.3h0M522.9 430.3h0M523.0 432.4h0M523.1 431.9h0M523.2 429.4h0M523.4 423.2h0M523.5 415.8h0M523.6 416.0h0M523.8 419.6h0M523.9 420.2h0M524.0 412.0h0M524.1 409.7h0M524.2 409.8h0M524.4 403.1h0M524.5 404.1h0M524.6 401.7h0M524.8 394.9h0M524.9 398.0h0M525.0 402.7h0M525.1 404.3h0M525.2 396.2h0M525.4 386.8h0M525.5 393.1h0M525.6 397.0h0M525.8 393.2h0M525.9 406.6h0M526.0 402.7h0M526.1 392.2h0M526.2 401.9h0M526.4 399.6h0M526.5 402.3h0M526.6 402.1h0M526.8 392.2h0M526.9 380.7h0M527.0 378.3h0M527.1 390.8h0M527.2 381.0h0M527.4 392.9h0M527.5 394.4h0M527.6 383.7h0M527.8 385.6h0M527.9 390.2h0M528.0 381.5h0M528.1 367.9h0M528.2 370.5h0M528.4 367.7h0M528.5 371.1h0M528.6 372.4h0M528.8 370.6h0M528.9 362.8h0M529.0 373.9h0M529.1 371.2h0M529.2 372.1h0M529.4 366.7h0M529.5 363.5h0M529.6 364.8h0M529.8 368.4h0M529.9 372.5h0M530.0 376.2h0M530.1 390.1h0M530.2 397.1h0M530.4 399.6h0M530.5 401.2h0M530.6 400.9h0M530.8 389.6h0M530.9 400.9h0M531.0 404.6h0M531.1 401.8h0M531.2 392.4h0M531.4 403.2h0M531.5 406.7h0M531.6 397.3h0M531.8 401.8h0M531.9 394.4h0M532.0 393.7h0M532.1 396.0h0M532.2 392.6h0M532.4 387.7h0M532.5 394.5h0M532.6 384.7h0M532.8 385.0h0M532.9 383.6h0M533.0 388.2h0M533.1 385.8h0M533.2 390.0h0M533.4 394.7h0M533.5 388.0h0M533.6 380.9h0M533.8 380.0h0M533.9 384.6h0M534.0 385.7h0M534.1 389.2h0M534.2 380.9h0M534.4 383.2h0M534.5 379.3h0M534.6 379.4h0M534.8 380.7h0M534.9 375.0h0M535.0 373.3h0M535.1 366.7h0M535.2 367.7h0M535.4 362.9h0M535.5 359.9h0M535.6 360.6h0M535.8 356.9h0M535.9 362.0h0M536.0 358.5h0M536.1 361.8h0M536.2 362.3h0M536.4 356.1h0M536.5 354.0h0M536.6 348.5h0M536.8 345.5h0M536.9 343.1h0M537.0 353.2h0M537.1 349.7h0M537.2 358.8h0M537.4 360.9h0M537.5 351.2h0M537.6 334.5h0M537.8 338.4h0M537.9 329.1h0M538.0 333.5h0M538.1 341.0h0M538.2 343.7h0M538.4 342.1h0M538.5 340.2h0M538.6 342.0h0M538.8 339.6h0M538.9 335.6h0M539.0 332.8h0M539.1 341.2h0M539.2 336.6h0M539.4 339.3h0M539.5 330.8h0M539.6 325.5h0M539.8 331.7h0M539.9 330.2h0M540.0 335.0h0M540.1 337.1h0M540.2 333.4h0M540.4 337.8h0M540.5 335.1h0M540.6 337.7h0M540.8 339.6h0M540.9 343.4h0M541.0 325.5h0M541.1 330.1h0M541.2 335.8h0M541.4 335.4h0M541.5 351.1h0M541.6 349.7h0M541.8 346.3h0M541.9 356.5h0M542.0 360.4h0M542.1 371.6h0M542.2 369.4h0M542.4 368.4h0M542.5 371.3h0M542.6 366.8h0M542.8 364.4h0M542.9 361.3h0M543.0 360.3h0M543.1 365.1h0M543.2 362.6h0M543.4 364.7h0M543.5 362.3h0M543.6 367.4h0M543.8 352.8h0M543.9 352.0h0M544.0 353.1h0M544.1 347.9h0M544.2 353.3h0M544.4 354.6h0M544.5 361.2h0M544.6 366.1h0M544.8 369.4h0M544.9 369.0h0M545.0 364.3h0M545.1 363.4h0M545.2 361.5h0M545.4 362.7h0M545.5 360.7h0M545.6 370.2h0M545.8 363.3h0M545.9 368.5h0M546.0 366.6h0M546.1 365.7h0M546.2 369.7h0M546.4 369.8h0M546.5 364.9h0M546.6 366.7h0M546.8 366.0h0M546.9 357.7h0M547.0 358.6h0M547.1 354.5h0M547.2 351.6h0M547.4 353.6h0M547.5 354.9h0M547.6 353.9h0M547.8 362.4h0M547.9 364.1h0M548.0 361.9h0M548.1 362.9h0M548.2 362.5h0M548.4 354.5h0M548.5 348.8h0M548.6 350.4h0M548.8 357.9h0M548.9 357.4h0M549.0 356.5h0M549.1 354.7h0M549.2 358.3h0M549.4 358.5h0M549.5 364.6h0M549.6 367.5h0M549.8 372.3h0M549.9 372.1h0M550.0 372.5h0M550.1 371.2h0M550.2 370.8h0M550.4 365.1h0M550.5 363.4h0M550.6 360.4h0M550.8 358.4h0M550.9 362.5h0M551.0 363.5h0M551.1 367.6h0M551.2 370.6h0M551.4 373.7h0M551.5 371.2h0M551.6 369.5h0M551.8 372.2h0M551.9 371.3h0M552.0 369.8h0M552.1 373.7h0M552.2 368.9h0M552.4 366.1h0M552.5 371.5h0M552.6 374.2h0M552.8 371.8h0M552.9 372.8h0M553.0 374.0h0M553.1 375.3h0M553.2 374.4h0M553.4 370.7h0M553.5 371.0h0M553.6 373.8h0M553.8 376.4h0M553.9 375.4h0M554.0 375.5h0M554.1 372.5h0M554.2 372.5h0M554.4 373.8h0M554.5 377.2h0M554.6 377.9h0M554.8 377.7h0M554.9 378.3h0M555.0 373.0h0M555.1 365.9h0M555.2 366.0h0M555.4 374.5h0M555.5 375.5h0M555.6 369.4h0M555.8 370.0h0M555.9 365.2h0M556.0 363.0h0M556.1 364.0h0M556.2 370.2h0M556.4 372.0h0M556.5 374.6h0M556.6 378.5h0M556.8 379.4h0M556.9 376.4h0M557.0 376.2h0M557.1 378.0h0M557.2 377.4h0M557.4 375.3h0M557.5 374.3h0M557.6 368.7h0M557.8 364.9h0M557.9 365.0h0M558.0 363.9h0M558.1 364.6h0M558.2 371.4h0M558.4 373.3h0M558.5 373.7h0M558.6 368.6h0M558.8 363.8h0M558.9 366.2h0M559.0 362.3h0M559.1 365.0h0M559.2 363.1h0M559.4 364.3h0M559.5 364.4h0M559.6 370.3h0M559.8 368.7h0M559.9 367.1h0M560.0 369.0h0M560.1 369.8h0M560.2 379.7h0M560.4 378.8h0M560.5 376.4h0M560.6 375.2h0M560.8 378.1h0M560.9 379.8h0M561.0 383.9h0M561.1 377.5h0M561.2 390.1h0M561.4 399.4h0M561.5 399.8h0M561.6 394.7h0M561.8 395.9h0M561.9 398.2h0M562.0 388.9h0M562.1 389.5h0M562.2 383.7h0M562.4 386.1h0M562.5 392.2h0M562.6 396.9h0M562.8 391.5h0M562.9 397.3h0M563.0 401.2h0M563.1 400.4h0M563.2 402.7h0M563.4 407.8h0M563.5 407.2h0M563.6 407.6h0M563.8 406.3h0M563.9 407.6h0M564.0 401.4h0M564.1 405.8h0M564.2 403.1h0M564.4 405.9h0M564.5 401.3h0M564.6 398.8h0M564.8 397.3h0M564.9 399.7h0M565.0 395.5h0M565.1 397.2h0M565.2 395.7h0M565.4 398.9h0M565.5 398.3h0M565.6 399.5h0M565.8 399.3h0M565.9 403.5h0M566.0 402.8h0M566.1 402.9h0M566.2 407.2h0M566.4 407.5h0M566.5 407.0h0M566.6 405.6h0M566.8 406.1h0M566.9 401.9h0M567.0 402.2h0M567.1 401.1h0M567.2 398.3h0M567.4 396.6h0M567.5 399.0h0M567.6 399.9h0M567.8 397.1h0M567.9 400.8h0M568.0 399.5h0M568.1 398.7h0M568.2 398.9h0M568.4 397.1h0M568.5 399.2h0M568.6 397.6h0M568.8 399.7h0M568.9 401.3h0M569.0 398.1h0M569.1 400.2h0M569.2 400.1h0M569.4 400.9h0M569.5 400.8h0M569.6 401.4h0M569.8 399.3h0M569.9 397.4h0M570.0 395.8h0M570.1 394.9h0M570.2 396.0h0M570.4 393.3h0M570.5 396.4h0M570.6 394.9h0M570.8 393.4h0M570.9 394.8h0M571.0 395.6h0M571.1 394.6h0M571.2 391.9h0M571.4 389.4h0M571.5 392.6h0M571.6 395.2h0M571.8 397.6h0M571.9 402.1h0M572.0 403.2h0M572.1 403.9h0M572.2 404.5h0M572.4 403.2h0M572.5 402.3h0M572.6 403.1h0M572.8 400.8h0M572.9 396.1h0M573.0 392.2h0M573.1 389.5h0M573.2 391.3h0M573.4 394.4h0M573.5 393.3h0M573.6 395.0h0M573.8 394.8h0M573.9 395.4h0M574.0 393.8h0M574.1 393.5h0M574.2 393.4h0M574.4 396.4h0M574.5 402.7h0M574.6 397.3h0M574.8 398.7h0M574.9 398.5h0M575.0 401.2h0M575.1 401.6h0M575.2 401.9h0M575.4 401.3h0M575.5 398.2h0M575.6 392.9h0M575.8 397.9h0M575.9 401.4h0M576.0 398.3h0M576.1 401.9h0M576.2 399.8h0M576.4 392.2h0M576.5 394.8h0M576.6 391.7h0M576.8 395.0h0M576.9 392.9h0M577.0 390.6h0M577.1 385.9h0M577.2 385.2h0M577.4 387.9h0M577.5 385.9h0M577.6 380.5h0M577.8 386.4h0M577.9 391.3h0M578.0 393.1h0M578.1 391.5h0M578.2 388.1h0M578.4 383.5h0M578.5 384.9h0M578.6 388.2h0M578.8 385.2h0M578.9 385.1h0M579.0 384.3h0M579.1 383.5h0M579.2 384.6h0M579.4 389.7h0M579.5 388.0h0M579.6 389.9h0M579.8 392.4h0M579.9 391.6h0M580.0 391.1h0M580.1 387.7h0M580.2 390.2h0M580.4 388.8h0M580.5 387.1h0M580.6 387.1h0M580.8 384.8h0M580.9 382.1h0M581.0 381.2h0M581.1 384.9h0M581.2 384.2h0M581.4 385.5h0M581.5 381.5h0M581.6 376.3h0M581.8 381.0h0M581.9 379.8h0M582.0 375.9h0M582.1 375.6h0M582.2 377.1h0M582.4 378.1h0M582.5 375.5h0M582.6 376.1h0M582.8 375.8h0M582.9 377.9h0M583.0 380.5h0M583.1 381.6h0M583.2 380.3h0M583.4 380.0h0M583.5 378.1h0M583.6 377.6h0M583.8 378.4h0M583.9 377.4h0M584.0 380.1h0M584.1 387.0h0M584.2 384.1h0M584.4 384.1h0M584.5 385.8h0M584.6 387.1h0M584.8 385.0h0M584.9 381.9h0M585.0 384.9h0M585.1 386.4h0M585.2 385.7h0M585.4 380.9h0M585.5 382.7h0M585.6 383.8h0M585.8 381.7h0M585.9 382.6h0M586.0 372.2h0M586.1 360.8h0M586.2 363.1h0M586.4 355.2h0M586.5 346.0h0M586.6 343.4h0M586.8 345.6h0M586.9 344.8h0M587.0 336.1h0M587.1 338.7h0M587.2 334.9h0M587.4 334.6h0M587.5 335.6h0M587.6 338.4h0M587.8 348.6h0M587.9 343.3h0M588.0 342.0h0M588.1 338.5h0M588.2 334.8h0M588.4 334.7h0M588.5 332.6h0M588.6 335.7h0M588.8 333.9h0M588.9 337.0h0M589.0 346.8h0M589.1 346.1h0M589.2 349.6h0M589.4 355.1h0M589.5 357.5h0M589.6 357.3h0M589.8 349.5h0M589.9 341.7h0M590.0 345.8h0M590.1 348.5h0M590.2 350.7h0M590.4 343.1h0M590.5 333.6h0M590.6 331.3h0M590.8 333.8h0M590.9 334.1h0M591.0 329.8h0M591.1 336.2h0M591.2 333.8h0M591.4 331.7h0M591.5 335.2h0M591.6 336.6h0M591.8 333.1h0M591.9 336.4h0M592.0 344.1h0M592.1 339.3h0M592.2 338.4h0M592.4 334.3h0M592.5 335.1h0M592.6 337.6h0M592.8 340.5h0M592.9 344.4h0M593.0 346.1h0M593.1 338.3h0M593.2 338.3h0M593.4 335.7h0M593.5 332.0h0M593.6 335.6h0M593.8 338.7h0M593.9 337.6h0M594.0 345.4h0M594.1 347.3h0M594.2 339.9h0M594.4 343.5h0M594.5 348.4h0M594.6 348.6h0M594.8 344.0h0M594.9 350.9h0M595.0 345.9h0M595.1 345.4h0M595.2 338.0h0M595.4 333.0h0M595.5 338.3h0M595.6 342.3h0M595.8 346.5h0M595.9 344.9h0M596.0 339.7h0M596.1 339.3h0M596.2 340.5h0M596.4 334.8h0M596.5 332.9h0M596.6 332.3h0M596.8 334.7h0M596.9 334.8h0M597.0 336.3h0M597.1 331.7h0M597.2 339.4h0M597.4 340.4h0M597.5 337.0h0M597.6 336.4h0M597.8 334.9h0M597.9 336.4h0M598.0 333.6h0M598.1 338.4h0M598.2 338.4h0M598.4 340.0h0M598.5 341.9h0M598.6 345.3h0M598.8 346.5h0M598.9 340.5h0M599.0 338.3h0M599.1 343.2h0M599.2 343.1h0M599.4 343.7h0M599.5 344.1h0M599.6 338.0h0M599.8 331.4h0M599.9 324.6h0M600.0 331.3h0M600.1 332.1h0M600.2 345.6h0M600.4 348.1h0M600.5 332.4h0M600.6 335.0h0M600.8 319.8h0M600.9 337.7h0M601.0 339.6h0M601.1 339.7h0M601.2 341.8h0M601.4 337.4h0M601.5 338.9h0M601.6 324.9h0M601.8 310.1h0M601.9 299.0h0M602.0 292.3h0M602.1 275.7h0M602.2 273.9h0M602.4 277.0h0M602.5 300.3h0M602.6 321.4h0M602.8 320.3h0M602.9 330.1h0M603.0 327.1h0M603.1 331.1h0M603.2 330.2h0M603.4 323.4h0M603.5 323.8h0M603.6 306.2h0M603.8 310.7h0M603.9 306.9h0M604.0 294.0h0M604.1 289.5h0M604.2 295.4h0M604.4 287.4h0M604.5 292.3h0M604.6 298.1h0M604.8 314.7h0M604.9 302.6h0M605.0 301.0h0M605.1 306.0h0M605.2 321.4h0M605.4 323.7h0M605.5 316.4h0M605.6 301.0h0M605.8 294.6h0M605.9 311.0h0M606.0 307.7h0M606.1 311.7h0M606.2 304.2h0M606.4 301.1h0M606.5 285.4h0M606.6 291.1h0M606.8 293.2h0M606.9 311.6h0M607.0 312.7h0M607.1 310.3h0M607.2 297.2h0M607.4 296.4h0M607.5 305.1h0M607.6 311.8h0M607.8 306.3h0M607.9 314.2h0M608.0 313.7h0M608.1 309.6h0M608.2 311.1h0M608.4 298.8h0M608.5 313.8h0M608.6 310.9h0M608.8 301.2h0M608.9 304.6h0M609.0 307.2h0M609.1 311.0h0M609.2 302.9h0M609.4 274.9h0M609.5 279.9h0M609.6 293.9h0M609.8 285.1h0M609.9 268.0h0M610.0 270.5h0M610.1 273.5h0M610.2 276.6h0M610.4 266.4h0M610.5 262.1h0M610.6 263.8h0M610.8 270.5h0M610.9 290.4h0M611.0 293.0h0M611.1 287.1h0M611.2 265.3h0M611.4 274.4h0M611.5 272.8h0M611.6 271.3h0M611.8 262.1h0M611.9 268.1h0M612.0 251.8h0M612.1 252.3h0M612.2 252.9h0M612.4 255.0h0M612.5 265.8h0M612.6 264.5h0M612.8 264.8h0M612.9 271.6h0M613.0 258.0h0M613.1 255.1h0M613.2 255.1h0M613.4 262.6h0M613.5 255.5h0M613.6 261.7h0M613.8 264.3h0M613.9 251.7h0M614.0 246.3h0M614.1 247.8h0M614.2 247.5h0M614.4 247.8h0M614.5 252.9h0M614.6 259.1h0M614.8 252.2h0M614.9 261.4h0M615.0 268.3h0M615.1 271.7h0M615.2 275.4h0M615.4 259.4h0M615.5 262.0h0M615.6 248.3h0M615.8 232.4h0M615.9 226.6h0M616.0 226.7h0M616.1 224.8h0M616.2 219.4h0M616.4 205.9h0M616.5 206.8h0M616.6 200.1h0M616.8 212.8h0M616.9 212.6h0M617.0 228.1h0M617.1 222.2h0M617.2 208.9h0M617.4 223.0h0M617.5 240.6h0M617.6 236.1h0M617.8 232.5h0M617.9 233.4h0M618.0 255.3h0M618.1 256.4h0M618.2 249.3h0M618.4 253.4h0M618.5 234.7h0M618.6 223.4h0M618.8 210.8h0M618.9 214.7h0M619.0 215.3h0M619.1 232.0h0M619.2 229.1h0M619.4 231.6h0M619.5 231.9h0M619.6 232.8h0M619.8 244.3h0M619.9 246.5h0M620.0 235.5h0M620.1 248.4h0M620.2 244.0h0M620.4 251.8h0M620.5 249.3h0M620.6 251.6h0M620.8 254.5h0M620.9 255.9h0M621.0 252.1h0M621.1 261.5h0M621.2 259.7h0M621.4 269.1h0M621.5 254.4h0M621.6 263.2h0M621.8 275.8h0M621.9 262.5h0M622.0 277.7h0M622.1 263.9h0M622.2 246.1h0M622.4 273.9h0M622.5 275.6h0M622.6 252.1h0M622.8 244.1h0M622.9 225.0h0M623.0 225.9h0M623.1 204.6h0M623.2 208.4h0M623.4 213.7h0M623.5 216.9h0M623.6 205.9h0M623.8 203.3h0M623.9 204.5h0M624.0 206.5h0M624.1 207.3h0M624.2 207.3h0M624.4 221.5h0M624.5 217.4h0M624.6 210.9h0M624.8 213.8h0M624.9 211.9h0M625.0 217.7h0M625.1 212.0h0M625.2 216.1h0M625.4 236.0h0M625.5 234.0h0M625.6 230.8h0M625.8 237.2h0M625.9 234.4h0M626.0 229.9h0M626.1 234.5h0M626.2 229.3h0M626.4 221.2h0M626.5 230.9h0M626.6 232.0h0M626.8 224.4h0M626.9 256.0h0M627.0 232.5h0M627.1 233.1h0M627.2 232.0h0M627.4 238.3h0M627.5 241.7h0M627.6 235.9h0M627.8 244.6h0M627.9 235.6h0M628.0 234.5h0M628.1 250.2h0M628.2 259.9h0M628.4 244.4h0M628.5 253.6h0M628.6 251.8h0M628.8 249.5h0M628.9 268.4h0M629.0 257.8h0M629.1 257.5h0M629.2 255.1h0M629.4 246.3h0M629.5 261.7h0M629.6 248.1h0M629.8 257.8h0M629.9 269.2h0M630.0 292.8h0M630.1 277.3h0M630.2 283.6h0M630.4 283.8h0M630.5 293.0h0M630.6 287.9h0M630.8 295.7h0M630.9 305.4h0M631.0 312.1h0M631.1 311.3h0M631.2 309.8h0M631.4 313.2h0M631.5 306.3h0M631.6 316.1h0M631.8 288.3h0M631.9 288.7h0M632.0 280.9h0M632.1 280.2h0M632.2 289.8h0M632.4 296.2h0M632.5 296.5h0M632.6 312.3h0M632.8 297.4h0M632.9 288.9h0M633.0 302.6h0M633.1 304.9h0M633.2 284.9h0M633.4 287.4h0M633.5 275.9h0M633.6 288.6h0M633.8 298.2h0M633.9 292.6h0M634.0 303.3h0M634.1 295.4h0M634.2 302.7h0M634.4 297.1h0M634.5 295.4h0M634.6 282.7h0M634.8 279.7h0M634.9 260.1h0M635.0 254.8h0M635.1 245.4h0M635.2 255.2h0M635.4 246.9h0M635.5 256.1h0M635.6 260.8h0M635.8 263.6h0M635.9 259.1h0M636.0 276.9h0M636.1 283.3h0M636.2 283.6h0M636.4 277.8h0M636.5 251.9h0M636.6 255.9h0M636.8 264.0h0M636.9 258.6h0M637.0 245.9h0M637.1 245.3h0M637.2 241.9h0M637.4 241.7h0M637.5 248.4h0M637.6 261.8h0M637.8 264.0h0M637.9 265.6h0M638.0 272.2h0M638.1 284.8h0M638.2 281.7h0M638.4 270.0h0M638.5 262.4h0M638.6 250.4h0M638.8 241.7h0M638.9 240.4h0M639.0 243.4h0M639.1 244.6h0M639.2 245.1h0M639.4 241.4h0M639.5 245.3h0M639.6 253.6h0M639.8 260.8h0M639.9 275.2h0M640.0 272.1h0M640.1 269.5h0M640.2 285.9h0M640.4 287.8h0M640.5 291.7h0M640.6 288.2h0M640.8 286.7h0M640.9 282.7h0M641.0 272.7h0M641.1 272.0h0M641.2 267.6h0M641.4 275.5h0M641.5 271.7h0M641.6 272.8h0M641.8 270.5h0M641.9 273.7h0M642.0 267.5h0M642.1 277.9h0M642.2 264.1h0M642.4 260.3h0M642.5 253.4h0M642.6 259.5h0M642.8 259.7h0M642.9 264.2h0M643.0 260.9h0M643.1 253.9h0M643.2 243.2h0M643.4 239.9h0M643.5 234.7h0M643.6 237.2h0M643.8 240.4h0M643.9 249.5h0M644.0 248.3h0M644.1 240.6h0M644.2 229.8h0M644.4 229.8h0M644.5 232.8h0M644.6 251.8h0M644.8 253.0h0M644.9 270.5h0M645.0 282.6h0M645.1 271.0h0M645.2 283.3h0M645.4 276.1h0M645.5 280.6h0M645.6 279.9h0M645.8 280.1h0M645.9 274.1h0M646.0 272.8h0M646.1 272.4h0M646.2 276.3h0M646.4 273.2h0M646.5 284.0h0M646.6 283.8h0M646.8 274.6h0M646.9 277.0h0M647.0 282.4h0M647.1 272.9h0M647.2 280.4h0M647.4 270.7h0M647.5 258.8h0M647.6 261.1h0M647.8 257.4h0M647.9 243.7h0M648.0 221.3h0M648.1 220.9h0M648.2 223.5h0M648.4 216.8h0M648.5 218.5h0M648.6 198.3h0M648.8 202.6h0M648.9 207.2h0M649.0 210.0h0M649.1 201.8h0M649.2 202.1h0M649.4 202.9h0M649.5 215.0h0M649.6 217.6h0M649.8 219.9h0M649.9 210.9h0M650.0 220.0h0M650.1 232.6h0M650.2 226.4h0M650.4 232.8h0M650.5 235.4h0M650.6 234.3h0M650.8 219.9h0M650.9 237.7h0M651.0 217.7h0M651.1 220.1h0M651.2 215.6h0M651.4 226.4h0M651.5 221.5h0M651.6 221.3h0M651.8 226.5h0M651.9 230.1h0M652.0 224.6h0M652.1 230.8h0M652.2 234.3h0M652.4 243.2h0M652.5 238.4h0M652.6 237.8h0M652.8 234.1h0M652.9 226.4h0M653.0 228.5h0M653.1 232.0h0M653.2 243.8h0M653.4 240.8h0M653.5 243.0h0M653.6 233.5h0M653.8 232.4h0M653.9 232.8h0M654.0 233.8h0M654.1 227.7h0M654.2 219.1h0M654.4 228.4h0M654.5 229.7h0M654.6 229.0h0M654.8 218.5h0M654.9 219.3h0M655.0 228.8h0M655.1 219.2h0M655.2 211.8h0M655.4 220.6h0M655.5 232.0h0M655.6 232.2h0M655.8 227.6h0M655.9 232.2h0M656.0 226.2h0M656.1 230.4h0M656.2 227.8h0M656.4 229.5h0M656.5 235.6h0M656.6 237.7h0M656.8 236.0h0M656.9 236.6h0M657.0 238.1h0M657.1 234.4h0M657.2 236.2h0M657.4 237.0h0M657.5 229.1h0M657.6 213.6h0M657.8 204.7h0M657.9 195.4h0M658.0 202.3h0M658.1 221.0h0M658.2 222.7h0M658.4 223.8h0M658.5 232.6h0M658.6 214.4h0M658.8 213.3h0M658.9 190.9h0M659.0 192.3h0M659.1 193.3h0M659.2 192.6h0M659.4 195.3h0M659.5 192.3h0M659.6 200.8h0M659.8 201.0h0M659.9 204.0h0M660.0 222.9h0M660.1 220.1h0M660.2 227.6h0M660.4 221.9h0M660.5 232.0h0M660.6 240.0h0M660.8 241.6h0M660.9 245.5h0M661.0 238.2h0M661.1 248.8h0M661.2 249.3h0M661.4 249.4h0M661.5 244.2h0M661.6 232.6h0M661.8 228.1h0M661.9 232.7h0M662.0 238.1h0M662.1 254.5h0M662.2 242.4h0M662.4 245.8h0M662.5 250.2h0M662.6 239.1h0M662.8 238.0h0M662.9 240.9h0M663.0 239.4h0M663.1 240.5h0M663.2 246.6h0M663.4 238.3h0M663.5 233.6h0M663.6 217.5h0M663.8 228.9h0M663.9 219.4h0M664.0 203.6h0M664.1 211.6h0M664.2 210.3h0M664.4 219.8h0M664.5 217.2h0M664.6 236.8h0M664.8 243.8h0M664.9 245.8h0M665.0 247.5h0M665.1 246.4h0M665.2 253.8h0M665.4 269.2h0M665.5 266.5h0M665.6 258.6h0M665.8 264.0h0M665.9 269.2h0M666.0 258.7h0M666.1 254.3h0M666.2 247.8h0M666.4 252.5h0M666.5 256.7h0M666.6 252.4h0M666.8 245.5h0M666.9 250.7h0M667.0 238.1h0M667.1 242.9h0M667.2 242.6h0M667.4 254.9h0M667.5 261.5h0M667.6 258.8h0M667.8 258.0h0M667.9 257.1h0M668.0 253.9h0M668.1 254.3h0M668.2 259.4h0M668.4 251.3h0M668.5 250.0h0M668.6 257.9h0M668.8 261.8h0M668.9 257.5h0M669.0 253.1h0M669.1 248.6h0M669.2 240.1h0M669.4 246.1h0M669.5 246.4h0M669.6 242.7h0M669.8 242.3h0M669.9 240.2h0M670.0 239.9h0M670.1 248.8h0M670.2 246.4h0M670.4 246.9h0M670.5 252.3h0M670.6 255.7h0M670.8 254.7h0M670.9 243.6h0M671.0 250.7h0M671.1 253.6h0M671.2 251.4h0M671.4 250.9h0M671.5 246.1h0M671.6 241.6h0M671.8 243.4h0M671.9 245.8h0M672.0 248.3h0M672.1 248.9h0M672.2 252.6h0M672.4 255.0h0M672.5 255.4h0M672.6 250.7h0M672.8 253.4h0M672.9 259.3h0M673.0 262.3h0M673.1 268.5h0M673.2 265.8h0M673.4 260.4h0M673.5 266.7h0M673.6 263.4h0M673.8 264.4h0M673.9 263.2h0M674.0 263.0h0M674.1 261.3h0M674.2 258.2h0M674.4 248.2h0M674.5 258.4h0M674.6 259.2h0M674.8 248.3h0M674.9 243.0h0M675.0 236.5h0M675.1 232.1h0M675.2 242.2h0M675.4 245.2h0M675.5 254.3h0M675.6 252.7h0M675.8 256.7h0M675.9 259.9h0M676.0 252.4h0M676.1 259.3h0M676.2 249.3h0M676.4 245.7h0M676.5 243.4h0M676.6 250.6h0M676.8 251.1h0M676.9 250.1h0M677.0 245.2h0M677.1 245.5h0M677.2 245.6h0M677.4 249.7h0M677.5 257.8h0M677.6 262.1h0M677.8 262.0h0M677.9 260.8h0M678.0 259.2h0M678.1 260.2h0M678.2 259.9h0M678.4 257.9h0M678.5 261.0h0M678.6 263.7h0M678.8 262.8h0M678.9 258.7h0M679.0 261.9h0M679.1 258.9h0M679.2 261.7h0M679.4 256.7h0M679.5 257.1h0M679.6 259.4h0M679.8 260.1h0M679.9 261.4h0M680.0 260.9h0M680.1 253.9h0M680.2 247.0h0M680.4 246.1h0M680.5 257.3h0M680.6 256.6h0M680.8 250.8h0M680.9 246.7h0M681.0 246.9h0M681.1 254.3h0M681.2 250.7h0M681.4 254.2h0M681.5 255.4h0M681.6 253.2h0M681.8 247.3h0M681.9 246.4h0M682.0 241.8h0M682.1 245.2h0M682.2 234.2h0M682.4 241.3h0M682.5 246.0h0M682.6 249.6h0M682.8 258.9h0M682.9 261.8h0M683.0 251.2h0M683.1 251.5h0M683.2 254.3h0M683.4 250.1h0M683.5 243.0h0M683.6 245.7h0M683.8 248.9h0M683.9 246.3h0M684.0 244.8h0M684.1 241.6h0M684.2 238.1h0M684.4 237.7h0M684.5 244.4h0M684.6 234.4h0M684.8 232.3h0M684.9 242.3h0M685.0 244.3h0M685.1 245.2h0M685.2 250.4h0M685.4 244.2h0M685.5 236.7h0M685.6 226.4h0M685.8 222.2h0M685.9 223.8h0M686.0 229.0h0M686.1 226.5h0M686.2 222.2h0M686.4 224.7h0M686.5 228.6h0M686.6 230.1h0M686.8 221.2h0M686.9 221.7h0M687.0 233.5h0M687.1 235.0h0M687.2 229.8h0M687.4 225.7h0M687.5 235.0h0M687.6 243.2h0M687.8 246.2h0M687.9 248.0h0M688.0 249.0h0M688.1 245.6h0M688.2 245.5h0M688.4 257.7h0M688.5 252.4h0M688.6 248.5h0M688.8 249.7h0M688.9 255.6h0M689.0 261.2h0M689.1 255.2h0M689.2 254.6h0M689.4 253.1h0M689.5 245.2h0M689.6 246.0h0M689.8 243.0h0M689.9 249.3h0M690.0 252.4h0M690.1 247.4h0M690.2 248.2h0M690.4 246.0h0M690.5 241.9h0M690.6 238.9h0M690.8 246.3h0M690.9 243.7h0M691.0 232.2h0M691.1 227.1h0M691.2 232.9h0M691.4 248.0h0M691.5 240.9h0M691.6 238.6h0M691.8 236.5h0M691.9 226.8h0M692.0 229.9h0M692.1 229.6h0M692.2 231.6h0M692.4 247.4h0M692.5 245.6h0M692.6 251.2h0M692.8 257.2h0M692.9 252.7h0M693.0 248.5h0M693.1 259.6h0M693.2 264.7h0M693.4 265.7h0M693.5 257.9h0M693.6 264.2h0M693.8 268.0h0M693.9 261.7h0M694.0 272.2h0M694.1 267.6h0M694.2 269.5h0M694.4 269.9h0M694.5 266.0h0M694.6 268.2h0M694.8 270.0h0M694.9 271.2h0M695.0 267.0h0M695.1 269.2h0M695.2 265.3h0M695.4 271.2h0M695.5 263.9h0M695.6 257.9h0M695.8 260.9h0M695.9 264.9h0M696.0 268.8h0M696.1 272.6h0M696.2 272.2h0M696.4 271.7h0M696.5 263.6h0M696.6 271.6h0M696.8 261.9h0M696.9 244.2h0M697.0 247.5h0M697.1 243.0h0M697.2 239.6h0M697.4 228.7h0M697.5 231.3h0M697.6 231.2h0M697.8 227.7h0M697.9 234.1h0M698.0 251.0h0M698.1 261.3h0M698.2 269.5h0M698.4 266.9h0M698.5 271.5h0M698.6 271.5h0M698.8 272.5h0M698.9 275.6h0M699.0 275.6h0M699.1 273.3h0M699.2 268.7h0M699.4 274.2h0M699.5 269.2h0M699.6 267.1h0M699.8 270.9h0M699.9 260.3h0M700.0 266.5h0M700.1 272.7h0M700.2 266.6h0M700.4 278.2h0M700.5 277.6h0M700.6 267.3h0M700.8 259.3h0M700.9 265.2h0M701.0 264.0h0M701.1 271.2h0M701.2 262.4h0M701.4 262.3h0M701.5 268.5h0M701.6 265.0h0M701.8 269.5h0M701.9 267.9h0M702.0 270.3h0M702.1 272.6h0M702.2 280.2h0M702.4 273.8h0M702.5 278.6h0M702.6 281.5h0M702.8 275.9h0M702.9 276.8h0M703.0 280.0h0M703.1 284.1h0M703.2 269.3h0M703.4 268.5h0M703.5 260.3h0M703.6 262.3h0M703.8 259.2h0M703.9 256.9h0M704.0 254.2h0M704.1 255.9h0M704.2 254.3h0M704.4 258.4h0M704.5 257.5h0M704.6 259.7h0M704.8 255.7h0M704.9 261.5h0M705.0 256.7h0M705.1 259.0h0M705.2 257.2h0M705.4 265.5h0M705.5 262.5h0M705.6 259.3h0M705.8 259.4h0M705.9 270.0h0M706.0 273.4h0M706.1 268.0h0M706.2 266.4h0M706.4 261.6h0M706.5 269.9h0M706.6 272.4h0M706.8 261.7h0M706.9 263.0h0M707.0 268.3h0M707.1 268.5h0M707.2 271.3h0M707.4 271.0h0M707.5 272.3h0M707.6 273.8h0M707.8 270.1h0M707.9 272.2h0M708.0 273.4h0M708.1 273.6h0M708.2 270.0h0M708.4 264.5h0M708.5 266.3h0M708.6 271.6h0M708.8 262.1h0M708.9 260.8h0M709.0 269.4h0M709.1 275.3h0M709.2 271.3h0M709.4 280.1h0M709.5 274.3h0M709.6 269.7h0M709.8 282.4h0M709.9 280.0h0M710.0 279.0h0M710.1 268.5h0M710.2 262.3h0M710.4 269.8h0M710.5 269.3h0M710.6 268.1h0M710.8 275.8h0M710.9 273.7h0M711.0 269.9h0M711.1 265.8h0M711.2 271.4h0M711.4 282.7h0M711.5 280.1h0M711.6 292.1h0M711.8 304.2h0M711.9 314.4h0M712.0 313.5h0M712.1 303.2h0M712.2 308.8h0M712.4 306.4h0M712.5 308.4h0M712.6 295.0h0M712.8 293.5h0M712.9 295.9h0M713.0 289.5h0M713.1 292.3h0M713.2 305.6h0M713.4 308.0h0M713.5 303.4h0M713.6 322.2h0M713.8 306.4h0M713.9 300.0h0M714.0 303.7h0M714.1 299.8h0M714.2 282.8h0M714.4 285.4h0M714.5 292.4h0M714.6 286.9h0M714.8 298.9h0M714.9 303.5h0M715.0 313.4h0M715.1 302.1h0M715.2 302.7h0M715.4 315.9h0M715.5 332.4h0M715.6 326.9h0M715.8 327.6h0M715.9 329.6h0M716.0 325.3h0M716.1 334.2h0M716.2 329.0h0M716.4 330.2h0M716.5 314.6h0M716.6 303.4h0M716.8 317.1h0M716.9 317.8h0M717.0 319.6h0M717.1 303.8h0M717.2 303.8h0M717.4 318.9h0M717.5 308.6h0M717.6 292.1h0M717.8 291.2h0M717.9 292.7h0M718.0 291.5h0M718.1 299.2h0M718.2 293.0h0M718.4 299.3h0M718.5 303.8h0M718.6 303.7h0M718.8 309.2h0M718.9 302.7h0M719.0 306.6h0M719.1 304.1h0M719.2 304.9h0M719.4 310.8h0M719.5 311.2h0M719.6 309.4h0M719.8 300.0h0M719.9 300.6h0M720.0 305.3h0M720.1 301.8h0M720.2 301.6h0M720.4 306.4h0M720.5 299.3h0M720.6 301.7h0M720.8 309.2h0M720.9 307.5h0M721.0 300.9h0M721.1 300.4h0M721.2 307.9h0M721.4 306.4h0M721.5 317.5h0M721.6 319.3h0M721.8 318.6h0M721.9 324.6h0M722.0 322.6h0M722.1 324.6h0M722.2 325.8h0M722.4 328.5h0M722.5 320.2h0M722.6 324.4h0M722.8 329.6h0M722.9 316.6h0M723.0 301.2h0M723.1 306.3h0M723.2 315.0h0M723.4 315.3h0M723.5 319.3h0M723.6 322.6h0M723.8 327.8h0M723.9 324.3h0M724.0 321.0h0M724.1 323.3h0M724.2 326.9h0M724.4 330.4h0M724.5 332.4h0M724.6 329.7h0M724.8 336.3h0M724.9 339.1h0M725.0 339.1h0M725.1 324.8h0M725.2 331.3h0M725.4 317.4h0M725.5 319.3h0M725.6 315.9h0M725.8 317.2h0M725.9 314.9h0M726.0 313.6h0M726.1 315.4h0M726.2 318.1h0M726.4 313.7h0M726.5 318.3h0M726.6 314.0h0M726.8 318.0h0M726.9 313.2h0M727.0 316.6h0M727.1 314.8h0M727.2 313.1h0M727.4 321.4h0M727.5 332.9h0M727.6 332.8h0M727.8 333.0h0M727.9 340.1h0M728.0 331.7h0M728.1 326.4h0M728.2 334.7h0M728.4 341.5h0M728.5 338.7h0M728.6 333.9h0M728.8 336.9h0M728.9 327.7h0M729.0 324.7h0M729.1 323.5h0M729.2 331.2h0M729.4 335.5h0M729.5 340.9h0M729.6 348.2h0M729.8 339.3h0M729.9 331.4h0M730.0 326.7h0M730.1 328.4h0M730.2 341.2h0M730.4 335.7h0M730.5 334.2h0M730.6 335.7h0M730.8 338.6h0M730.9 347.0h0M731.0 341.4h0M731.1 346.5h0M731.2 347.6h0M731.4 341.8h0M731.5 342.9h0M731.6 336.2h0M731.8 344.5h0M731.9 341.3h0M732.0 346.4h0M732.1 352.8h0M732.2 350.3h0M732.4 346.6h0M732.5 347.5h0M732.6 343.4h0M732.8 347.5h0M732.9 348.5h0M733.0 345.8h0M733.1 343.1h0M733.2 345.8h0M733.4 340.2h0M733.5 346.6h0M733.6 343.5h0M733.8 342.8h0M733.9 339.3h0M734.0 345.1h0M734.1 348.1h0M734.2 352.7h0M734.4 354.9h0M734.5 355.2h0M734.6 361.0h0M734.8 362.1h0M734.9 361.4h0M735.0 361.2h0M735.1 360.5h0M735.2 361.4h0M735.4 360.8h0M735.5 355.6h0M735.6 360.6h0M735.8 356.4h0M735.9 349.7h0M736.0 347.5h0M736.1 353.2h0M736.2 356.8h0M736.4 355.0h0M736.5 355.7h0M736.6 355.6h0M736.8 349.9h0M736.9 348.9h0M737.0 349.6h0M737.1 352.8h0M737.2 349.4h0M737.4 343.1h0M737.5 342.3h0M737.6 343.2h0M737.8 343.3h0M737.9 343.7h0M738.0 344.0h0M738.1 343.0h0M738.2 341.1h0M738.4 342.3h0M738.5 343.3h0M738.6 344.9h0M738.8 348.3h0M738.9 344.8h0M739.0 341.3h0M739.1 343.1h0M739.2 349.0h0M739.4 346.4h0M739.5 347.4h0M739.6 347.3h0M739.8 349.3h0M739.9 357.5h0M740.0 356.0h0M740.1 355.5h0M740.2 353.8h0M740.4 354.4h0M740.5 355.8h0M740.6 353.0h0M740.8 356.6h0M740.9 354.9h0M741.0 356.1h0M741.1 355.1h0M741.2 353.8h0M741.4 348.3h0M741.5 349.7h0M741.6 346.1h0M741.8 343.9h0M741.9 346.3h0M742.0 342.8h0M742.1 340.4h0M742.2 342.6h0M742.4 348.2h0M742.5 345.2h0M742.6 348.4h0M742.8 345.4h0M742.9 346.2h0M743.0 347.3h0M743.1 342.5h0M743.2 345.6h0M743.4 344.9h0M743.5 344.5h0M743.6 344.9h0M743.8 339.7h0M743.9 346.1h0M744.0 345.7h0M744.1 339.9h0M744.2 342.4h0M744.4 335.7h0M744.5 332.1h0M744.6 322.4h0M744.8 327.7h0M744.9 336.7h0M745.0 333.3h0M745.1 330.1h0M745.2 327.3h0M745.4 324.5h0M745.5 326.7h0M745.6 332.8h0M745.8 328.1h0M745.9 329.7h0M746.0 321.6h0M746.1 327.9h0M746.2 327.3h0M746.4 324.0h0M746.5 330.3h0M746.6 329.5h0M746.8 335.1h0M746.9 335.7h0M747.0 332.0h0M747.1 328.3h0M747.2 328.3h0M747.4 329.6h0M747.5 328.5h0M747.6 334.6h0M747.8 331.3h0M747.9 334.8h0M748.0 329.2h0M748.1 320.7h0M748.2 316.4h0M748.4 312.4h0M748.5 309.8h0M748.6 311.1h0M748.8 310.1h0M748.9 310.2h0M749.0 308.0h0M749.1 308.2h0M749.2 310.8h0M749.4 314.5h0M749.5 311.6h0M749.6 311.6h0M749.8 308.6h0M749.9 308.3h0M750.0 311.5h0M750.1 316.7h0M750.2 320.5h0M750.4 320.4h0M750.5 317.4h0M750.6 315.6h0M750.8 312.6h0M750.9 312.1h0M751.0 321.4h0M751.1 339.9h0M751.2 333.6h0M751.4 327.6h0M751.5 331.4h0M751.6 335.4h0M751.8 326.7h0M751.9 315.8h0M752.0 319.5h0M752.1 314.1h0M752.2 323.5h0M752.4 320.9h0M752.5 321.9h0M752.6 322.4h0M752.8 319.3h0M752.9 318.9h0M753.0 317.4h0M753.1 326.7h0M753.2 327.1h0M753.4 327.8h0M753.5 325.2h0M753.6 321.7h0M753.8 317.7h0M753.9 318.7h0M754.0 332.6h0M754.1 341.5h0M754.2 344.2h0M754.4 357.1h0M754.5 365.4h0M754.6 367.9h0M754.8 367.7h0M754.9 360.6h0M755.0 363.4h0M755.1 362.0h0M755.2 351.0h0M755.4 342.3h0M755.5 358.0h0M755.6 360.6h0M755.8 365.4h0M755.9 367.9h0M756.0 365.3h0M756.1 369.9h0M756.2 379.4h0M756.4 377.9h0M756.5 383.0h0M756.6 387.6h0M756.8 384.7h0M756.9 387.0h0M757.0 381.9h0M757.1 386.8h0M757.2 383.8h0M757.4 392.4h0M757.5 386.3h0M757.6 385.0h0M757.8 382.5h0M757.9 375.9h0M758.0 368.8h0M758.1 373.9h0M758.2 367.3h0M758.4 381.0h0M758.5 390.8h0M758.6 387.0h0M758.8 376.2h0M758.9 376.0h0M759.0 370.6h0M759.1 357.2h0M759.2 360.3h0M759.4 376.3h0M759.5 372.4h0M759.6 378.2h0M759.8 387.3h0M759.9 380.5h0M760.0 378.0h0M760.1 379.9h0M760.2 383.1h0M760.4 375.2h0M760.5 376.6h0M760.6 375.9h0M760.8 382.3h0M760.9 371.5h0M761.0 367.7h0M761.1 364.2h0M761.2 361.8h0M761.4 366.4h0M761.5 362.0h0M761.6 379.9h0M761.8 375.0h0M761.9 380.4h0M762.0 383.6h0M762.1 380.3h0M762.2 378.7h0M762.4 373.0h0M762.5 371.1h0M762.6 375.3h0M762.8 375.8h0M762.9 379.4h0M763.0 383.0h0M763.1 377.0h0M763.2 370.7h0M763.4 379.8h0M763.5 376.5h0M763.6 366.0h0M763.8 377.8h0M763.9 372.2h0M764.0 365.9h0M764.1 371.9h0M764.2 364.4h0M764.4 358.6h0M764.5 365.1h0M764.6 359.7h0M764.8 375.5h0M764.9 375.9h0M765.0 365.7h0M765.1 366.6h0M765.2 366.9h0M765.4 362.9h0M765.5 361.6h0M765.6 358.5h0M765.8 358.4h0M765.9 363.2h0M766.0 355.4h0M766.1 349.8h0M766.2 338.9h0M766.4 348.1h0M766.5 347.7h0M766.6 347.6h0M766.8 347.3h0M766.9 353.3h0M767.0 355.2h0M767.1 360.3h0M767.2 359.3h0M767.4 358.7h0M767.5 358.4h0M767.6 347.6h0M767.8 353.9h0M767.9 344.9h0M768.0 340.2h0M768.1 344.1h0M768.2 344.4h0M768.4 349.0h0M768.5 358.6h0M768.6 368.9h0M768.8 376.6h0M768.9 375.4h0M769.0 367.8h0M769.1 362.9h0M769.2 362.2h0M769.4 367.3h0M769.5 366.0h0M769.6 365.1h0M769.8 363.1h0M769.9 370.0h0M770.0 357.0h0M770.1 363.4h0M770.2 368.6h0M770.4 368.0h0M770.5 370.7h0M770.6 365.6h0M770.8 371.0h0M770.9 359.1h0M771.0 354.4h0M771.1 361.0h0M771.2 360.5h0M771.4 358.7h0M771.5 356.2h0M771.6 355.0h0M771.8 348.9h0M771.9 342.3h0M772.0 349.9h0M772.1 349.6h0M772.2 351.9h0M772.4 353.2h0M772.5 355.1h0M772.6 348.0h0M772.8 343.6h0M772.9 346.2h0M773.0 350.4h0M773.1 345.2h0M773.2 342.4h0M773.4 337.6h0M773.5 340.3h0M773.6 341.6h0M773.8 341.6h0M773.9 338.5h0M774.0 339.9h0M774.1 339.8h0M774.2 336.4h0M774.4 337.7h0M774.5 337.1h0M774.6 341.1h0M774.8 343.7h0M774.9 340.5h0M775.0 342.9h0M775.1 343.0h0M775.2 339.8h0M775.4 335.6h0M775.5 341.0h0M775.6 335.9h0M775.8 337.3h0M775.9 342.3h0M776.0 339.4h0M776.1 339.9h0M776.2 341.3h0M776.4 344.4h0M776.5 346.2h0M776.6 351.3h0M776.8 354.4h0M776.9 350.9h0M777.0 352.5h0M777.1 341.5h0M777.2 339.9h0M777.4 339.2h0M777.5 340.9h0M777.6 338.7h0M777.8 341.5h0M777.9 346.6h0M778.0 342.0h0M778.1 338.7h0M778.2 339.0h0M778.4 340.4h0M778.5 340.2h0M778.6 343.3h0M778.8 336.9h0M778.9 339.7h0M779.0 344.4h0M779.1 348.2h0M779.2 346.1h0M779.4 344.1h0M779.5 345.2h0M779.6 344.0h0M779.8 335.4h0M779.9 331.6h0M780.0 330.5h0M780.1 327.1h0M780.2 321.6h0M780.4 319.6h0M780.5 316.9h0M780.6 316.4h0M780.8 315.3h0M780.9 315.3h0M781.0 319.6h0M781.1 320.1h0M781.2 322.0h0M781.4 315.4h0M781.5 303.8h0M781.6 301.9h0M781.8 305.2h0M781.9 303.2h0M782.0 302.5h0M782.1 306.0h0M782.2 310.3h0M782.4 307.4h0M782.5 308.4h0M782.6 313.9h0M782.8 316.4h0M782.9 327.5h0M783.0 326.6h0M783.1 331.2h0M783.2 331.0h0M783.4 327.5h0M783.5 327.5h0M783.6 324.4h0M783.8 319.1h0M783.9 320.3h0M784.0 316.2h0M784.1 324.4h0M784.2 320.5h0M784.4 317.5h0M784.5 317.8h0M784.6 315.0h0M784.8 315.0h0M784.9 311.8h0M785.0 304.5h0M785.1 299.9h0M785.2 298.6h0M785.4 305.9h0M785.5 307.8h0M785.6 308.3h0M785.8 305.8h0M785.9 304.9h0M786.0 306.1h0M786.1 298.8h0M786.2 294.3h0M786.4 296.1h0M786.5 301.9h0M786.6 296.0h0M786.8 301.5h0M786.9 298.6h0M787.0 312.4h0M787.1 311.4h0M787.2 311.1h0M787.4 317.8h0M787.5 322.0h0M787.6 318.1h0M787.8 311.7h0M787.9 317.5h0M788.0 316.1h0M788.1 315.0h0M788.2 311.7h0M788.4 304.9h0M788.5 310.3h0M788.6 311.5h0M788.8 311.0h0M788.9 303.1h0M789.0 312.3h0M789.1 317.0h0M789.2 316.4h0M789.4 309.3h0M789.5 302.9h0M789.6 307.9h0M789.8 301.1h0M789.9 309.5h0M790.0 307.2h0M790.1 314.1h0M790.2 310.7h0M790.4 312.0h0M790.5 304.1h0M790.6 297.8h0M790.8 297.5h0M790.9 291.7h0M791.0 295.9h0M791.1 291.5h0M791.2 288.6h0M791.4 286.6h0M791.5 292.3h0M791.6 285.7h0M791.8 284.7h0M791.9 282.1h0M792.0 278.3h0M792.1 273.3h0M792.2 271.6h0M792.4 271.8h0M792.5 263.0h0M792.6 263.3h0M792.8 261.4h0M792.9 260.7h0M793.0 271.1h0M793.1 265.5h0M793.2 264.4h0M793.4 262.4h0M793.5 266.1h0M793.6 263.1h0M793.8 254.2h0M793.9 260.6h0M794.0 260.6h0M794.1 261.4h0M794.2 266.0h0M794.4 263.3h0M794.5 266.0h0M794.6 260.8h0M794.8 266.6h0M794.9 266.0h0M795.0 262.5h0M795.1 263.0h0M795.2 271.1h0M795.4 266.7h0M795.5 260.4h0M795.6 255.1h0M795.8 249.1h0M795.9 248.6h0M796.0 250.1h0M796.1 249.0h0M796.2 249.7h0M796.4 255.5h0M796.5 253.7h0M796.6 246.9h0M796.8 253.0h0M796.9 254.0h0M797.0 250.1h0M797.1 248.5h0M797.2 250.4h0M797.4 252.6h0M797.5 243.8h0M797.6 243.7h0M797.8 243.9h0M797.9 242.8h0M798.0 249.0h0M798.1 246.5h0M798.2 245.4h0M798.4 252.5h0M798.5 243.4h0M798.6 243.8h0M798.8 246.5h0M798.9 242.4h0M799.0 257.4h0M799.1 259.2h0M799.2 262.7h0M799.4 260.4h0M799.5 274.1h0M799.6 277.8h0M799.8 273.8h0M799.9 281.8h0M800.0 271.8h0M800.1 268.5h0M800.2 270.7h0M800.4 271.9h0M800.5 266.2h0M800.6 276.6h0M800.8 286.3h0M800.9 280.6h0M801.0 283.4h0M801.1 279.7h0M801.2 277.2h0M801.4 284.0h0M801.5 285.2h0M801.6 284.8h0M801.8 285.9h0M801.9 278.5h0M802.0 287.0h0M802.1 281.8h0M802.2 290.5h0M802.4 287.2h0M802.5 284.0h0M802.6 290.7h0M802.8 291.9h0M802.9 287.3h0M803.0 283.3h0M803.1 287.5h0M803.2 284.3h0M803.4 288.6h0M803.5 285.6h0M803.6 277.2h0M803.8 272.1h0M803.9 271.1h0M804.0 272.8h0M804.1 267.7h0M804.2 277.3h0M804.4 269.8h0M804.5 264.2h0M804.6 267.9h0M804.8 271.5h0M804.9 268.3h0M805.0 275.8h0M805.1 264.4h0M805.2 277.4h0M805.4 291.3h0M805.5 279.2h0M805.6 280.0h0M805.8 290.3h0M805.9 290.6h0M806.0 285.0h0M806.1 282.9h0M806.2 284.0h0M806.4 287.9h0M806.5 273.3h0M806.6 271.2h0M806.8 284.4h0M806.9 261.0h0M807.0 263.6h0M807.1 270.3h0M807.2 272.3h0M807.4 273.4h0M807.5 283.4h0M807.6 284.0h0M807.8 269.5h0M807.9 262.1h0M808.0 259.6h0M808.1 260.2h0M808.2 256.5h0M808.4 255.3h0M808.5 266.6h0M808.6 245.8h0M808.8 253.3h0M808.9 259.2h0M809.0 262.9h0M809.1 262.5h0M809.2 262.5h0M809.4 264.5h0M809.5 265.6h0M809.6 260.5h0M809.8 265.0h0M809.9 259.4h0M810.0 258.7h0M810.1 256.7h0M810.2 249.6h0M810.4 253.9h0M810.5 253.7h0M810.6 246.0h0M810.8 245.8h0M810.9 236.1h0M811.0 247.0h0M811.1 251.2h0M811.2 266.6h0M811.4 262.5h0M811.5 268.4h0M811.6 260.9h0M811.8 254.3h0M811.9 253.9h0M812.0 257.7h0M812.1 265.9h0M812.2 263.9h0M812.4 274.0h0M812.5 283.0h0M812.6 275.3h0M812.8 274.0h0M812.9 265.6h0M813.0 282.3h0M813.1 277.2h0M813.2 286.3h0M813.4 291.0h0M813.5 288.7h0M813.6 284.0h0M813.8 287.9h0M813.9 280.1h0M814.0 266.8h0M814.1 256.8h0M814.2 260.8h0M814.4 263.2h0M814.5 282.6h0M814.6 263.1h0M814.8 268.9h0M814.9 256.6h0M815.0 269.6h0M815.1 277.6h0M815.2 279.3h0M815.4 295.9h0M815.5 292.1h0M815.6 286.5h0M815.8 275.1h0M815.9 268.1h0M816.0 269.8h0M816.1 277.7h0M816.2 292.4h0M816.4 289.7h0M816.5 281.8h0M816.6 278.3h0M816.8 273.7h0M816.9 268.7h0M817.0 264.4h0M817.1 254.8h0M817.2 254.5h0M817.4 248.9h0M817.5 247.3h0M817.6 232.7h0M817.8 234.7h0M817.9 241.7h0M818.0 249.6h0M818.1 243.6h0M818.2 238.4h0M818.4 247.2h0M818.5 238.7h0M818.6 243.3h0M818.8 240.4h0M818.9 257.1h0M819.0 264.3h0M819.1 249.3h0M819.2 242.9h0M819.4 251.1h0M819.5 259.3h0M819.6 276.6h0M819.8 273.7h0M819.9 271.7h0M820.0 268.6h0M820.1 267.3h0M820.2 266.3h0M820.4 286.5h0M820.5 278.3h0M820.6 277.8h0M820.8 272.3h0M820.9 275.3h0M821.0 271.9h0M821.1 276.3h0M821.2 269.4h0M821.4 283.5h0M821.5 285.2h0M821.6 274.7h0M821.8 279.2h0M821.9 276.9h0M822.0 270.8h0M822.1 272.9h0M822.2 269.7h0M822.4 273.4h0M822.5 270.1h0M822.6 274.6h0M822.8 275.1h0M822.9 276.6h0M823.0 277.1h0M823.1 274.9h0M823.2 272.6h0M823.4 274.6h0M823.5 277.9h0M823.6 275.5h0M823.8 286.4h0M823.9 294.6h0M824.0 288.5h0M824.1 293.6h0M824.2 292.9h0M824.4 293.0h0M824.5 288.9h0M824.6 288.4h0M824.8 284.1h0M824.9 283.4h0M825.0 279.7h0M825.1 288.3h0M825.2 286.4h0M825.4 280.1h0M825.5 277.7h0M825.6 279.0h0M825.8 276.7h0M825.9 274.8h0M826.0 269.8h0M826.1 270.9h0M826.2 266.3h0M826.4 269.9h0M826.5 280.3h0M826.6 278.9h0M826.8 286.0h0M826.9 286.8h0M827.0 284.1h0M827.1 282.6h0M827.2 278.6h0M827.4 279.2h0M827.5 282.2h0M827.6 286.1h0M827.8 285.0h0M827.9 280.1h0M828.0 279.8h0M828.1 286.8h0M828.2 286.5h0M828.4 286.3h0M828.5 277.9h0M828.6 276.2h0M828.8 278.4h0M828.9 274.7h0M829.0 280.1h0M829.1 277.9h0M829.2 274.5h0M829.4 272.2h0M829.5 271.9h0M829.6 275.9h0M829.8 273.7h0M829.9 266.8h0M830.0 266.5h0M830.1 268.9h0M830.2 275.3h0M830.4 271.2h0M830.5 277.3h0M830.6 280.3h0M830.8 282.4h0M830.9 279.8h0M831.0 276.7h0M831.1 273.4h0M831.2 277.3h0M831.4 278.5h0M831.5 282.9h0M831.6 290.2h0M831.8 290.6h0M831.9 290.8h0M832.0 286.2h0M832.1 281.6h0M832.2 280.3h0M832.4 279.3h0M832.5 278.2h0M832.6 279.1h0M832.8 276.4h0M832.9 281.0h0M833.0 276.3h0M833.1 273.7h0M833.2 273.1h0M833.4 273.4h0M833.5 275.9h0M833.6 278.5h0M833.8 278.2h0M833.9 281.6h0M834.0 284.2h0M834.1 282.4h0M834.2 282.7h0M834.4 284.4h0M834.5 291.9h0M834.6 290.7h0M834.8 292.4h0M834.9 294.7h0M835.0 299.5h0M835.1 299.4h0M835.2 297.8h0M835.4 294.4h0M835.5 293.8h0M835.6 287.3h0M835.8 287.5h0M835.9 296.1h0M836.0 297.4h0M836.1 298.1h0M836.2 299.4h0M836.4 300.2h0M836.5 296.0h0M836.6 293.9h0M836.8 293.7h0M836.9 294.6h0M837.0 292.0h0M837.1 292.0h0M837.2 289.8h0M837.4 285.6h0M837.5 283.7h0M837.6 286.0h0M837.8 289.3h0M837.9 294.3h0M838.0 296.7h0M838.1 296.1h0M838.2 294.4h0M838.4 289.0h0M838.5 287.3h0M838.6 293.0h0M838.8 297.3h0M838.9 298.3h0M839.0 297.6h0M839.1 297.7h0M839.2 299.5h0M839.4 299.6h0M839.5 301.3h0M839.6 298.6h0M839.8 299.0h0M839.9 297.8h0M840.0 302.0h0M840.1 297.5h0M840.2 302.6h0M840.4 302.4h0M840.5 300.7h0M840.6 300.9h0M840.8 301.6h0M840.9 300.8h0M841.0 302.6h0M841.1 300.5h0M841.2 294.1h0M841.4 297.0h0M841.5 297.1h0M841.6 303.9h0M841.8 305.6h0M841.9 297.7h0M842.0 302.9h0M842.1 299.8h0M842.2 301.8h0M842.4 311.0h0M842.5 314.6h0M842.6 309.6h0M842.8 309.0h0M842.9 301.5h0M843.0 304.3h0M843.1 306.6h0M843.2 301.6h0M843.4 303.5h0M843.5 307.7h0M843.6 311.3h0M843.8 307.9h0M843.9 304.2h0M844.0 298.4h0M844.1 291.5h0M844.2 292.9h0M844.4 292.9h0M844.5 299.4h0M844.6 300.6h0M844.8 298.7h0M844.9 290.7h0M845.0 298.8h0M845.1 299.5h0M845.2 299.1h0M845.4 293.1h0M845.5 287.0h0M845.6 290.4h0M845.8 284.5h0M845.9 287.7h0M846.0 291.2h0M846.1 288.3h0M846.2 278.4h0M846.4 280.2h0M846.5 287.6h0M846.6 282.4h0M846.8 274.8h0M846.9 280.2h0M847.0 280.5h0M847.1 276.5h0M847.2 282.4h0M847.4 280.4h0M847.5 282.2h0M847.6 279.5h0M847.8 275.2h0M847.9 275.7h0M848.0 271.0h0M848.1 271.0h0M848.2 267.9h0M848.4 273.2h0M848.5 277.7h0M848.6 287.1h0M848.8 291.0h0M848.9 291.4h0M849.0 292.0h0M849.1 289.5h0M849.2 290.9h0M849.4 286.3h0M849.5 288.8h0M849.6 286.4h0M849.8 286.8h0M849.9 282.9h0M850.0 281.8h0M850.1 285.5h0M850.2 284.6h0M850.4 281.9h0M850.5 282.9h0M850.6 286.4h0M850.8 285.6h0M850.9 280.7h0M851.0 274.3h0M851.1 268.7h0M851.2 273.0h0M851.4 272.5h0M851.5 274.5h0M851.6 279.0h0M851.8 280.1h0M851.9 282.1h0M852.0 279.9h0M852.1 271.9h0M852.2 273.9h0M852.4 272.6h0M852.5 274.5h0M852.6 268.4h0M852.8 266.9h0M852.9 276.4h0M853.0 271.2h0M853.1 270.9h0M853.2 277.2h0M853.4 275.0h0M853.5 275.0h0M853.6 261.7h0M853.8 265.4h0M853.9 261.9h0M854.0 268.9h0M854.1 267.5h0M854.2 264.4h0M854.4 266.4h0M854.5 264.0h0M854.6 259.7h0M854.8 269.3h0M854.9 275.3h0M855.0 275.3h0M855.1 270.8h0M855.2 274.2h0M855.4 271.5h0M855.5 271.1h0M855.6 270.8h0M855.8 273.2h0M855.9 268.6h0M856.0 270.7h0M856.1 265.7h0M856.2 264.6h0M856.4 267.7h0M856.5 259.5h0M856.6 258.9h0M856.8 264.3h0M856.9 265.1h0M857.0 262.4h0M857.1 261.6h0M857.2 257.4h0M857.4 264.5h0M857.5 261.2h0M857.6 247.6h0M857.8 237.8h0M857.9 239.6h0M858.0 240.7h0M858.1 236.5h0M858.2 226.0h0M858.4 224.3h0M858.5 217.4h0M858.6 211.8h0M858.8 211.3h0M858.9 206.2h0M859.0 208.1h0M859.1 207.1h0M859.2 204.8h0M859.4 204.4h0M859.5 214.8h0M859.6 226.2h0M859.8 232.8h0M859.9 226.6h0M860.0 226.2h0M860.1 232.6h0M860.2 238.2h0M860.4 224.9h0M860.5 224.0h0M860.6 217.5h0M860.8 223.0h0M860.9 227.6h0M861.0 222.8h0M861.1 240.0h0M861.2 237.2h0M861.4 240.3h0M861.5 238.4h0M861.6 237.1h0M861.8 242.9h0M861.9 237.7h0M862.0 233.1h0M862.1 245.8h0M862.2 245.0h0M862.4 243.9h0M862.5 232.1h0M862.6 243.2h0M862.8 239.0h0M862.9 241.7h0M863.0 241.6h0M863.1 236.2h0M863.2 231.3h0M863.4 215.3h0M863.5 218.4h0M863.6 230.1h0M863.8 238.1h0M863.9 238.3h0M864.0 239.6h0M864.1 230.0h0M864.2 217.0h0M864.4 223.4h0M864.5 225.1h0M864.6 235.0h0M864.8 232.2h0M864.9 223.1h0M865.0 227.5h0M865.1 221.7h0M865.2 205.4h0M865.4 199.0h0M865.5 190.3h0M865.6 178.8h0M865.8 173.3h0M865.9 182.8h0M866.0 206.2h0M866.1 223.7h0M866.2 219.6h0M866.4 231.1h0M866.5 230.4h0M866.6 234.4h0M866.8 227.6h0M866.9 226.7h0M867.0 210.1h0M867.1 228.2h0M867.2 220.6h0M867.4 226.4h0M867.5 220.6h0M867.6 223.2h0M867.8 211.6h0M867.9 207.6h0M868.0 216.7h0M868.1 222.9h0M868.2 203.9h0M868.4 212.9h0M868.5 200.1h0M868.6 203.2h0M868.8 208.9h0M868.9 202.4h0M869.0 199.5h0M869.1 197.1h0M869.2 201.6h0M869.4 211.5h0M869.5 225.9h0M869.6 229.6h0M869.8 232.7h0M869.9 222.7h0M870.0 241.7h0M870.1 239.0h0M870.2 238.3h0M870.4 237.1h0M870.5 238.4h0M870.6 228.6h0M870.8 233.1h0M870.9 233.4h0M871.0 235.4h0M871.1 235.3h0M871.2 235.8h0M871.4 243.9h0M871.5 242.1h0M871.6 242.2h0M871.8 245.0h0M871.9 234.1h0M872.0 244.9h0M872.1 233.4h0M872.2 227.0h0M872.4 227.5h0M872.5 237.1h0M872.6 248.1h0M872.8 246.4h0M872.9 227.0h0M873.0 225.7h0M873.1 241.4h0M873.2 241.2h0M873.4 239.7h0M873.5 242.3h0M873.6 248.8h0M873.8 233.2h0M873.9 214.2h0M874.0 208.3h0M874.1 216.3h0M874.2 227.9h0M874.4 227.1h0M874.5 238.3h0M874.6 244.7h0M874.8 241.8h0M874.9 225.2h0M875.0 217.2h0M875.1 207.4h0M875.2 197.2h0M875.4 214.8h0M875.5 205.8h0M875.6 197.5h0M875.8 193.9h0M875.9 203.4h0M876.0 199.2h0M876.1 207.2h0M876.2 213.2h0M876.4 207.5h0M876.5 189.1h0M876.6 196.9h0M876.8 193.9h0M876.9 209.0h0M877.0 203.6h0M877.1 195.1h0M877.2 198.8h0M877.4 199.8h0M877.5 202.2h0M877.6 211.1h0M877.8 218.3h0M877.9 220.8h0M878.0 216.3h0M878.1 211.0h0M878.2 211.9h0M878.4 214.9h0M878.5 217.9h0M878.6 213.0h0M878.8 213.7h0M878.9 232.3h0M879.0 227.1h0M879.1 219.0h0M879.2 222.5h0M879.4 221.0h0M879.5 219.5h0M879.6 222.6h0M879.8 222.7h0M879.9 227.0h0M880.0 229.4h0M880.1 233.5h0M880.2 233.8h0M880.4 225.2h0M880.5 230.3h0M880.6 223.1h0M880.8 227.2h0M880.9 228.1h0M881.0 222.0h0M881.1 222.1h0M881.2 225.9h0M881.4 220.9h0M881.5 220.9h0M881.6 217.1h0M881.8 217.8h0M881.9 214.4h0M882.0 220.8h0M882.1 224.3h0M882.2 224.0h0M882.4 223.3h0M882.5 223.9h0M882.6 225.4h0M882.8 226.3h0M882.9 215.7h0M883.0 221.1h0M883.1 215.5h0M883.2 216.9h0M883.4 221.2h0M883.5 213.4h0M883.6 212.3h0M883.8 211.5h0M883.9 207.3h0M884.0 210.8h0M884.1 209.1h0M884.2 207.6h0M884.4 209.2h0M884.5 207.6h0M884.6 210.3h0M884.8 211.0h0M884.9 220.9h0M885.0 228.4h0M885.1 231.9h0M885.2 222.4h0M885.4 230.4h0M885.5 237.5h0M885.6 253.4h0M885.8 237.2h0M885.9 237.6h0M886.0 235.4h0M886.1 244.1h0M886.2 236.3h0M886.4 233.6h0M886.5 251.6h0M886.6 259.7h0M886.8 244.8h0M886.9 245.2h0M887.0 256.2h0M887.1 253.3h0M887.2 259.5h0M887.4 262.1h0M887.5 254.3h0M887.6 252.0h0M887.8 260.9h0M887.9 267.6h0M888.0 266.1h0M888.1 267.1h0M888.2 265.4h0M888.4 268.5h0M888.5 270.3h0M888.6 266.7h0M888.8 269.9h0M888.9 270.2h0M889.0 262.5h0M889.1 260.0h0M889.2 257.4h0M889.4 254.8h0M889.5 256.7h0M889.6 254.6h0M889.8 263.7h0M889.9 267.4h0M890.0 268.1h0M890.1 269.5h0M890.2 269.0h0M890.4 269.6h0M890.5 269.1h0M890.6 265.4h0M890.8 260.3h0M890.9 261.0h0M891.0 265.2h0M891.1 266.5h0M891.2 273.0h0M891.4 268.1h0M891.5 267.6h0M891.6 265.6h0M891.8 270.7h0M891.9 277.8h0M892.0 276.3h0M892.1 279.6h0M892.2 279.1h0M892.4 275.6h0M892.5 275.6h0M892.6 271.8h0M892.8 278.3h0M892.9 281.1h0M893.0 286.3h0M893.1 288.3h0M893.2 279.3h0M893.4 283.2h0M893.5 284.2h0M893.6 274.9h0M893.8 275.9h0M893.9 280.8h0M894.0 288.4h0M894.1 284.7h0M894.2 288.5h0M894.4 290.6h0M894.5 290.5h0M894.6 289.9h0M894.8 292.7h0M894.9 295.8h0M895.0 299.2h0M895.1 298.0h0M895.2 293.0h0M895.4 299.5h0M895.5 305.5h0M895.6 303.6h0M895.8 304.1h0M895.9 306.9h0M896.0 299.8h0M896.1 302.0h0M896.2 303.8h0M896.4 305.0h0M896.5 301.9h0M896.6 305.1h0M896.8 305.1h0M896.9 306.0h0M897.0 304.2h0M897.1 305.0h0M897.2 297.2h0M897.4 291.5h0M897.5 285.2h0M897.6 289.1h0M897.8 288.7h0M897.9 293.8h0M898.0 285.1h0M898.1 282.4h0M898.2 288.6h0M898.4 285.1h0M898.5 278.3h0M898.6 280.5h0M898.8 279.0h0M898.9 278.9h0M899.0 284.4h0M899.1 289.9h0M899.2 296.1h0M899.4 298.3h0M899.5 296.0h0M899.6 293.7h0M899.8 287.6h0M899.9 292.5h0M900.0 297.1h0M900.1 297.2h0M900.2 293.6h0M900.4 295.9h0M900.5 297.5h0M900.6 297.8h0M900.8 293.4h0M900.9 294.0h0M901.0 291.8h0M901.1 294.2h0M901.2 295.9h0M901.4 297.2h0M901.5 295.5h0M901.6 296.7h0M901.8 297.3h0M901.9 294.2h0M902.0 296.6h0M902.1 295.6h0M902.2 296.7h0M902.4 293.3h0M902.5 287.7h0M902.6 284.7h0M902.8 286.4h0M902.9 289.1h0M903.0 289.5h0M903.1 289.7h0M903.2 295.0h0M903.4 293.7h0M903.5 288.4h0M903.6 283.8h0M903.8 282.8h0M903.9 284.7h0M904.0 286.7h0M904.1 285.9h0M904.2 288.1h0M904.4 287.9h0M904.5 285.8h0M904.6 284.6h0M904.8 286.6h0M904.9 289.1h0M905.0 286.0h0M905.1 283.2h0M905.2 283.5h0M905.4 289.0h0M905.5 286.0h0M905.6 282.6h0M905.8 283.6h0M905.9 284.8h0M906.0 283.2h0M906.1 283.1h0M906.2 284.2h0M906.4 279.8h0M906.5 279.7h0M906.6 281.0h0M906.8 283.1h0M906.9 285.8h0M907.0 285.5h0M907.1 282.1h0M907.2 285.0h0M907.4 286.7h0M907.5 285.2h0M907.6 287.4h0M907.8 289.5h0M907.9 289.2h0M908.0 284.2h0M908.1 283.1h0M908.2 281.4h0M908.4 279.5h0M908.5 279.2h0M908.6 276.8h0M908.8 277.5h0M908.9 281.6h0M909.0 278.9h0M909.1 281.1h0M909.2 279.9h0M909.4 281.0h0M909.5 280.6h0M909.6 283.4h0M909.8 281.7h0M909.9 283.3h0M910.0 281.5h0M910.1 281.9h0M910.2 281.8h0M910.4 284.2h0M910.5 280.6h0M910.6 277.3h0M910.8 280.4h0M910.9 281.2h0M911.0 285.0h0M911.1 282.5h0M911.2 282.9h0M911.4 284.2h0M911.5 286.7h0M911.6 286.5h0M911.8 285.4h0M911.9 287.0h0M912.0 286.6h0M912.1 285.0h0M912.2 287.3h0M912.4 282.3h0M912.5 279.7h0M912.6 284.0h0M912.8 282.8h0M912.9 282.0h0M913.0 283.5h0M913.1 287.5h0M913.2 289.6h0M913.4 286.4h0M913.5 284.6h0M913.6 288.9h0M913.8 288.7h0M913.9 286.4h0M914.0 290.2h0M914.1 295.3h0M914.2 292.2h0M914.4 287.7h0M914.5 284.9h0M914.6 281.9h0M914.8 283.8h0M914.9 281.8h0M915.0 287.5h0M915.1 274.1h0M915.2 279.3h0M915.4 276.2h0M915.5 275.0h0M915.6 278.4h0M915.8 279.7h0M915.9 274.2h0M916.0 283.0h0M916.1 286.4h0M916.2 283.7h0M916.4 284.9h0M916.5 278.6h0M916.6 271.5h0M916.8 269.8h0M916.9 272.0h0M917.0 272.6h0M917.1 268.1h0M917.2 275.4h0M917.4 270.0h0M917.5 279.3h0M917.6 281.6h0M917.8 276.9h0M917.9 284.1h0M918.0 287.3h0M918.1 284.8h0M918.2 281.3h0M918.4 288.2h0M918.5 290.2h0M918.6 300.1h0M918.8 302.3h0M918.9 298.8h0M919.0 295.2h0M919.1 290.8h0M919.2 292.0h0M919.4 293.1h0M919.5 296.2h0M919.6 298.4h0M919.8 292.6h0M919.9 291.3h0M920.0 286.2h0M920.1 288.4h0M920.2 281.8h0M920.4 278.7h0M920.5 274.5h0M920.6 271.4h0M920.8 270.0h0M920.9 276.3h0M921.0 275.0h0M921.1 270.9h0M921.2 270.5h0M921.4 273.1h0M921.5 274.9h0M921.6 275.5h0M921.8 282.1h0M921.9 285.6h0M922.0 285.7h0M922.1 289.4h0M922.2 284.6h0M922.4 283.7h0M922.5 280.5h0M922.6 280.8h0M922.8 285.9h0M922.9 283.9h0M923.0 289.0h0M923.1 285.1h0M923.2 289.7h0M923.4 283.4h0M923.5 280.0h0M923.6 283.3h0M923.8 282.6h0M923.9 282.8h0M924.0 282.5h0M924.1 282.8h0M924.2 281.8h0M924.4 277.8h0M924.5 276.4h0M924.6 276.5h0M924.8 272.8h0M924.9 274.2h0M925.0 280.6h0M925.1 273.7h0M925.2 271.1h0M925.4 269.5h0M925.5 269.2h0M925.6 269.2h0M925.8 265.6h0M925.9 265.0h0M926.0 264.6h0M926.1 263.8h0M926.2 270.7h0M926.4 271.0h0M926.5 263.2h0M926.6 254.8h0M926.8 257.4h0M926.9 255.2h0M927.0 251.5h0M927.1 252.4h0M927.2 250.3h0M927.4 249.4h0M927.5 246.5h0M927.6 246.0h0M927.8 250.9h0M927.9 255.2h0M928.0 258.2h0M928.1 255.7h0M928.2 245.7h0M928.4 249.3h0M928.5 257.6h0M928.6 264.6h0M928.8 270.9h0M928.9 271.3h0M929.0 272.5h0M929.1 271.0h0M929.2 269.8h0M929.4 266.4h0M929.5 263.2h0M929.6 267.5h0M929.8 263.8h0M929.9 262.3h0M930.0 249.0h0M930.1 243.1h0M930.2 240.5h0M930.4 257.6h0M930.5 251.4h0M930.6 257.4h0M930.8 257.4h0M930.9 254.9h0M931.0 258.6h0M931.1 245.0h0M931.2 250.6h0M931.4 253.7h0M931.5 255.1h0M931.6 254.2h0M931.8 254.7h0M931.9 251.3h0M932.0 248.0h0M932.1 248.2h0M932.2 250.5h0M932.4 248.1h0M932.5 249.7h0M932.6 248.5h0M932.8 246.2h0M932.9 240.6h0M933.0 237.5h0M933.1 235.4h0M933.2 241.3h0M933.4 242.6h0M933.5 234.8h0M933.6 228.7h0M933.8 237.9h0M933.9 239.5h0M934.0 233.6h0M934.1 229.5h0M934.2 230.2h0M934.4 236.7h0M934.5 244.0h0M934.6 242.5h0M250.5 440.2h0M250.2 436.5h0M249.1 432.2h0M250.8 428.4h0M250.1 423.6h0M249.8 420.6h0M249.1 415.8h0M251.3 411.9h0M249.6 407.8h0M251.4 403.8h0M250.3 400.2h0M251.4 395.7h0M249.9 391.5h0M250.0 386.7h0M250.6 383.1h0M251.1 378.8h0M251.0 373.8h0M250.9 370.2h0M253.1 365.5h0M251.9 361.1h0M253.1 357.3h0M252.1 353.5h0M253.5 349.1h0M252.7 345.2h0M253.9 340.6h0M253.3 336.9h0M255.2 332.4h0M255.8 328.0h0M254.6 323.1h0M255.5 319.3h0M255.3 315.6h0M256.7 310.5h0M257.2 306.4h0M257.1 302.8h0M257.7 299.5h0M257.6 295.3h0M256.8 291.0h0M257.3 286.4h0M258.2 281.7h0M259.0 278.0h0M384.7 212.2h0M386.0 216.3h0M385.1 221.0h0M386.7 224.9h0M386.1 228.9h0M385.1 233.3h0M386.6 237.3h0M387.3 241.8h0M386.1 245.9h0M388.0 251.0h0M387.9 255.1h0M386.0 258.9h0M387.2 262.7h0M388.4 267.1h0M386.5 271.7h0M386.6 276.0h0M387.4 279.6h0M387.3 283.6h0M387.0 287.2h0M388.7 291.5h0M388.6 295.6h0M389.1 300.5h0M388.7 304.3h0M388.4 308.3h0M387.4 312.0h0M389.2 315.6h0M389.5 320.5h0M388.4 323.8h0M388.6 327.9h0M390.0 331.9h0M387.8 335.5h0M389.5 340.6h0M389.1 344.0h0M389.3 348.3h0M388.6 352.1h0M389.5 356.1h0M388.7 359.6h0M389.2 364.5h0M389.3 368.1h0M389.3 371.5h0M388.9 376.4h0M390.7 379.8h0M390.6 384.6h0M391.3 389.3h0M390.3 393.7h0M391.9 397.6h0M391.9 401.9h0M390.8 405.9h0M392.2 410.2h0M391.5 415.0h0M121.0 436.8h0M121.0 444.2h0M122.0 436.8h0M122.0 448.2h0M123.0 438.8h0M123.0 452.2h0M125.7 442.8h0M125.7 453.2h0M128.3 426.8h0M128.3 453.2h0M130.3 417.8h0M130.3 450.2h0M132.3 418.8h0M132.3 446.2h0M135.0 429.8h0M135.0 444.2h0M137.7 429.8h0M137.7 441.2h0M140.3 434.8h0M140.3 438.2h0M142.3 440.8h0M142.3 445.2h0M144.3 444.8h0M144.3 464.2h0M147.0 446.8h0M147.0 465.2h0M149.7 452.8h0M149.7 464.2h0M152.3 452.8h0M152.3 462.2h0M155.0 449.8h0M155.0 458.2h0M157.7 443.8h0M157.7 448.2h0M160.3 444.8h0M160.3 452.2h0M164.3 444.8h0M164.3 450.2h0M167.0 447.8h0M167.0 468.2h0M169.7 448.8h0M169.7 466.2h0M172.3 448.8h0M172.3 454.2h0M175.0 447.8h0M175.0 458.2h0M179.0 451.8h0M179.0 460.2h0M183.0 444.8h0M183.0 458.2h0M188.3 446.8h0M188.3 454.2h0M195.0 442.8h0M195.0 458.2h0M201.7 446.8h0M201.7 454.2h0M207.0 448.8h0M207.0 456.2h0M211.0 454.8h0M211.0 461.2h0M215.0 463.8h0M215.0 469.2h0M219.0 466.8h0M219.0 470.2h0M223.0 463.8h0M223.0 466.2h0M227.0 458.8h0M227.0 465.2h0M229.7 442.8h0M229.7 462.2h0M232.3 425.8h0M232.3 448.2h0M235.0 430.8h0M235.0 445.2h0M239.0 435.8h0M239.0 443.2h0M243.0 435.8h0M243.0 441.2h0M246.0 434.8h0M246.0 440.2h0M248.0 352.8h0M248.0 440.2h0M258.0 274.8h0M258.0 337.2h0M260.0 217.8h0M260.0 317.2h0M262.0 214.8h0M262.0 300.2h0M264.0 214.8h0M264.0 297.2h0M266.0 214.8h0M266.0 274.2h0M268.0 207.8h0M268.0 272.2h0M270.0 206.8h0M270.0 259.2h0M272.0 206.8h0M272.0 255.2h0M274.0 206.8h0M274.0 232.2h0M277.0 184.8h0M277.0 227.2h0M279.0 182.8h0M279.0 225.2h0M281.0 185.8h0M281.0 247.2h0M283.0 192.8h0M283.0 287.2h0M285.0 207.8h0M285.0 292.2h0M287.0 242.8h0M287.0 295.2h0M290.0 264.8h0M290.0 297.2h0M297.0 274.8h0M297.0 297.2h0M305.0 277.8h0M305.0 297.2h0M311.0 259.8h0M311.0 297.2h0M314.0 265.8h0M314.0 297.2h0M318.0 272.8h0M318.0 317.2h0M321.0 282.8h0M321.0 337.2h0M323.0 287.8h0M323.0 342.2h0M325.0 254.8h0M325.0 332.2h0M327.0 252.8h0M327.0 307.2h0M328.0 242.8h0M328.0 297.2h0M330.0 202.8h0M330.0 287.2h0M334.0 190.8h0M334.0 267.2h0M338.0 170.8h0M338.0 227.2h0M341.0 142.8h0M341.0 202.2h0M345.0 154.8h0M345.0 189.2h0M349.0 142.8h0M349.0 179.2h0M352.0 125.8h0M352.0 155.2h0M355.0 90.8h0M355.0 147.2h0M357.0 42.8h0M357.0 137.2h0M360.0 41.8h0M360.0 122.2h0M364.0 39.8h0M364.0 115.2h0M368.0 39.8h0M368.0 147.2h0M371.0 47.8h0M371.0 197.2h0M374.0 72.8h0M374.0 200.2h0M377.0 127.8h0M377.0 200.2h0M381.0 148.8h0M381.0 202.2h0M385.0 162.8h0M385.0 205.2h0M392.0 302.8h0M392.0 447.2h0M394.0 382.8h0M394.0 456.2h0M397.0 402.8h0M397.0 455.2h0M400.0 407.8h0M400.0 452.2h0M403.0 387.8h0M403.0 452.2h0M405.0 372.8h0M405.0 437.2h0M408.0 352.8h0M408.0 412.2h0M412.0 337.8h0M412.0 397.2h0M416.0 302.8h0M416.0 369.2h0M419.0 294.8h0M419.0 352.2h0M420.0 292.8h0M420.0 335.2h0M425.0 278.8h0M425.0 335.2h0M430.0 264.8h0M430.0 335.2h0M434.0 254.8h0M434.0 342.2h0M438.0 267.8h0M438.0 343.2h0M442.0 307.8h0M442.0 355.2h0M446.0 327.8h0M446.0 372.2h0M450.0 347.8h0M450.0 377.2h0M454.0 352.8h0M454.0 380.2h0M458.0 347.8h0M458.0 375.2h0M462.0 339.8h0M462.0 362.2h0M466.0 342.8h0M466.0 367.2h0M469.0 357.8h0M469.0 402.2h0M472.0 367.8h0M472.0 405.2h0M475.0 362.8h0M475.0 397.2h0M478.0 362.8h0M478.0 387.2h0M481.0 357.8h0M481.0 392.2h0M485.0 387.8h0M485.0 402.2h0M488.0 392.8h0M488.0 427.2h0M492.0 402.8h0M492.0 439.2h0M496.0 407.8h0M496.0 437.2h0M500.0 405.8h0M500.0 427.2h0M504.0 407.8h0M504.0 422.2h0M508.0 410.8h0M508.0 435.2h0M512.0 409.8h0M512.0 432.2h0M516.0 414.8h0M516.0 427.2h0M520.0 427.8h0M520.0 437.2h0M523.0 422.8h0M523.0 443.2h0M526.0 372.8h0M526.0 437.2h0M530.0 357.8h0M530.0 417.2h0M533.0 352.8h0M533.0 397.2h0M536.0 347.8h0M536.0 380.2h0M538.0 324.8h0M538.0 375.2h0M541.0 322.8h0M541.0 372.2h0M545.0 340.8h0M545.0 372.2h0M549.0 347.8h0M549.0 372.2h0M553.0 354.8h0M553.0 375.2h0M557.0 357.8h0M557.0 383.2h0M560.0 362.8h0M560.0 402.2h0M564.0 387.8h0M564.0 409.2h0M568.0 397.8h0M568.0 407.2h0M572.0 387.8h0M572.0 405.2h0M576.0 380.8h0M576.0 402.2h0M580.0 378.8h0M580.0 395.2h0M584.0 372.8h0M584.0 393.2h0M587.0 332.8h0M587.0 377.2h0M591.0 329.8h0M591.0 357.2h0M595.0 332.8h0M595.0 359.2h0M599.0 329.8h0M599.0 352.2h0M601.0 264.8h0M601.0 347.2h0M604.0 254.8h0M604.0 332.2h0M607.0 252.8h0M607.0 315.2h0M611.0 250.8h0M611.0 312.2h0M614.0 242.8h0M614.0 297.2h0M616.0 202.8h0M616.0 287.2h0M618.0 188.8h0M618.0 259.2h0M620.0 188.8h0M620.0 247.2h0M623.0 197.8h0M623.0 297.2h0M626.0 217.8h0M626.0 320.2h0M629.0 242.8h0M629.0 317.2h0M632.0 252.8h0M632.0 320.2h0M635.0 242.8h0M635.0 297.2h0M640.0 227.8h0M640.0 293.2h0M644.0 224.8h0M644.0 287.2h0M648.0 192.8h0M648.0 282.2h0M652.0 184.8h0M652.0 247.2h0M656.0 184.8h0M656.0 237.2h0M660.0 192.8h0M660.0 242.2h0M664.0 202.8h0M664.0 267.2h0M668.0 238.8h0M668.0 275.2h0M672.0 238.8h0M672.0 272.2h0M676.0 227.8h0M676.0 267.2h0M680.0 219.8h0M680.0 262.2h0M684.0 219.8h0M684.0 262.2h0M688.0 219.8h0M688.0 262.2h0M692.0 223.8h0M692.0 272.2h0M696.0 223.8h0M696.0 273.2h0M700.0 232.8h0M700.0 277.2h0M704.0 253.8h0M704.0 287.2h0M708.0 258.8h0M708.0 297.2h0M712.0 264.8h0M712.0 315.2h0M716.0 282.8h0M716.0 337.2h0M720.0 298.8h0M720.0 337.2h0M725.0 302.8h0M725.0 342.2h0M729.0 317.8h0M729.0 365.2h0M733.0 338.8h0M733.0 365.2h0M737.0 340.8h0M737.0 359.2h0M741.0 338.8h0M741.0 357.2h0M745.0 312.8h0M745.0 342.2h0M749.0 304.8h0M749.0 332.2h0M753.0 312.8h0M753.0 357.2h0M757.0 338.8h0M757.0 393.2h0M761.0 342.8h0M761.0 387.2h0M765.0 336.8h0M765.0 379.2h0M769.0 340.8h0M769.0 377.2h0M773.0 337.8h0M773.0 367.2h0M777.0 332.8h0M777.0 361.2h0M781.0 302.8h0M781.0 337.2h0M786.0 294.8h0M786.0 327.2h0M790.0 272.8h0M790.0 315.2h0M794.0 252.8h0M794.0 282.2h0M798.0 239.8h0M798.0 277.2h0M802.0 247.8h0M802.0 292.2h0M806.0 237.8h0M806.0 293.2h0M810.0 230.8h0M810.0 272.2h0M814.0 225.8h0M814.0 297.2h0M818.0 232.8h0M818.0 311.2h0M822.0 264.8h0M822.0 302.2h0M826.0 257.8h0M826.0 287.2h0M830.0 260.8h0M830.0 287.2h0M834.0 272.8h0M834.0 297.2h0M838.0 284.8h0M838.0 308.2h0M842.0 287.8h0M842.0 315.2h0M846.0 272.8h0M846.0 313.2h0M850.0 260.8h0M850.0 287.2h0M852.0 257.8h0M852.0 287.2h0M856.0 217.8h0M856.0 272.2h0M860.0 200.8h0M860.0 252.2h0M864.0 172.8h0M864.0 242.2h0M868.0 167.8h0M868.0 237.2h0M872.0 170.8h0M872.0 247.2h0M876.0 182.8h0M876.0 253.2h0M880.0 222.8h0M880.0 247.2h0M884.0 204.8h0M884.0 252.2h0M887.0 207.8h0M887.0 262.2h0M889.0 252.8h0M889.0 277.2h0M893.0 264.8h0M893.0 292.2h0M896.0 277.8h0M896.0 308.2h0M899.0 277.8h0M899.0 307.2h0M902.0 275.8h0M902.0 297.2h0M905.0 274.8h0M905.0 293.2h0M908.0 274.8h0M908.0 289.2h0M912.0 270.8h0M912.0 287.2h0M916.0 267.8h0M916.0 307.2h0M919.0 267.8h0M919.0 309.2h0M922.0 270.8h0M922.0 293.2h0M925.0 260.8h0M925.0 287.2h0M928.0 242.8h0M928.0 285.2h0M930.0 215.8h0M930.0 267.2h0M933.0 212.8h0M933.0 247.2h0M936.0 217.8h0M936.0 245.2h0" stroke="#000" stroke-width="5.5" stroke-linecap="round" fill="none"/>
<circle cx="131.5" cy="406.3" r="2.5" fill="#000"/>
<circle cx="263.3" cy="193.3" r="2.5" fill="#000"/>
<circle cx="270.3" cy="170" r="2.5" fill="#000"/>
<circle cx="270.3" cy="186.7" r="2.5" fill="#000"/>
<circle cx="263.3" cy="201.7" r="2.5" fill="#000"/>
<circle cx="311.7" cy="256.7" r="2.5" fill="#000"/>
<circle cx="340.8" cy="140" r="2.5" fill="#000"/>
<circle cx="355.8" cy="170" r="2.5" fill="#000"/>
<circle cx="357.5" cy="160.8" r="2.5" fill="#000"/>
<circle cx="370" cy="210" r="2.5" fill="#000"/>
<circle cx="385.8" cy="215.8" r="2.5" fill="#000"/>
<circle cx="386.7" cy="231.7" r="2.5" fill="#000"/>
<circle cx="462.5" cy="338.3" r="2.5" fill="#000"/>
<circle cx="470" cy="408.3" r="2.5" fill="#000"/>
<circle cx="896.2" cy="328" r="2.5" fill="#000"/>
<circle cx="917.7" cy="316" r="2.5" fill="#000"/>
<circle cx="837" cy="311" r="2.5" fill="#000"/>
<circle cx="768" cy="381" r="2.5" fill="#000"/>
<circle cx="626" cy="333" r="2.5" fill="#000"/>
<polyline points="120.3,442.4 122.3,445.4 124.3,441.6 126.3,444.9 128.3,441.0 130.3,443.8 132.3,440.2 133.7,444.8 135.0,443.4 137.2,445.2 139.5,439.9 141.7,441.2 143.5,440.3 145.2,444.8 147.0,443.8 149.0,448.9 151.0,448.2 153.0,451.9 155.0,450.7 157.2,452.9 159.5,448.5 161.7,450.5 163.5,448.9 165.2,453.2 167.0,451.7 169.0,453.2 171.0,449.6 173.0,451.1 175.0,446.7 176.8,451.9 178.5,451.4 180.3,457.8 182.1,456.4 183.9,461.4 185.7,459.8 187.5,461.6 189.2,457.4 191.0,459.2 193.2,457.0 195.5,461.8 197.7,459.5 199.7,461.3 201.7,457.3 203.7,458.6 205.7,454.8 207.5,458.9 209.2,458.2 211.0,462.9 212.8,462.4 214.5,467.4 216.3,466.6 218.1,468.9 219.9,465.4 221.7,468.2 223.0,464.6 224.3,466.8 225.7,459.0 227.0,457.1 229.0,444.8 231.0,438.4 233.2,427.0 235.3,421.8 237.5,409.1 239.8,402.2 242.0,389.3 243.8,386.5 245.5,378.0 247.3,374.4 249.3,364.1 251.3,359.2 253.3,347.4 255.3,341.7 257.6,326.2 260.0,317.9 261.8,307.1 263.5,302.3 265.3,291.8 267.3,285.0 269.3,272.1 271.3,268.3 273.3,258.3 275.0,254.3 276.7,243.9 279.2,251.9 281.7,253.8 284.2,258.9 286.7,258.4 288.9,264.6 291.1,264.2 293.3,270.1 295.4,268.4 297.5,273.0 299.6,272.0 301.7,276.2 303.8,273.6 305.9,275.8 307.9,272.7 310.0,276.1 312.5,268.4 315.0,266.1 317.2,259.8 319.5,259.9 321.7,253.6 323.9,253.5 326.1,247.9 328.3,248.5 330.0,236.9 331.7,231.4 333.8,218.9 335.9,211.8 338.0,198.9 340.2,189.0 342.4,173.2 344.5,163.7 346.7,148.3 348.8,140.6 350.9,125.9 352.9,118.0 355.0,103.8 356.6,114.8 358.3,120.5 360.8,131.8 363.3,137.0 365.8,154.6 368.3,166.1 370.8,184.3 373.3,195.1 375.8,208.3 378.3,215.2 380.4,230.0 382.5,238.5 384.6,251.3 386.7,258.6 389.2,274.6 391.7,285.3 393.6,299.7 395.6,307.0 397.5,321.6 399.6,334.4 401.7,353.1 403.6,361.1 405.6,374.1 407.5,381.6 409.4,380.7 411.4,373.0 413.3,371.7 415.4,363.7 417.5,362.5 419.6,354.6 421.7,353.4 423.4,347.0 425.0,346.7 427.5,339.2 430.0,337.6 432.5,330.0 435.0,337.2 437.5,338.1 440.0,345.2 442.5,342.9 445.0,347.4 447.5,345.9 450.0,349.8 451.6,351.2 453.3,358.3 455.5,355.2 457.8,358.5 460.0,355.1 462.2,361.8 464.5,362.0 466.7,368.3 469.2,370.8 471.7,380.1 473.8,378.2 475.9,382.6 477.9,380.3 480.0,385.0 482.2,384.2 484.5,390.8 486.7,390.2 488.8,394.9 490.9,393.8 492.9,398.4 495.0,396.5 497.5,404.0 500.0,405.0 502.2,411.1 504.5,410.5 506.7,416.2 508.9,413.8 511.1,417.7 513.3,415.1 514.6,418.8 516.0,416.4 517.8,415.7 519.5,408.4 521.3,407.7 523.1,404.0 524.9,405.4 526.7,401.8 528.9,405.8 531.1,403.8 533.3,407.6 535.1,402.2 536.9,402.7 538.7,397.8 540.7,398.9 542.7,394.9 544.7,395.6 546.7,391.3 548.9,390.3 551.1,384.1 553.3,382.8 555.5,379.7 557.8,382.0 560.0,378.4 562.5,382.4 565.0,380.4 567.5,378.5 570.0,370.6 572.5,368.8 575.0,361.7 577.5,359.6 580.0,352.1 582.5,352.4 585.0,346.6 587.0,344.5 589.0,337.1 591.0,335.2 593.0,329.8 595.0,330.0 597.0,324.4 599.0,323.2 601.0,314.9 603.0,313.4 605.0,302.2 607.0,297.6 609.0,290.6 611.0,289.2 613.0,282.4 615.0,281.6 617.0,274.6 619.0,274.9 621.0,267.9 623.0,267.4 625.0,262.7 627.0,264.1 629.0,260.3 631.0,261.6 633.0,253.9 635.0,252.2 637.0,244.9 639.0,243.8 641.0,239.1 643.0,240.4 645.0,236.2 647.0,237.3 649.5,232.1 652.0,233.4 654.0,232.1 656.0,237.8 658.0,236.4 660.0,238.3 662.0,234.1 664.0,236.5 666.0,232.6 668.5,235.4 671.0,232.1 673.2,238.5 675.5,238.7 677.8,244.5 680.0,244.8 682.0,250.6 684.0,250.5 686.0,256.3 688.0,256.3 690.0,264.4 692.0,266.2 694.0,273.5 696.0,272.0 698.0,276.5 700.0,274.3 702.0,280.0 704.0,280.0 706.0,285.2 708.0,283.6 710.0,288.3 712.0,286.9 714.0,291.5 716.0,292.4 718.0,299.6 720.0,300.3 722.0,307.2 724.0,306.8 726.0,312.3 728.0,312.0 730.0,317.4 732.5,317.2 735.0,322.5 737.5,322.0 740.0,327.4 741.5,326.3 743.0,331.6 745.5,329.9 748.0,333.3 750.5,331.5 753.0,335.8 755.5,329.7 758.0,330.5 760.5,325.4 763.0,325.7 765.0,319.9 767.0,320.2 769.0,314.3 771.5,314.6 774.0,308.5 776.5,308.8 779.0,302.6 781.0,306.7 783.0,304.9 785.0,309.3 787.5,306.7 790.0,309.8 792.5,304.3 795.0,304.8 797.5,298.8 800.0,299.4 802.5,294.2 805.0,294.7 807.5,288.7 810.0,289.2 812.5,287.5 815.0,291.5 817.5,289.5 820.0,293.4 822.5,288.8 825.0,289.6 827.5,284.3 830.0,285.2 832.5,280.2 835.0,280.8 837.5,274.8 840.0,275.6 842.0,273.5 844.0,277.0 846.0,274.1 848.0,278.4 850.0,275.3 852.0,278.6 854.0,276.2 856.0,276.6 858.0,271.1 860.0,271.9 862.0,266.8 864.0,268.2 866.5,263.4 869.0,264.3 871.5,259.0 874.0,259.6 876.5,257.8 879.0,261.7 881.5,260.2 884.0,264.1 886.4,259.8 888.8,260.4 891.2,255.8 893.6,256.1 896.0,251.4 898.5,252.2 901.0,246.2 903.5,246.7 906.0,241.6 908.3,245.5 910.7,243.7 913.0,247.9 915.4,245.7 917.7,250.1 920.0,245.2 922.4,245.7 924.7,240.4 927.0,240.9 929.3,235.5 931.6,236.5 934.0,230.8 936.3,231.6 938.0,227.5 939.8,229.2 942.1,228.7 944.5,234.0" fill="none" stroke="#0072B2" stroke-width="2.5" stroke-linejoin="round"/>
<path d="M937.6 225.5L939.5 219L941.5 213.5M939.8 222L942.3 214.5M941.2 211.5h0" stroke="#f00" stroke-width="5.5" stroke-linecap="round" fill="none"/>
<rect x="79.5" y="15.5" width="905.9" height="526.8" fill="none" stroke="#000" stroke-width="1.1"/>
<path d="M178.47 542.3v4.9M305.47 542.3v4.9M432.47 542.3v4.9M559.47 542.3v4.9M686.47 542.3v4.9M813.47 542.3v4.9M940.47 542.3v4.9M79.5 538.45h-4.9M79.5 474.45h-4.9M79.5 410.45h-4.9M79.5 346.45h-4.9M79.5 282.45h-4.9M79.5 218.45h-4.9M79.5 154.45h-4.9M79.5 90.45h-4.9M79.5 26.45h-4.9" stroke="#000" stroke-width="1.1" fill="none"/>
<text x="178.47" y="562.2" font-size="14" text-anchor="middle" textLength="36" lengthAdjust="spacingAndGlyphs">2002</text>
<text x="305.47" y="562.2" font-size="14" text-anchor="middle" textLength="36" lengthAdjust="spacingAndGlyphs">2006</text>
<text x="432.47" y="562.2" font-size="14" text-anchor="middle" textLength="36" lengthAdjust="spacingAndGlyphs">2010</text>
<text x="559.47" y="562.2" font-size="14" text-anchor="middle" textLength="36" lengthAdjust="spacingAndGlyphs">2014</text>
<text x="686.47" y="562.2" font-size="14" text-anchor="middle" textLength="36" lengthAdjust="spacingAndGlyphs">2018</text>
<text x="813.47" y="562.2" font-size="14" text-anchor="middle" textLength="36" lengthAdjust="spacingAndGlyphs">2022</text>
<text x="940.47" y="562.2" font-size="14" text-anchor="middle" textLength="36" lengthAdjust="spacingAndGlyphs">2026</text>
<text x="70.6" y="544.05" font-size="14" text-anchor="end" textLength="8.2" lengthAdjust="spacingAndGlyphs">0</text>
<text x="69.2" y="480.05" font-size="14" text-anchor="end" textLength="25.3" lengthAdjust="spacingAndGlyphs">500</text>
<text x="69.2" y="416.05" font-size="14" text-anchor="end" textLength="33.8" lengthAdjust="spacingAndGlyphs">1000</text>
<text x="69.2" y="352.05" font-size="14" text-anchor="end" textLength="33.8" lengthAdjust="spacingAndGlyphs">1500</text>
<text x="69.2" y="288.05" font-size="14" text-anchor="end" textLength="33.8" lengthAdjust="spacingAndGlyphs">2000</text>
<text x="69.2" y="224.05" font-size="14" text-anchor="end" textLength="33.8" lengthAdjust="spacingAndGlyphs">2500</text>
<text x="69.2" y="160.05" font-size="14" text-anchor="end" textLength="33.8" lengthAdjust="spacingAndGlyphs">3000</text>
<text x="69.2" y="96.05" font-size="14" text-anchor="end" textLength="33.8" lengthAdjust="spacingAndGlyphs">3500</text>
<text x="69.2" y="32.05" font-size="14" text-anchor="end" textLength="33.8" lengthAdjust="spacingAndGlyphs">4000</text>
<text x="532.5" y="582" font-size="14" text-anchor="middle" textLength="14.5" lengthAdjust="spacingAndGlyphs">ds</text>
<text x="0" y="0" font-size="14" text-anchor="middle" textLength="7.6" lengthAdjust="spacingAndGlyphs" transform="translate(25,278.6) rotate(-90)">y</text>
</svg></body></html>
